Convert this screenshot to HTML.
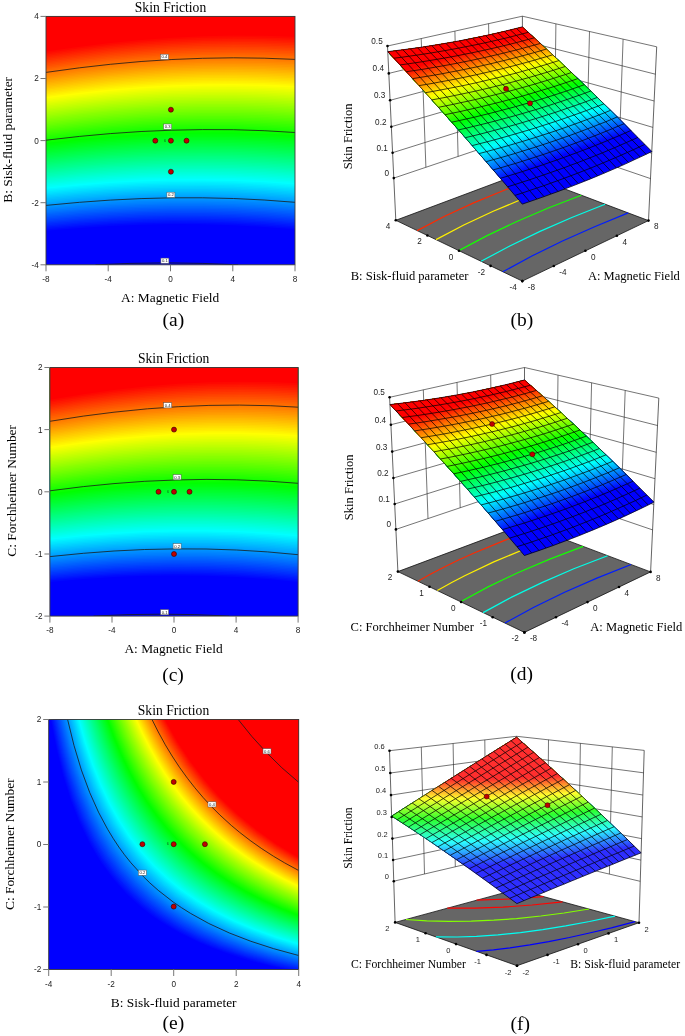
<!DOCTYPE html><html><head><meta charset="utf-8"><title>Skin Friction</title><style>
*{margin:0;padding:0}
html,body{width:685px;height:1036px;background:#fff;overflow:hidden}
svg{display:block}
.ti{font-family:"Liberation Serif",serif;font-size:13.6px;fill:#000}
.ax{font-family:"Liberation Serif",serif;font-size:13.4px;fill:#000}
.ax3{font-family:"Liberation Serif",serif;font-size:12.55px;fill:#000}
.ax3f{font-family:"Liberation Serif",serif;font-size:11.7px;fill:#000}
.cap{font-family:"Liberation Serif",serif;font-size:19.5px;fill:#000}
.tk{font-family:"Liberation Sans",sans-serif;font-size:8.2px;fill:#222}
.tk3{font-family:"Liberation Sans",sans-serif;font-size:8.2px;fill:#222}
.tk3f{font-family:"Liberation Sans",sans-serif;font-size:7.5px;fill:#222}
</style></head><body><svg width="685" height="1036" viewBox="0 0 685 1036"><clipPath id="c16"><rect x="46" y="16.4" width="249" height="248.4"/></clipPath><g clip-path="url(#c16)"><rect x="45" y="15.4" width="251" height="250.4" fill="#0000ff"/><path fill="#0008ff" d="M46 16.4 295 16.4 295 229.3 264.2 226.9 233.4 225.2 202.7 224.3 171.9 224.1 141.1 224.7 110.3 225.9 79.6 227.9 46 230.8 46 16.4Z"/><path fill="#0010ff" d="M46 16.4 295 16.4 295 227.9 264.2 225.5 233.4 223.8 202.7 222.9 171.9 222.7 141.1 223.3 110.3 224.6 79.6 226.5 46 229.5 46 16.4Z"/><path fill="#0018ff" d="M46 16.4 295 16.4 295 226.5 264.2 224 233.4 222.4 202.7 221.5 171.9 221.3 141.1 221.9 110.3 223.2 79.6 225.2 46 228.1 46 16.4Z"/><path fill="#0020ff" d="M46 16.4 295 16.4 295 225 264.2 222.6 233.4 221 202.7 220.1 171.9 220 141.1 220.5 110.3 221.8 79.6 223.8 46 226.8 46 16.4Z"/><path fill="#0028ff" d="M46 16.4 295 16.4 295 223.6 264.2 221.2 233.4 219.6 202.7 218.7 171.9 218.6 141.1 219.2 110.3 220.5 79.6 222.5 46 225.4 46 16.4Z"/><path fill="#0030ff" d="M46 16.4 295 16.4 295 222.2 264.2 219.8 233.4 218.1 202.7 217.3 171.9 217.2 141.1 217.8 110.3 219.1 79.6 221.1 46 224.1 46 16.4Z"/><path fill="#0038ff" d="M46 16.4 295 16.4 295 220.7 264.2 218.3 233.4 216.7 202.7 215.9 171.9 215.8 141.1 216.4 110.3 217.7 79.6 219.8 46 222.7 46 16.4Z"/><path fill="#0040ff" d="M46 16.4 295 16.4 295 219.3 264.2 216.9 233.4 215.3 202.7 214.5 171.9 214.4 141.1 215 110.3 216.4 79.6 218.4 46 221.4 46 16.4Z"/><path fill="#0048ff" d="M46 16.4 295 16.4 295 217.9 264.2 215.5 233.4 213.9 202.7 213.1 171.9 213 141.1 213.6 110.3 215 79.6 217 46 220 46 16.4Z"/><path fill="#0050ff" d="M46 16.4 295 16.4 295 216.4 264.2 214.1 233.4 212.5 202.7 211.7 171.9 211.6 141.1 212.2 110.3 213.6 79.6 215.7 46 218.7 46 16.4Z"/><path fill="#0058ff" d="M46 16.4 295 16.4 295 215 264.2 212.6 233.4 211.1 202.7 210.3 171.9 210.2 141.1 210.9 110.3 212.2 79.6 214.3 46 217.3 46 16.4Z"/><path fill="#0060ff" d="M46 16.4 295 16.4 295 213.5 264.2 211.2 233.4 209.6 202.7 208.8 171.9 208.8 141.1 209.5 110.3 210.9 79.6 213 46 216 46 16.4Z"/><path fill="#0068ff" d="M46 16.4 295 16.4 295 212.1 264.2 209.8 233.4 208.2 202.7 207.4 171.9 207.4 141.1 208.1 110.3 209.5 79.6 211.6 46 214.6 46 16.4Z"/><path fill="#0070ff" d="M46 16.4 295 16.4 295 210.6 264.2 208.3 233.4 206.8 202.7 206 171.9 206 141.1 206.7 110.3 208.1 79.6 210.2 46 213.3 46 16.4Z"/><path fill="#0078ff" d="M46 16.4 295 16.4 295 209.2 264.2 206.9 233.4 205.4 202.7 204.6 171.9 204.6 141.1 205.3 110.3 206.7 79.6 208.9 46 211.9 46 16.4Z"/><path fill="#0080ff" d="M46 16.4 295 16.4 295 207.8 264.2 205.5 233.4 203.9 202.7 203.2 171.9 203.2 141.1 203.9 110.3 205.3 79.6 207.5 46 210.6 46 16.4Z"/><path fill="#0087ff" d="M46 16.4 295 16.4 295 206.3 264.2 204 233.4 202.5 202.7 201.8 171.9 201.8 141.1 202.5 110.3 204 79.6 206.1 46 209.2 46 16.4Z"/><path fill="#008fff" d="M46 16.4 295 16.4 295 204.9 264.2 202.6 233.4 201.1 202.7 200.4 171.9 200.4 141.1 201.1 110.3 202.6 79.6 204.7 46 207.9 46 16.4Z"/><path fill="#0097ff" d="M46 16.4 295 16.4 295 203.4 264.2 201.1 233.4 199.7 202.7 198.9 171.9 199 141.1 199.7 110.3 201.2 79.6 203.4 46 206.5 46 16.4Z"/><path fill="#009fff" d="M46 16.4 295 16.4 295 202 264.2 199.7 233.4 198.2 202.7 197.5 171.9 197.6 141.1 198.3 110.3 199.8 79.6 202 46 205.2 46 16.4Z"/><path fill="#00a7ff" d="M46 16.4 295 16.4 295 200.5 264.2 198.3 233.4 196.8 202.7 196.1 171.9 196.1 141.1 196.9 110.3 198.4 79.6 200.6 46 203.8 46 16.4Z"/><path fill="#00afff" d="M46 16.4 295 16.4 295 199.1 264.2 196.8 233.4 195.4 202.7 194.7 171.9 194.7 141.1 195.5 110.3 197 79.6 199.3 46 202.4 46 16.4Z"/><path fill="#00b7ff" d="M46 16.4 295 16.4 295 197.6 264.2 195.4 233.4 193.9 202.7 193.2 171.9 193.3 141.1 194.1 110.3 195.7 79.6 197.9 46 201.1 46 16.4Z"/><path fill="#00bfff" d="M46 16.4 295 16.4 295 196.1 264.2 193.9 233.4 192.5 202.7 191.8 171.9 191.9 141.1 192.7 110.3 194.3 79.6 196.5 46 199.7 46 16.4Z"/><path fill="#00c7ff" d="M46 16.4 295 16.4 295 194.7 264.2 192.5 233.4 191.1 202.7 190.4 171.9 190.5 141.1 191.3 110.3 192.9 79.6 195.1 46 198.3 46 16.4Z"/><path fill="#00cfff" d="M46 16.4 295 16.4 295 193.2 264.2 191 233.4 189.6 202.7 189 171.9 189.1 141.1 189.9 110.3 191.5 79.6 193.7 46 197 46 16.4Z"/><path fill="#00d7ff" d="M46 16.4 295 16.4 295 191.8 264.2 189.6 233.4 188.2 202.7 187.5 171.9 187.7 141.1 188.5 110.3 190.1 79.6 192.4 46 195.6 46 16.4Z"/><path fill="#00dfff" d="M46 16.4 295 16.4 295 190.3 264.2 188.1 233.4 186.7 202.7 186.1 171.9 186.2 141.1 187.1 110.3 188.7 79.6 191 46 194.2 46 16.4Z"/><path fill="#00e7ff" d="M46 16.4 295 16.4 295 188.8 264.2 186.7 233.4 185.3 202.7 184.7 171.9 184.8 141.1 185.7 110.3 187.3 79.6 189.6 46 192.9 46 16.4Z"/><path fill="#00efff" d="M46 16.4 295 16.4 295 187.4 264.2 185.2 233.4 183.8 202.7 183.2 171.9 183.4 141.1 184.3 110.3 185.9 79.6 188.2 46 191.5 46 16.4Z"/><path fill="#00f7ff" d="M46 16.4 295 16.4 295 185.9 264.2 183.8 233.4 182.4 202.7 181.8 171.9 182 141.1 182.9 110.3 184.5 79.6 186.8 46 190.1 46 16.4Z"/><path fill="#00ffff" d="M46 16.4 295 16.4 295 184.5 264.2 182.3 233.4 181 202.7 180.4 171.9 180.6 141.1 181.5 110.3 183.1 79.6 185.4 46 188.8 46 16.4Z"/><path fill="#00fff7" d="M46 16.4 295 16.4 295 183 264.2 180.9 233.4 179.5 202.7 178.9 171.9 179.1 141.1 180.1 110.3 181.7 79.6 184.1 46 187.4 46 16.4Z"/><path fill="#00ffef" d="M46 16.4 295 16.4 295 181.5 264.2 179.4 233.4 178.1 202.7 177.5 171.9 177.7 141.1 178.6 110.3 180.3 79.6 182.7 46 186 46 16.4Z"/><path fill="#00ffe7" d="M46 16.4 295 16.4 295 180 264.2 177.9 233.4 176.6 202.7 176.1 171.9 176.3 141.1 177.2 110.3 178.9 79.6 181.3 46 184.6 46 16.4Z"/><path fill="#00ffdf" d="M46 16.4 295 16.4 295 178.6 264.2 176.5 233.4 175.2 202.7 174.6 171.9 174.8 141.1 175.8 110.3 177.5 79.6 179.9 46 183.3 46 16.4Z"/><path fill="#00ffd7" d="M46 16.4 295 16.4 295 177.1 264.2 175 233.4 173.7 202.7 173.2 171.9 173.4 141.1 174.4 110.3 176.1 79.6 178.5 46 181.9 46 16.4Z"/><path fill="#00ffcf" d="M46 16.4 295 16.4 295 175.6 264.2 173.5 233.4 172.3 202.7 171.7 171.9 172 141.1 173 110.3 174.7 79.6 177.1 46 180.5 46 16.4Z"/><path fill="#00ffc7" d="M46 16.4 295 16.4 295 174.1 264.2 172.1 233.4 170.8 202.7 170.3 171.9 170.6 141.1 171.6 110.3 173.3 79.6 175.7 46 179.1 46 16.4Z"/><path fill="#00ffbf" d="M46 16.4 295 16.4 295 172.7 264.2 170.6 233.4 169.3 202.7 168.9 171.9 169.1 141.1 170.1 110.3 171.9 79.6 174.3 46 177.7 46 16.4Z"/><path fill="#00ffb7" d="M46 16.4 295 16.4 295 171.2 264.2 169.1 233.4 167.9 202.7 167.4 171.9 167.7 141.1 168.7 110.3 170.5 79.6 172.9 46 176.4 46 16.4Z"/><path fill="#00ffaf" d="M46 16.4 295 16.4 295 169.7 264.2 167.7 233.4 166.4 202.7 166 171.9 166.3 141.1 167.3 110.3 169.1 79.6 171.5 46 175 46 16.4Z"/><path fill="#00ffa7" d="M46 16.4 295 16.4 295 168.2 264.2 166.2 233.4 165 202.7 164.5 171.9 164.8 141.1 165.9 110.3 167.6 79.6 170.1 46 173.6 46 16.4Z"/><path fill="#00ff9f" d="M46 16.4 295 16.4 295 166.7 264.2 164.7 233.4 163.5 202.7 163.1 171.9 163.4 141.1 164.4 110.3 166.2 79.6 168.7 46 172.2 46 16.4Z"/><path fill="#00ff97" d="M46 16.4 295 16.4 295 165.3 264.2 163.3 233.4 162 202.7 161.6 171.9 161.9 141.1 163 110.3 164.8 79.6 167.3 46 170.8 46 16.4Z"/><path fill="#00ff8f" d="M46 16.4 295 16.4 295 163.8 264.2 161.8 233.4 160.6 202.7 160.2 171.9 160.5 141.1 161.6 110.3 163.4 79.6 165.9 46 169.4 46 16.4Z"/><path fill="#00ff87" d="M46 16.4 295 16.4 295 162.3 264.2 160.3 233.4 159.1 202.7 158.7 171.9 159.1 141.1 160.2 110.3 162 79.6 164.5 46 168.1 46 16.4Z"/><path fill="#00ff80" d="M46 16.4 295 16.4 295 160.8 264.2 158.8 233.4 157.6 202.7 157.2 171.9 157.6 141.1 158.7 110.3 160.6 79.6 163.1 46 166.7 46 16.4Z"/><path fill="#00ff78" d="M46 16.4 295 16.4 295 159.3 264.2 157.3 233.4 156.2 202.7 155.8 171.9 156.2 141.1 157.3 110.3 159.1 79.6 161.7 46 165.3 46 16.4Z"/><path fill="#00ff70" d="M46 16.4 295 16.4 295 157.8 264.2 155.9 233.4 154.7 202.7 154.3 171.9 154.7 141.1 155.9 110.3 157.7 79.6 160.3 46 163.9 46 16.4Z"/><path fill="#00ff68" d="M46 16.4 295 16.4 295 156.3 264.2 154.4 233.4 153.2 202.7 152.9 171.9 153.3 141.1 154.4 110.3 156.3 79.6 158.9 46 162.5 46 16.4Z"/><path fill="#00ff60" d="M46 16.4 295 16.4 295 154.8 264.2 152.9 233.4 151.8 202.7 151.4 171.9 151.8 141.1 153 110.3 154.9 79.6 157.5 46 161.1 46 16.4Z"/><path fill="#00ff58" d="M46 16.4 295 16.4 295 153.3 264.2 151.4 233.4 150.3 202.7 149.9 171.9 150.4 141.1 151.6 110.3 153.5 79.6 156.1 46 159.7 46 16.4Z"/><path fill="#00ff50" d="M46 16.4 295 16.4 295 151.8 264.2 149.9 233.4 148.8 202.7 148.5 171.9 148.9 141.1 150.1 110.3 152 79.6 154.7 46 158.3 46 16.4Z"/><path fill="#00ff48" d="M46 16.4 295 16.4 295 150.3 264.2 148.4 233.4 147.3 202.7 147 171.9 147.5 141.1 148.7 110.3 150.6 79.6 153.2 46 156.9 46 16.4Z"/><path fill="#00ff40" d="M46 16.4 295 16.4 295 148.8 264.2 146.9 233.4 145.9 202.7 145.6 171.9 146 141.1 147.2 110.3 149.2 79.6 151.8 46 155.5 46 16.4Z"/><path fill="#00ff38" d="M46 16.4 295 16.4 295 147.3 264.2 145.5 233.4 144.4 202.7 144.1 171.9 144.6 141.1 145.8 110.3 147.7 79.6 150.4 46 154.1 46 16.4Z"/><path fill="#00ff30" d="M46 16.4 295 16.4 295 145.8 264.2 144 233.4 142.9 202.7 142.6 171.9 143.1 141.1 144.3 110.3 146.3 79.6 149 46 152.7 46 16.4Z"/><path fill="#00ff28" d="M46 16.4 295 16.4 295 144.3 264.2 142.5 233.4 141.4 202.7 141.1 171.9 141.7 141.1 142.9 110.3 144.9 79.6 147.6 46 151.3 46 16.4Z"/><path fill="#00ff20" d="M46 16.4 295 16.4 295 142.8 264.2 141 233.4 139.9 202.7 139.7 171.9 140.2 141.1 141.5 110.3 143.5 79.6 146.2 46 149.9 46 16.4Z"/><path fill="#00ff18" d="M46 16.4 295 16.4 295 141.3 264.2 139.5 233.4 138.4 202.7 138.2 171.9 138.7 141.1 140 110.3 142 79.6 144.7 46 148.5 46 16.4Z"/><path fill="#00ff10" d="M46 16.4 295 16.4 295 139.8 264.2 138 233.4 137 202.7 136.7 171.9 137.3 141.1 138.6 110.3 140.6 79.6 143.3 46 147.1 46 16.4Z"/><path fill="#00ff08" d="M46 16.4 295 16.4 295 138.3 264.2 136.5 233.4 135.5 202.7 135.3 171.9 135.8 141.1 137.1 110.3 139.1 79.6 141.9 46 145.7 46 16.4Z"/><path fill="#00ff00" d="M46 16.4 295 16.4 295 136.8 264.2 135 233.4 134 202.7 133.8 171.9 134.3 141.1 135.7 110.3 137.7 79.6 140.5 46 144.3 46 16.4Z"/><path fill="#08ff00" d="M46 16.4 295 16.4 295 135.3 264.2 133.5 233.4 132.5 202.7 132.3 171.9 132.9 141.1 134.2 110.3 136.3 79.6 139 46 142.9 46 16.4Z"/><path fill="#10ff00" d="M46 16.4 295 16.4 295 133.8 264.2 132 233.4 131 202.7 130.8 171.9 131.4 141.1 132.8 110.3 134.8 79.6 137.6 46 141.5 46 16.4Z"/><path fill="#18ff00" d="M46 16.4 295 16.4 295 132.3 264.2 130.5 233.4 129.5 202.7 129.3 171.9 129.9 141.1 131.3 110.3 133.4 79.6 136.2 46 140 46 16.4Z"/><path fill="#20ff00" d="M46 16.4 295 16.4 295 130.7 264.2 129 233.4 128 202.7 127.9 171.9 128.5 141.1 129.8 110.3 131.9 79.6 134.8 46 138.6 46 16.4Z"/><path fill="#28ff00" d="M46 16.4 295 16.4 295 129.2 264.2 127.5 233.4 126.5 202.7 126.4 171.9 127 141.1 128.4 110.3 130.5 79.6 133.3 46 137.2 46 16.4Z"/><path fill="#30ff00" d="M46 16.4 295 16.4 295 127.7 264.2 126 233.4 125 202.7 124.9 171.9 125.5 141.1 126.9 110.3 129.1 79.6 131.9 46 135.8 46 16.4Z"/><path fill="#38ff00" d="M46 16.4 295 16.4 295 126.2 264.2 124.4 233.4 123.5 202.7 123.4 171.9 124.1 141.1 125.5 110.3 127.6 79.6 130.5 46 134.4 46 16.4Z"/><path fill="#40ff00" d="M46 16.4 295 16.4 295 124.6 264.2 122.9 233.4 122 202.7 121.9 171.9 122.6 141.1 124 110.3 126.2 79.6 129 46 133 46 16.4Z"/><path fill="#48ff00" d="M46 16.4 295 16.4 295 123.1 264.2 121.4 233.4 120.5 202.7 120.4 171.9 121.1 141.1 122.5 110.3 124.7 79.6 127.6 46 131.5 46 16.4Z"/><path fill="#50ff00" d="M46 16.4 295 16.4 295 121.6 264.2 119.9 233.4 119 202.7 118.9 171.9 119.6 141.1 121.1 110.3 123.3 79.6 126.2 46 130.1 46 16.4Z"/><path fill="#58ff00" d="M46 16.4 295 16.4 295 120.1 264.2 118.4 233.4 117.5 202.7 117.4 171.9 118.1 141.1 119.6 110.3 121.8 79.6 124.7 46 128.7 46 16.4Z"/><path fill="#60ff00" d="M46 16.4 295 16.4 295 118.5 264.2 116.9 233.4 116 202.7 115.9 171.9 116.7 141.1 118.1 110.3 120.4 79.6 123.3 46 127.3 46 16.4Z"/><path fill="#68ff00" d="M46 16.4 295 16.4 295 117 264.2 115.3 233.4 114.5 202.7 114.5 171.9 115.2 141.1 116.7 110.3 118.9 79.6 121.8 46 125.9 46 16.4Z"/><path fill="#70ff00" d="M46 16.4 295 16.4 295 115.5 264.2 113.8 233.4 113 202.7 113 171.9 113.7 141.1 115.2 110.3 117.4 79.6 120.4 46 124.4 46 16.4Z"/><path fill="#78ff00" d="M46 16.4 295 16.4 295 113.9 264.2 112.3 233.4 111.5 202.7 111.5 171.9 112.2 141.1 113.7 110.3 116 79.6 119 46 123 46 16.4Z"/><path fill="#80ff00" d="M46 16.4 295 16.4 295 112.4 264.2 110.8 233.4 110 202.7 110 171.9 110.7 141.1 112.3 110.3 114.5 79.6 117.5 46 121.6 46 16.4Z"/><path fill="#87ff00" d="M46 16.4 295 16.4 295 110.9 264.2 109.3 233.4 108.5 202.7 108.5 171.9 109.2 141.1 110.8 110.3 113.1 79.6 116.1 46 120.1 46 16.4Z"/><path fill="#8fff00" d="M46 16.4 295 16.4 295 109.3 264.2 107.7 233.4 106.9 202.7 107 171.9 107.8 141.1 109.3 110.3 111.6 79.6 114.6 46 118.7 46 16.4Z"/><path fill="#97ff00" d="M46 16.4 295 16.4 295 107.8 264.2 106.2 233.4 105.4 202.7 105.5 171.9 106.3 141.1 107.8 110.3 110.2 79.6 113.2 46 117.3 46 16.4Z"/><path fill="#9fff00" d="M46 16.4 295 16.4 295 106.3 264.2 104.7 233.4 103.9 202.7 104 171.9 104.8 141.1 106.4 110.3 108.7 79.6 111.7 46 115.9 46 16.4Z"/><path fill="#a7ff00" d="M46 16.4 295 16.4 295 104.7 264.2 103.1 233.4 102.4 202.7 102.4 171.9 103.3 141.1 104.9 110.3 107.2 79.6 110.3 46 114.4 46 16.4Z"/><path fill="#afff00" d="M46 16.4 295 16.4 295 103.2 264.2 101.6 233.4 100.9 202.7 100.9 171.9 101.8 141.1 103.4 110.3 105.8 79.6 108.8 46 113 46 16.4Z"/><path fill="#b7ff00" d="M46 16.4 295 16.4 295 101.6 264.2 100.1 233.4 99.3 202.7 99.4 171.9 100.3 141.1 101.9 110.3 104.3 79.6 107.4 46 111.5 46 16.4Z"/><path fill="#bfff00" d="M46 16.4 295 16.4 295 100.1 264.2 98.5 233.4 97.8 202.7 97.9 171.9 98.8 141.1 100.4 110.3 102.8 79.6 105.9 46 110.1 46 16.4Z"/><path fill="#c7ff00" d="M46 16.4 295 16.4 295 98.5 264.2 97 233.4 96.3 202.7 96.4 171.9 97.3 141.1 99 110.3 101.3 79.6 104.5 46 108.7 46 16.4Z"/><path fill="#cfff00" d="M46 16.4 295 16.4 295 97 264.2 95.5 233.4 94.8 202.7 94.9 171.9 95.8 141.1 97.5 110.3 99.9 79.6 103 46 107.2 46 16.4Z"/><path fill="#d7ff00" d="M46 16.4 295 16.4 295 95.4 264.2 93.9 233.4 93.2 202.7 93.4 171.9 94.3 141.1 96 110.3 98.4 79.6 101.6 46 105.8 46 16.4Z"/><path fill="#dfff00" d="M46 16.4 295 16.4 295 93.9 264.2 92.4 233.4 91.7 202.7 91.9 171.9 92.8 141.1 94.5 110.3 96.9 79.6 100.1 46 104.3 46 16.4Z"/><path fill="#e7ff00" d="M46 16.4 295 16.4 295 92.3 264.2 90.8 233.4 90.2 202.7 90.3 171.9 91.3 141.1 93 110.3 95.5 79.6 98.6 46 102.9 46 16.4Z"/><path fill="#efff00" d="M46 16.4 295 16.4 295 90.8 264.2 89.3 233.4 88.7 202.7 88.8 171.9 89.8 141.1 91.5 110.3 94 79.6 97.2 46 101.5 46 16.4Z"/><path fill="#f7ff00" d="M46 16.4 295 16.4 295 89.2 264.2 87.7 233.4 87.1 202.7 87.3 171.9 88.3 141.1 90 110.3 92.5 79.6 95.7 46 100 46 16.4Z"/><path fill="#ffff00" d="M46 16.4 295 16.4 295 87.6 264.2 86.2 233.4 85.6 202.7 85.8 171.9 86.8 141.1 88.5 110.3 91 79.6 94.2 46 98.6 46 16.4Z"/><path fill="#fff700" d="M46 16.4 295 16.4 295 86.1 264.2 84.6 233.4 84 202.7 84.3 171.9 85.3 141.1 87 110.3 89.5 79.6 92.8 46 97.1 46 16.4Z"/><path fill="#ffef00" d="M46 16.4 295 16.4 295 84.5 264.2 83.1 233.4 82.5 202.7 82.7 171.9 83.7 141.1 85.5 110.3 88.1 79.6 91.3 46 95.7 46 16.4Z"/><path fill="#ffe700" d="M46 16.4 295 16.4 295 82.9 264.2 81.5 233.4 81 202.7 81.2 171.9 82.2 141.1 84 110.3 86.6 79.6 89.8 46 94.2 46 16.4Z"/><path fill="#ffdf00" d="M46 16.4 295 16.4 295 81.4 264.2 80 233.4 79.4 202.7 79.7 171.9 80.7 141.1 82.5 110.3 85.1 79.6 88.4 46 92.8 46 16.4Z"/><path fill="#ffd700" d="M46 16.4 295 16.4 295 79.8 264.2 78.4 233.4 77.9 202.7 78.1 171.9 79.2 141.1 81 110.3 83.6 79.6 86.9 46 91.3 46 16.4Z"/><path fill="#ffcf00" d="M46 16.4 295 16.4 295 78.2 264.2 76.9 233.4 76.3 202.7 76.6 171.9 77.7 141.1 79.5 110.3 82.1 79.6 85.4 46 89.8 46 16.4Z"/><path fill="#ffc700" d="M46 16.4 295 16.4 295 76.7 264.2 75.3 233.4 74.8 202.7 75.1 171.9 76.2 141.1 78 110.3 80.6 79.6 84 46 88.4 46 16.4Z"/><path fill="#ffbf00" d="M46 16.4 295 16.4 295 75.1 264.2 73.7 233.4 73.2 202.7 73.5 171.9 74.6 141.1 76.5 110.3 79.1 79.6 82.5 46 86.9 46 16.4Z"/><path fill="#ffb700" d="M46 16.4 295 16.4 295 73.5 264.2 72.2 233.4 71.7 202.7 72 171.9 73.1 141.1 75 110.3 77.6 79.6 81 46 85.5 46 16.4Z"/><path fill="#ffaf00" d="M46 16.4 295 16.4 295 71.9 264.2 70.6 233.4 70.1 202.7 70.5 171.9 71.6 141.1 73.5 110.3 76.1 79.6 79.5 46 84 46 16.4Z"/><path fill="#ffa700" d="M46 16.4 295 16.4 295 70.4 264.2 69.1 233.4 68.6 202.7 68.9 171.9 70.1 141.1 72 110.3 74.7 79.6 78 46 82.6 46 16.4Z"/><path fill="#ff9f00" d="M46 16.4 295 16.4 295 68.8 264.2 67.5 233.4 67 202.7 67.4 171.9 68.5 141.1 70.5 110.3 73.2 79.6 76.6 46 81.1 46 16.4Z"/><path fill="#ff9700" d="M46 16.4 295 16.4 295 67.2 264.2 65.9 233.4 65.5 202.7 65.8 171.9 67 141.1 69 110.3 71.7 79.6 75.1 46 79.6 46 16.4Z"/><path fill="#ff8f00" d="M46 16.4 295 16.4 295 65.6 264.2 64.3 233.4 63.9 202.7 64.3 171.9 65.5 141.1 67.4 110.3 70.2 79.6 73.6 46 78.2 46 16.4Z"/><path fill="#ff8700" d="M46 16.4 295 16.4 295 64 264.2 62.8 233.4 62.4 202.7 62.8 171.9 64 141.1 65.9 110.3 68.7 79.6 72.1 46 76.7 46 16.4Z"/><path fill="#ff8000" d="M46 16.4 295 16.4 295 62.4 264.2 61.2 233.4 60.8 202.7 61.2 171.9 62.4 141.1 64.4 110.3 67.2 79.6 70.6 46 75.2 46 16.4Z"/><path fill="#ff7800" d="M46 16.4 295 16.4 295 60.9 264.2 59.6 233.4 59.2 202.7 59.7 171.9 60.9 141.1 62.9 110.3 65.7 79.6 69.1 46 73.7 46 16.4Z"/><path fill="#ff7000" d="M46 16.4 295 16.4 295 59.3 264.2 58 233.4 57.7 202.7 58.1 171.9 59.4 141.1 61.4 110.3 64.1 79.6 67.7 46 72.3 46 16.4Z"/><path fill="#ff6800" d="M46 16.4 295 16.4 295 57.7 264.2 56.5 233.4 56.1 202.7 56.6 171.9 57.8 141.1 59.9 110.3 62.6 79.6 66.2 46 70.8 46 16.4Z"/><path fill="#ff6000" d="M46 16.4 295 16.4 295 56.1 264.2 54.9 233.4 54.5 202.7 55 171.9 56.3 141.1 58.3 110.3 61.1 79.6 64.7 46 69.3 46 16.4Z"/><path fill="#ff5800" d="M46 16.4 295 16.4 295 54.5 264.2 53.3 233.4 53 202.7 53.5 171.9 54.7 141.1 56.8 110.3 59.6 79.6 63.2 46 67.9 46 16.4Z"/><path fill="#ff5000" d="M46 16.4 295 16.4 295 52.9 264.2 51.7 233.4 51.4 202.7 51.9 171.9 53.2 141.1 55.3 110.3 58.1 79.6 61.7 46 66.4 46 16.4Z"/><path fill="#ff4800" d="M46 16.4 295 16.4 295 51.3 264.2 50.1 233.4 49.8 202.7 50.3 171.9 51.7 141.1 53.7 110.3 56.6 79.6 60.2 46 64.9 46 16.4Z"/><path fill="#ff4000" d="M46 16.4 295 16.4 295 49.7 264.2 48.5 233.4 48.2 202.7 48.8 171.9 50.1 141.1 52.2 110.3 55.1 79.6 58.7 46 63.4 46 16.4Z"/><path fill="#ff3800" d="M46 16.4 295 16.4 295 48.1 264.2 47 233.4 46.7 202.7 47.2 171.9 48.6 141.1 50.7 110.3 53.6 79.6 57.2 46 61.9 46 16.4Z"/><path fill="#ff3000" d="M46 16.4 295 16.4 295 46.5 264.2 45.4 233.4 45.1 202.7 45.7 171.9 47 141.1 49.2 110.3 52.1 79.6 55.7 46 60.5 46 16.4Z"/><path fill="#ff2800" d="M46 16.4 295 16.4 295 44.9 264.2 43.8 233.4 43.5 202.7 44.1 171.9 45.5 141.1 47.6 110.3 50.5 79.6 54.2 46 59 46 16.4Z"/><path fill="#ff2000" d="M46 16.4 295 16.4 295 43.3 264.2 42.2 233.4 41.9 202.7 42.5 171.9 43.9 141.1 46.1 110.3 49 79.6 52.7 46 57.5 46 16.4Z"/><path fill="#ff1800" d="M46 16.4 295 16.4 295 41.7 264.2 40.6 233.4 40.4 202.7 41 171.9 42.4 141.1 44.5 110.3 47.5 79.6 51.2 46 56 46 16.4Z"/><path fill="#ff1000" d="M46 16.4 295 16.4 295 40 264.2 39 233.4 38.8 202.7 39.4 171.9 40.8 141.1 43 110.3 46 79.6 49.7 46 54.5 46 16.4Z"/><path fill="#ff0800" d="M46 16.4 295 16.4 295 38.4 264.2 37.4 233.4 37.2 202.7 37.8 171.9 39.3 141.1 41.5 110.3 44.4 79.6 48.2 46 53 46 16.4Z"/><path fill="#ff0000" d="M46 16.4 295 16.4 295 36.8 264.2 35.8 233.4 35.6 202.7 36.2 171.9 37.7 141.1 39.9 110.3 42.9 79.6 46.7 46 51.5 46 16.4Z"/><polyline fill="none" stroke="#1a1a1a" stroke-width="0.8" points="238.2,264.8 202.7,263.4 166.3,262.9 129.9,263.4 95.5,264.8"/><polyline fill="none" stroke="#1a1a1a" stroke-width="0.8" points="295,202.3 264.2,200 233.4,198.5 202.7,197.8 171.9,197.8 141.1,198.6 110.3,200.1 79.6,202.3 46,205.4"/><polyline fill="none" stroke="#1a1a1a" stroke-width="0.8" points="295,132.5 264.2,130.7 233.4,129.7 202.7,129.6 171.9,130.2 141.1,131.5 110.3,133.6 79.6,136.4 46,140.2"/><polyline fill="none" stroke="#1a1a1a" stroke-width="0.8" points="295,59.4 264.2,58.2 233.4,57.8 202.7,58.3 171.9,59.5 141.1,61.5 110.3,64.3 79.6,67.8 46,72.4"/></g><rect x="160.5" y="54.2" width="8" height="5.2" fill="#fff" stroke="#555" stroke-width="0.5"/><text x="164.5" y="58.3" font-size="4.2" text-anchor="middle" font-family="Liberation Sans,sans-serif" fill="#222">0.4</text><rect x="163.6" y="124" width="8" height="5.2" fill="#fff" stroke="#555" stroke-width="0.5"/><text x="167.6" y="128.1" font-size="4.2" text-anchor="middle" font-family="Liberation Sans,sans-serif" fill="#222">0.3</text><rect x="166.9" y="192.2" width="8" height="5.2" fill="#fff" stroke="#555" stroke-width="0.5"/><text x="170.9" y="196.3" font-size="4.2" text-anchor="middle" font-family="Liberation Sans,sans-serif" fill="#222">0.2</text><rect x="160.9" y="258.1" width="8" height="5.2" fill="#fff" stroke="#555" stroke-width="0.5"/><text x="164.9" y="262.2" font-size="4.2" text-anchor="middle" font-family="Liberation Sans,sans-serif" fill="#222">0.1</text><circle cx="155.3" cy="140.7" r="2.5" fill="#c00000" stroke="#300" stroke-width="0.6"/><circle cx="170.9" cy="140.7" r="2.5" fill="#c00000" stroke="#300" stroke-width="0.6"/><circle cx="186.5" cy="140.7" r="2.5" fill="#c00000" stroke="#300" stroke-width="0.6"/><circle cx="170.9" cy="109.7" r="2.5" fill="#c00000" stroke="#300" stroke-width="0.6"/><circle cx="170.9" cy="171.7" r="2.5" fill="#c00000" stroke="#300" stroke-width="0.6"/><rect x="46" y="16.4" width="249" height="248.4" fill="none" stroke="#3a3a3a" stroke-width="0.9"/><text x="46" y="281.8" class="tk" text-anchor="middle">-8</text><text x="108.2" y="281.8" class="tk" text-anchor="middle">-4</text><text x="170.5" y="281.8" class="tk" text-anchor="middle">0</text><text x="232.8" y="281.8" class="tk" text-anchor="middle">4</text><text x="295" y="281.8" class="tk" text-anchor="middle">8</text><text x="38.7" y="267.7" class="tk" text-anchor="end">-4</text><text x="38.7" y="205.6" class="tk" text-anchor="end">-2</text><text x="38.7" y="143.5" class="tk" text-anchor="end">0</text><text x="38.7" y="81.4" class="tk" text-anchor="end">2</text><text x="38.7" y="19.3" class="tk" text-anchor="end">4</text><path d="M46 264.8v6.5M108.2 264.8v6.5M170.5 264.8v6.5M232.8 264.8v6.5M295 264.8v6.5M46 264.8h-5.5M46 202.7h-5.5M46 140.6h-5.5M46 78.5h-5.5M46 16.4h-5.5" stroke="#777" stroke-width="1" fill="none"/><text x="170.5" y="11.6" class="ti" text-anchor="middle">Skin Friction</text><text x="170.2" y="301.9" class="ax" text-anchor="middle">A: Magnetic Field</text><text transform="translate(11.9 139.8) rotate(-90)" class="ax" text-anchor="middle">B: Sisk-fluid parameter</text><text x="173.4" y="325.5" class="cap" text-anchor="middle">(a)</text><clipPath id="c367"><rect x="49.9" y="367.5" width="248.2" height="248.6"/></clipPath><g clip-path="url(#c367)"><rect x="48.9" y="366.5" width="250.2" height="250.6" fill="#0000ff"/><path fill="#0008ff" d="M49.9 367.5 298.1 367.5 298.1 582.1 267.4 579.1 236.7 577 206.1 575.8 175.4 575.4 144.7 575.8 114 577 83.4 579 49.9 582 49.9 367.5Z"/><path fill="#0010ff" d="M49.9 367.5 298.1 367.5 298.1 580.7 267.4 577.7 236.7 575.6 206.1 574.4 175.4 574 144.7 574.4 114 575.6 83.4 577.6 49.9 580.6 49.9 367.5Z"/><path fill="#0018ff" d="M49.9 367.5 298.1 367.5 298.1 579.2 267.4 576.3 236.7 574.2 206.1 573 175.4 572.6 144.7 573 114 574.2 83.4 576.3 49.9 579.3 49.9 367.5Z"/><path fill="#0020ff" d="M49.9 367.5 298.1 367.5 298.1 577.8 267.4 574.8 236.7 572.8 206.1 571.5 175.4 571.2 144.7 571.6 114 572.9 83.4 574.9 49.9 577.9 49.9 367.5Z"/><path fill="#0028ff" d="M49.9 367.5 298.1 367.5 298.1 576.3 267.4 573.4 236.7 571.3 206.1 570.1 175.4 569.8 144.7 570.2 114 571.5 83.4 573.5 49.9 576.6 49.9 367.5Z"/><path fill="#0030ff" d="M49.9 367.5 298.1 367.5 298.1 574.9 267.4 572 236.7 569.9 206.1 568.7 175.4 568.4 144.7 568.9 114 570.1 83.4 572.2 49.9 575.3 49.9 367.5Z"/><path fill="#0038ff" d="M49.9 367.5 298.1 367.5 298.1 573.4 267.4 570.5 236.7 568.5 206.1 567.3 175.4 567 144.7 567.5 114 568.7 83.4 570.8 49.9 573.9 49.9 367.5Z"/><path fill="#0040ff" d="M49.9 367.5 298.1 367.5 298.1 572 267.4 569.1 236.7 567 206.1 565.9 175.4 565.6 144.7 566.1 114 567.4 83.4 569.4 49.9 572.6 49.9 367.5Z"/><path fill="#0048ff" d="M49.9 367.5 298.1 367.5 298.1 570.5 267.4 567.6 236.7 565.6 206.1 564.5 175.4 564.2 144.7 564.7 114 566 83.4 568.1 49.9 571.2 49.9 367.5Z"/><path fill="#0050ff" d="M49.9 367.5 298.1 367.5 298.1 569.1 267.4 566.2 236.7 564.2 206.1 563 175.4 562.7 144.7 563.3 114 564.6 83.4 566.7 49.9 569.9 49.9 367.5Z"/><path fill="#0058ff" d="M49.9 367.5 298.1 367.5 298.1 567.6 267.4 564.7 236.7 562.7 206.1 561.6 175.4 561.3 144.7 561.9 114 563.2 83.4 565.3 49.9 568.5 49.9 367.5Z"/><path fill="#0060ff" d="M49.9 367.5 298.1 367.5 298.1 566.2 267.4 563.3 236.7 561.3 206.1 560.2 175.4 559.9 144.7 560.5 114 561.8 83.4 564 49.9 567.2 49.9 367.5Z"/><path fill="#0068ff" d="M49.9 367.5 298.1 367.5 298.1 564.7 267.4 561.8 236.7 559.9 206.1 558.8 175.4 558.5 144.7 559.1 114 560.5 83.4 562.6 49.9 565.8 49.9 367.5Z"/><path fill="#0070ff" d="M49.9 367.5 298.1 367.5 298.1 563.2 267.4 560.4 236.7 558.4 206.1 557.3 175.4 557.1 144.7 557.7 114 559.1 83.4 561.2 49.9 564.5 49.9 367.5Z"/><path fill="#0078ff" d="M49.9 367.5 298.1 367.5 298.1 561.8 267.4 558.9 236.7 557 206.1 555.9 175.4 555.7 144.7 556.3 114 557.7 83.4 559.9 49.9 563.1 49.9 367.5Z"/><path fill="#0080ff" d="M49.9 367.5 298.1 367.5 298.1 560.3 267.4 557.5 236.7 555.5 206.1 554.5 175.4 554.3 144.7 554.9 114 556.3 83.4 558.5 49.9 561.7 49.9 367.5Z"/><path fill="#0087ff" d="M49.9 367.5 298.1 367.5 298.1 558.8 267.4 556 236.7 554.1 206.1 553 175.4 552.8 144.7 553.5 114 554.9 83.4 557.1 49.9 560.4 49.9 367.5Z"/><path fill="#008fff" d="M49.9 367.5 298.1 367.5 298.1 557.4 267.4 554.6 236.7 552.6 206.1 551.6 175.4 551.4 144.7 552.1 114 553.5 83.4 555.7 49.9 559 49.9 367.5Z"/><path fill="#0097ff" d="M49.9 367.5 298.1 367.5 298.1 555.9 267.4 553.1 236.7 551.2 206.1 550.2 175.4 550 144.7 550.7 114 552.1 83.4 554.4 49.9 557.7 49.9 367.5Z"/><path fill="#009fff" d="M49.9 367.5 298.1 367.5 298.1 554.4 267.4 551.6 236.7 549.7 206.1 548.7 175.4 548.6 144.7 549.2 114 550.7 83.4 553 49.9 556.3 49.9 367.5Z"/><path fill="#00a7ff" d="M49.9 367.5 298.1 367.5 298.1 552.9 267.4 550.2 236.7 548.3 206.1 547.3 175.4 547.1 144.7 547.8 114 549.3 83.4 551.6 49.9 554.9 49.9 367.5Z"/><path fill="#00afff" d="M49.9 367.5 298.1 367.5 298.1 551.5 267.4 548.7 236.7 546.8 206.1 545.9 175.4 545.7 144.7 546.4 114 547.9 83.4 550.2 49.9 553.6 49.9 367.5Z"/><path fill="#00b7ff" d="M49.9 367.5 298.1 367.5 298.1 550 267.4 547.2 236.7 545.4 206.1 544.4 175.4 544.3 144.7 545 114 546.5 83.4 548.8 49.9 552.2 49.9 367.5Z"/><path fill="#00bfff" d="M49.9 367.5 298.1 367.5 298.1 548.5 267.4 545.8 236.7 543.9 206.1 543 175.4 542.9 144.7 543.6 114 545.1 83.4 547.4 49.9 550.8 49.9 367.5Z"/><path fill="#00c7ff" d="M49.9 367.5 298.1 367.5 298.1 547 267.4 544.3 236.7 542.5 206.1 541.5 175.4 541.4 144.7 542.2 114 543.7 83.4 546.1 49.9 549.5 49.9 367.5Z"/><path fill="#00cfff" d="M49.9 367.5 298.1 367.5 298.1 545.5 267.4 542.8 236.7 541 206.1 540.1 175.4 540 144.7 540.8 114 542.3 83.4 544.7 49.9 548.1 49.9 367.5Z"/><path fill="#00d7ff" d="M49.9 367.5 298.1 367.5 298.1 544.1 267.4 541.4 236.7 539.5 206.1 538.6 175.4 538.6 144.7 539.3 114 540.9 83.4 543.3 49.9 546.7 49.9 367.5Z"/><path fill="#00dfff" d="M49.9 367.5 298.1 367.5 298.1 542.6 267.4 539.9 236.7 538.1 206.1 537.2 175.4 537.1 144.7 537.9 114 539.5 83.4 541.9 49.9 545.3 49.9 367.5Z"/><path fill="#00e7ff" d="M49.9 367.5 298.1 367.5 298.1 541.1 267.4 538.4 236.7 536.6 206.1 535.7 175.4 535.7 144.7 536.5 114 538.1 83.4 540.5 49.9 544 49.9 367.5Z"/><path fill="#00efff" d="M49.9 367.5 298.1 367.5 298.1 539.6 267.4 536.9 236.7 535.2 206.1 534.3 175.4 534.2 144.7 535.1 114 536.7 83.4 539.1 49.9 542.6 49.9 367.5Z"/><path fill="#00f7ff" d="M49.9 367.5 298.1 367.5 298.1 538.1 267.4 535.4 236.7 533.7 206.1 532.8 175.4 532.8 144.7 533.6 114 535.3 83.4 537.7 49.9 541.2 49.9 367.5Z"/><path fill="#00ffff" d="M49.9 367.5 298.1 367.5 298.1 536.6 267.4 534 236.7 532.2 206.1 531.4 175.4 531.4 144.7 532.2 114 533.9 83.4 536.3 49.9 539.8 49.9 367.5Z"/><path fill="#00fff7" d="M49.9 367.5 298.1 367.5 298.1 535.1 267.4 532.5 236.7 530.7 206.1 529.9 175.4 529.9 144.7 530.8 114 532.4 83.4 534.9 49.9 538.4 49.9 367.5Z"/><path fill="#00ffef" d="M49.9 367.5 298.1 367.5 298.1 533.6 267.4 531 236.7 529.3 206.1 528.4 175.4 528.5 144.7 529.3 114 531 83.4 533.5 49.9 537.1 49.9 367.5Z"/><path fill="#00ffe7" d="M49.9 367.5 298.1 367.5 298.1 532.1 267.4 529.5 236.7 527.8 206.1 527 175.4 527 144.7 527.9 114 529.6 83.4 532.1 49.9 535.7 49.9 367.5Z"/><path fill="#00ffdf" d="M49.9 367.5 298.1 367.5 298.1 530.6 267.4 528 236.7 526.3 206.1 525.5 175.4 525.6 144.7 526.5 114 528.2 83.4 530.7 49.9 534.3 49.9 367.5Z"/><path fill="#00ffd7" d="M49.9 367.5 298.1 367.5 298.1 529.1 267.4 526.5 236.7 524.8 206.1 524 175.4 524.1 144.7 525 114 526.8 83.4 529.3 49.9 532.9 49.9 367.5Z"/><path fill="#00ffcf" d="M49.9 367.5 298.1 367.5 298.1 527.6 267.4 525 236.7 523.3 206.1 522.6 175.4 522.7 144.7 523.6 114 525.3 83.4 527.9 49.9 531.5 49.9 367.5Z"/><path fill="#00ffc7" d="M49.9 367.5 298.1 367.5 298.1 526.1 267.4 523.5 236.7 521.9 206.1 521.1 175.4 521.2 144.7 522.1 114 523.9 83.4 526.5 49.9 530.1 49.9 367.5Z"/><path fill="#00ffbf" d="M49.9 367.5 298.1 367.5 298.1 524.6 267.4 522 236.7 520.4 206.1 519.6 175.4 519.7 144.7 520.7 114 522.5 83.4 525.1 49.9 528.7 49.9 367.5Z"/><path fill="#00ffb7" d="M49.9 367.5 298.1 367.5 298.1 523.1 267.4 520.5 236.7 518.9 206.1 518.2 175.4 518.3 144.7 519.3 114 521.1 83.4 523.6 49.9 527.3 49.9 367.5Z"/><path fill="#00ffaf" d="M49.9 367.5 298.1 367.5 298.1 521.6 267.4 519 236.7 517.4 206.1 516.7 175.4 516.8 144.7 517.8 114 519.6 83.4 522.2 49.9 525.9 49.9 367.5Z"/><path fill="#00ffa7" d="M49.9 367.5 298.1 367.5 298.1 520 267.4 517.5 236.7 515.9 206.1 515.2 175.4 515.4 144.7 516.4 114 518.2 83.4 520.8 49.9 524.5 49.9 367.5Z"/><path fill="#00ff9f" d="M49.9 367.5 298.1 367.5 298.1 518.5 267.4 516 236.7 514.4 206.1 513.7 175.4 513.9 144.7 514.9 114 516.8 83.4 519.4 49.9 523.1 49.9 367.5Z"/><path fill="#00ff97" d="M49.9 367.5 298.1 367.5 298.1 517 267.4 514.5 236.7 512.9 206.1 512.2 175.4 512.4 144.7 513.5 114 515.3 83.4 518 49.9 521.7 49.9 367.5Z"/><path fill="#00ff8f" d="M49.9 367.5 298.1 367.5 298.1 515.5 267.4 513 236.7 511.4 206.1 510.8 175.4 511 144.7 512 114 513.9 83.4 516.6 49.9 520.3 49.9 367.5Z"/><path fill="#00ff87" d="M49.9 367.5 298.1 367.5 298.1 514 267.4 511.5 236.7 509.9 206.1 509.3 175.4 509.5 144.7 510.6 114 512.5 83.4 515.1 49.9 518.9 49.9 367.5Z"/><path fill="#00ff80" d="M49.9 367.5 298.1 367.5 298.1 512.4 267.4 510 236.7 508.4 206.1 507.8 175.4 508 144.7 509.1 114 511 83.4 513.7 49.9 517.5 49.9 367.5Z"/><path fill="#00ff78" d="M49.9 367.5 298.1 367.5 298.1 510.9 267.4 508.5 236.7 506.9 206.1 506.3 175.4 506.6 144.7 507.7 114 509.6 83.4 512.3 49.9 516.1 49.9 367.5Z"/><path fill="#00ff70" d="M49.9 367.5 298.1 367.5 298.1 509.4 267.4 506.9 236.7 505.4 206.1 504.8 175.4 505.1 144.7 506.2 114 508.1 83.4 510.9 49.9 514.7 49.9 367.5Z"/><path fill="#00ff68" d="M49.9 367.5 298.1 367.5 298.1 507.8 267.4 505.4 236.7 503.9 206.1 503.3 175.4 503.6 144.7 504.7 114 506.7 83.4 509.4 49.9 513.3 49.9 367.5Z"/><path fill="#00ff60" d="M49.9 367.5 298.1 367.5 298.1 506.3 267.4 503.9 236.7 502.4 206.1 501.8 175.4 502.1 144.7 503.3 114 505.2 83.4 508 49.9 511.9 49.9 367.5Z"/><path fill="#00ff58" d="M49.9 367.5 298.1 367.5 298.1 504.8 267.4 502.4 236.7 500.9 206.1 500.3 175.4 500.6 144.7 501.8 114 503.8 83.4 506.6 49.9 510.5 49.9 367.5Z"/><path fill="#00ff50" d="M49.9 367.5 298.1 367.5 298.1 503.2 267.4 500.9 236.7 499.4 206.1 498.8 175.4 499.2 144.7 500.3 114 502.3 83.4 505.1 49.9 509.1 49.9 367.5Z"/><path fill="#00ff48" d="M49.9 367.5 298.1 367.5 298.1 501.7 267.4 499.3 236.7 497.9 206.1 497.3 175.4 497.7 144.7 498.9 114 500.9 83.4 503.7 49.9 507.7 49.9 367.5Z"/><path fill="#00ff40" d="M49.9 367.5 298.1 367.5 298.1 500.2 267.4 497.8 236.7 496.4 206.1 495.8 175.4 496.2 144.7 497.4 114 499.4 83.4 502.3 49.9 506.2 49.9 367.5Z"/><path fill="#00ff38" d="M49.9 367.5 298.1 367.5 298.1 498.6 267.4 496.3 236.7 494.8 206.1 494.3 175.4 494.7 144.7 495.9 114 498 83.4 500.8 49.9 504.8 49.9 367.5Z"/><path fill="#00ff30" d="M49.9 367.5 298.1 367.5 298.1 497.1 267.4 494.7 236.7 493.3 206.1 492.8 175.4 493.2 144.7 494.5 114 496.5 83.4 499.4 49.9 503.4 49.9 367.5Z"/><path fill="#00ff28" d="M49.9 367.5 298.1 367.5 298.1 495.5 267.4 493.2 236.7 491.8 206.1 491.3 175.4 491.7 144.7 493 114 495.1 83.4 498 49.9 502 49.9 367.5Z"/><path fill="#00ff20" d="M49.9 367.5 298.1 367.5 298.1 494 267.4 491.7 236.7 490.3 206.1 489.8 175.4 490.2 144.7 491.5 114 493.6 83.4 496.5 49.9 500.6 49.9 367.5Z"/><path fill="#00ff18" d="M49.9 367.5 298.1 367.5 298.1 492.4 267.4 490.1 236.7 488.8 206.1 488.3 175.4 488.7 144.7 490 114 492.1 83.4 495.1 49.9 499.1 49.9 367.5Z"/><path fill="#00ff10" d="M49.9 367.5 298.1 367.5 298.1 490.9 267.4 488.6 236.7 487.2 206.1 486.8 175.4 487.2 144.7 488.5 114 490.7 83.4 493.6 49.9 497.7 49.9 367.5Z"/><path fill="#00ff08" d="M49.9 367.5 298.1 367.5 298.1 489.3 267.4 487 236.7 485.7 206.1 485.3 175.4 485.7 144.7 487.1 114 489.2 83.4 492.2 49.9 496.3 49.9 367.5Z"/><path fill="#00ff00" d="M49.9 367.5 298.1 367.5 298.1 487.8 267.4 485.5 236.7 484.2 206.1 483.8 175.4 484.2 144.7 485.6 114 487.8 83.4 490.7 49.9 494.9 49.9 367.5Z"/><path fill="#08ff00" d="M49.9 367.5 298.1 367.5 298.1 486.2 267.4 484 236.7 482.6 206.1 482.3 175.4 482.7 144.7 484.1 114 486.3 83.4 489.3 49.9 493.4 49.9 367.5Z"/><path fill="#10ff00" d="M49.9 367.5 298.1 367.5 298.1 484.6 267.4 482.4 236.7 481.1 206.1 480.7 175.4 481.2 144.7 482.6 114 484.8 83.4 487.8 49.9 492 49.9 367.5Z"/><path fill="#18ff00" d="M49.9 367.5 298.1 367.5 298.1 483.1 267.4 480.9 236.7 479.6 206.1 479.2 175.4 479.7 144.7 481.1 114 483.3 83.4 486.4 49.9 490.6 49.9 367.5Z"/><path fill="#20ff00" d="M49.9 367.5 298.1 367.5 298.1 481.5 267.4 479.3 236.7 478 206.1 477.7 175.4 478.2 144.7 479.6 114 481.9 83.4 484.9 49.9 489.1 49.9 367.5Z"/><path fill="#28ff00" d="M49.9 367.5 298.1 367.5 298.1 479.9 267.4 477.7 236.7 476.5 206.1 476.2 175.4 476.7 144.7 478.1 114 480.4 83.4 483.5 49.9 487.7 49.9 367.5Z"/><path fill="#30ff00" d="M49.9 367.5 298.1 367.5 298.1 478.4 267.4 476.2 236.7 475 206.1 474.6 175.4 475.2 144.7 476.6 114 478.9 83.4 482 49.9 486.2 49.9 367.5Z"/><path fill="#38ff00" d="M49.9 367.5 298.1 367.5 298.1 476.8 267.4 474.6 236.7 473.4 206.1 473.1 175.4 473.7 144.7 475.1 114 477.4 83.4 480.5 49.9 484.8 49.9 367.5Z"/><path fill="#40ff00" d="M49.9 367.5 298.1 367.5 298.1 475.2 267.4 473.1 236.7 471.9 206.1 471.6 175.4 472.2 144.7 473.6 114 476 83.4 479.1 49.9 483.4 49.9 367.5Z"/><path fill="#48ff00" d="M49.9 367.5 298.1 367.5 298.1 473.7 267.4 471.5 236.7 470.3 206.1 470 175.4 470.7 144.7 472.1 114 474.5 83.4 477.6 49.9 481.9 49.9 367.5Z"/><path fill="#50ff00" d="M49.9 367.5 298.1 367.5 298.1 472.1 267.4 469.9 236.7 468.8 206.1 468.5 175.4 469.1 144.7 470.6 114 473 83.4 476.1 49.9 480.5 49.9 367.5Z"/><path fill="#58ff00" d="M49.9 367.5 298.1 367.5 298.1 470.5 267.4 468.4 236.7 467.2 206.1 467 175.4 467.6 144.7 469.1 114 471.5 83.4 474.7 49.9 479 49.9 367.5Z"/><path fill="#60ff00" d="M49.9 367.5 298.1 367.5 298.1 468.9 267.4 466.8 236.7 465.7 206.1 465.4 175.4 466.1 144.7 467.6 114 470 83.4 473.2 49.9 477.6 49.9 367.5Z"/><path fill="#68ff00" d="M49.9 367.5 298.1 367.5 298.1 467.3 267.4 465.2 236.7 464.1 206.1 463.9 175.4 464.6 144.7 466.1 114 468.5 83.4 471.7 49.9 476.1 49.9 367.5Z"/><path fill="#70ff00" d="M49.9 367.5 298.1 367.5 298.1 465.7 267.4 463.7 236.7 462.5 206.1 462.3 175.4 463 144.7 464.6 114 467 83.4 470.3 49.9 474.7 49.9 367.5Z"/><path fill="#78ff00" d="M49.9 367.5 298.1 367.5 298.1 464.1 267.4 462.1 236.7 461 206.1 460.8 175.4 461.5 144.7 463.1 114 465.5 83.4 468.8 49.9 473.2 49.9 367.5Z"/><path fill="#80ff00" d="M49.9 367.5 298.1 367.5 298.1 462.6 267.4 460.5 236.7 459.4 206.1 459.2 175.4 460 144.7 461.6 114 464 83.4 467.3 49.9 471.8 49.9 367.5Z"/><path fill="#87ff00" d="M49.9 367.5 298.1 367.5 298.1 461 267.4 458.9 236.7 457.8 206.1 457.7 175.4 458.5 144.7 460.1 114 462.5 83.4 465.8 49.9 470.3 49.9 367.5Z"/><path fill="#8fff00" d="M49.9 367.5 298.1 367.5 298.1 459.4 270.2 457.5 239.5 456.3 208.9 456.1 178.2 456.8 147.5 458.4 114 461 83.4 464.3 49.9 468.8 49.9 367.5Z"/><path fill="#97ff00" d="M49.9 367.5 298.1 367.5 298.1 457.8 270.2 455.9 239.5 454.8 208.9 454.6 178.2 455.3 147.5 456.9 114 459.5 83.4 462.9 49.9 467.4 49.9 367.5Z"/><path fill="#9fff00" d="M49.9 367.5 298.1 367.5 298.1 456.2 270.2 454.3 239.5 453.2 208.9 453 178.2 453.7 147.5 455.3 114 458 83.4 461.4 49.9 465.9 49.9 367.5Z"/><path fill="#a7ff00" d="M49.9 367.5 298.1 367.5 298.1 454.6 270.2 452.7 239.5 451.6 208.9 451.5 178.2 452.2 147.5 453.8 114 456.5 83.4 459.9 49.9 464.5 49.9 367.5Z"/><path fill="#afff00" d="M49.9 367.5 298.1 367.5 298.1 453 270.2 451.1 239.5 450 208.9 449.9 178.2 450.6 147.5 452.3 114 455 83.4 458.4 49.9 463 49.9 367.5Z"/><path fill="#b7ff00" d="M49.9 367.5 298.1 367.5 298.1 451.4 270.2 449.5 239.5 448.5 208.9 448.3 178.2 449.1 147.5 450.8 114 453.5 83.4 456.9 49.9 461.5 49.9 367.5Z"/><path fill="#bfff00" d="M49.9 367.5 298.1 367.5 298.1 449.7 270.2 447.9 239.5 446.9 208.9 446.8 178.2 447.6 147.5 449.2 114 452 83.4 455.4 49.9 460 49.9 367.5Z"/><path fill="#c7ff00" d="M49.9 367.5 298.1 367.5 298.1 448.1 270.2 446.3 239.5 445.3 208.9 445.2 178.2 446 147.5 447.7 114 450.5 83.4 453.9 49.9 458.6 49.9 367.5Z"/><path fill="#cfff00" d="M49.9 367.5 298.1 367.5 298.1 446.5 270.2 444.7 239.5 443.7 208.9 443.6 178.2 444.4 147.5 446.2 114 449 83.4 452.4 49.9 457.1 49.9 367.5Z"/><path fill="#d7ff00" d="M49.9 367.5 298.1 367.5 298.1 444.9 270.2 443.1 239.5 442.1 208.9 442.1 178.2 442.9 147.5 444.6 114 447.5 83.4 450.9 49.9 455.6 49.9 367.5Z"/><path fill="#dfff00" d="M49.9 367.5 298.1 367.5 298.1 443.3 270.2 441.5 239.5 440.5 208.9 440.5 178.2 441.3 147.5 443.1 114 446 83.4 449.4 49.9 454.2 49.9 367.5Z"/><path fill="#e7ff00" d="M49.9 367.5 298.1 367.5 298.1 441.7 270.2 439.9 239.5 438.9 208.9 438.9 178.2 439.8 147.5 441.5 114 444.4 83.4 447.9 49.9 452.7 49.9 367.5Z"/><path fill="#efff00" d="M49.9 367.5 298.1 367.5 298.1 440 270.2 438.3 239.5 437.3 208.9 437.3 178.2 438.2 147.5 440 114 442.9 83.4 446.4 49.9 451.2 49.9 367.5Z"/><path fill="#f7ff00" d="M49.9 367.5 298.1 367.5 298.1 438.4 270.2 436.7 239.5 435.7 208.9 435.7 178.2 436.7 147.5 438.5 114 441.4 83.4 444.9 49.9 449.7 49.9 367.5Z"/><path fill="#ffff00" d="M49.9 367.5 298.1 367.5 298.1 436.8 270.2 435.1 239.5 434.1 208.9 434.2 178.2 435.1 147.5 436.9 114 439.9 83.4 443.4 49.9 448.2 49.9 367.5Z"/><path fill="#fff700" d="M49.9 367.5 298.1 367.5 298.1 435.1 270.2 433.5 239.5 432.5 208.9 432.6 178.2 433.5 147.5 435.4 114 438.3 83.4 441.9 49.9 446.7 49.9 367.5Z"/><path fill="#ffef00" d="M49.9 367.5 298.1 367.5 298.1 433.5 270.2 431.8 239.5 430.9 208.9 431 178.2 432 147.5 433.8 114 436.8 83.4 440.4 49.9 445.3 49.9 367.5Z"/><path fill="#ffe700" d="M49.9 367.5 298.1 367.5 298.1 431.9 270.2 430.2 239.5 429.3 208.9 429.4 178.2 430.4 147.5 432.3 114 435.3 83.4 438.9 49.9 443.8 49.9 367.5Z"/><path fill="#ffdf00" d="M49.9 367.5 298.1 367.5 298.1 430.2 270.2 428.6 239.5 427.7 208.9 427.8 178.2 428.8 147.5 430.7 114 433.7 83.4 437.4 49.9 442.3 49.9 367.5Z"/><path fill="#ffd700" d="M49.9 367.5 298.1 367.5 298.1 428.6 270.2 427 239.5 426.1 208.9 426.2 178.2 427.2 147.5 429.1 114 432.2 83.4 435.9 49.9 440.8 49.9 367.5Z"/><path fill="#ffcf00" d="M49.9 367.5 298.1 367.5 298.1 427 270.2 425.3 239.5 424.5 208.9 424.6 178.2 425.7 147.5 427.6 114 430.7 83.4 434.4 49.9 439.3 49.9 367.5Z"/><path fill="#ffc700" d="M49.9 367.5 298.1 367.5 298.1 425.3 270.2 423.7 239.5 422.9 208.9 423 178.2 424.1 147.5 426 114 429.1 83.4 432.8 49.9 437.8 49.9 367.5Z"/><path fill="#ffbf00" d="M49.9 367.5 298.1 367.5 298.1 423.7 270.2 422.1 239.5 421.3 208.9 421.4 178.2 422.5 147.5 424.5 114 427.6 83.4 431.3 49.9 436.3 49.9 367.5Z"/><path fill="#ffb700" d="M49.9 367.5 298.1 367.5 298.1 422 270.2 420.4 239.5 419.6 208.9 419.8 178.2 420.9 147.5 422.9 114 426 83.4 429.8 49.9 434.8 49.9 367.5Z"/><path fill="#ffaf00" d="M49.9 367.5 298.1 367.5 298.1 420.4 270.2 418.8 239.5 418 208.9 418.2 178.2 419.3 147.5 421.3 114 424.5 83.4 428.3 49.9 433.3 49.9 367.5Z"/><path fill="#ffa700" d="M49.9 367.5 298.1 367.5 298.1 418.7 270.2 417.2 239.5 416.4 208.9 416.6 178.2 417.7 147.5 419.8 114 422.9 83.4 426.7 49.9 431.8 49.9 367.5Z"/><path fill="#ff9f00" d="M49.9 367.5 298.1 367.5 298.1 417 270.2 415.5 239.5 414.8 208.9 415 178.2 416.1 147.5 418.2 114 421.4 83.4 425.2 49.9 430.3 49.9 367.5Z"/><path fill="#ff9700" d="M49.9 367.5 298.1 367.5 298.1 415.4 270.2 413.9 239.5 413.1 208.9 413.4 178.2 414.5 147.5 416.6 114 419.8 83.4 423.7 49.9 428.8 49.9 367.5Z"/><path fill="#ff8f00" d="M49.9 367.5 298.1 367.5 298.1 413.7 270.2 412.2 239.5 411.5 208.9 411.8 178.2 413 147.5 415 114 418.3 83.4 422.1 49.9 427.3 49.9 367.5Z"/><path fill="#ff8700" d="M49.9 367.5 298.1 367.5 298.1 412.1 270.2 410.6 239.5 409.9 208.9 410.1 178.2 411.4 147.5 413.5 114 416.7 83.4 420.6 49.9 425.7 49.9 367.5Z"/><path fill="#ff8000" d="M49.9 367.5 298.1 367.5 298.1 410.4 270.2 408.9 239.5 408.2 208.9 408.5 178.2 409.8 147.5 411.9 114 415.2 83.4 419.1 49.9 424.2 49.9 367.5Z"/><path fill="#ff7800" d="M49.9 367.5 298.1 367.5 298.1 408.7 270.2 407.3 239.5 406.6 208.9 406.9 178.2 408.1 147.5 410.3 114 413.6 83.4 417.5 49.9 422.7 49.9 367.5Z"/><path fill="#ff7000" d="M49.9 367.5 298.1 367.5 298.1 407 270.2 405.6 239.5 405 208.9 405.3 178.2 406.5 147.5 408.7 114 412.1 83.4 416 49.9 421.2 49.9 367.5Z"/><path fill="#ff6800" d="M49.9 367.5 298.1 367.5 298.1 405.4 270.2 403.9 239.5 403.3 208.9 403.7 178.2 404.9 147.5 407.1 114 410.5 83.4 414.4 49.9 419.7 49.9 367.5Z"/><path fill="#ff6000" d="M49.9 367.5 298.1 367.5 298.1 403.7 270.2 402.3 239.5 401.7 208.9 402 178.2 403.3 147.5 405.5 114 408.9 83.4 412.9 49.9 418.2 49.9 367.5Z"/><path fill="#ff5800" d="M49.9 367.5 298.1 367.5 298.1 402 270.2 400.6 239.5 400 208.9 400.4 178.2 401.7 147.5 403.9 114 407.4 83.4 411.4 49.9 416.6 49.9 367.5Z"/><path fill="#ff5000" d="M49.9 367.5 298.1 367.5 298.1 400.3 270.2 398.9 239.5 398.4 208.9 398.8 178.2 400.1 147.5 402.3 114 405.8 83.4 409.8 49.9 415.1 49.9 367.5Z"/><path fill="#ff4800" d="M49.9 367.5 298.1 367.5 298.1 398.6 270.2 397.3 239.5 396.7 208.9 397.1 178.2 398.5 147.5 400.7 114 404.2 83.4 408.3 49.9 413.6 49.9 367.5Z"/><path fill="#ff4000" d="M49.9 367.5 298.1 367.5 298.1 396.9 270.2 395.6 239.5 395.1 208.9 395.5 178.2 396.9 147.5 399.2 114 402.6 83.4 406.7 49.9 412.1 49.9 367.5Z"/><path fill="#ff3800" d="M49.9 367.5 298.1 367.5 298.1 395.3 270.2 393.9 239.5 393.4 208.9 393.9 178.2 395.2 147.5 397.6 114 401.1 83.4 405.1 49.9 410.5 49.9 367.5Z"/><path fill="#ff3000" d="M49.9 367.5 298.1 367.5 298.1 393.6 270.2 392.2 239.5 391.7 208.9 392.2 178.2 393.6 147.5 395.9 114 399.5 83.4 403.6 49.9 409 49.9 367.5Z"/><path fill="#ff2800" d="M49.9 367.5 298.1 367.5 298.1 391.9 270.2 390.6 239.5 390.1 208.9 390.6 178.2 392 147.5 394.3 114 397.9 83.4 402 49.9 407.5 49.9 367.5Z"/><path fill="#ff2000" d="M49.9 367.5 298.1 367.5 298.1 390.2 270.2 388.9 239.5 388.4 208.9 388.9 178.2 390.4 147.5 392.7 114 396.3 83.4 400.5 49.9 405.9 49.9 367.5Z"/><path fill="#ff1800" d="M49.9 367.5 298.1 367.5 298.1 388.5 270.2 387.2 239.5 386.7 208.9 387.3 178.2 388.7 147.5 391.1 114 394.7 83.4 398.9 49.9 404.4 49.9 367.5Z"/><path fill="#ff1000" d="M49.9 367.5 298.1 367.5 298.1 386.8 270.2 385.5 239.5 385.1 208.9 385.6 178.2 387.1 147.5 389.5 114 393.1 83.4 397.3 49.9 402.8 49.9 367.5Z"/><path fill="#ff0800" d="M49.9 367.5 298.1 367.5 298.1 385.1 270.2 383.8 239.5 383.4 208.9 384 178.2 385.5 147.5 387.9 114 391.5 83.4 395.8 49.9 401.3 49.9 367.5Z"/><path fill="#ff0000" d="M49.9 367.5 298.1 367.5 298.1 383.3 270.2 382.1 239.5 381.7 208.9 382.3 178.2 383.8 147.5 386.3 114 390 83.4 394.2 49.9 399.7 49.9 367.5Z"/><polyline fill="none" stroke="#1a1a1a" stroke-width="0.8" points="229.4,616.1 194.9,614.6 161.5,614.2 128,614.6 93.6,616.1"/><polyline fill="none" stroke="#1a1a1a" stroke-width="0.8" points="298.1,554.7 267.4,551.9 236.7,550 206.1,549 175.4,548.9 144.7,549.5 114,551 83.4,553.3 49.9,556.6"/><polyline fill="none" stroke="#1a1a1a" stroke-width="0.8" points="298.1,483.3 267.4,481.1 236.7,479.8 206.1,479.4 175.4,480 144.7,481.3 114,483.6 83.4,486.6 49.9,490.8"/><polyline fill="none" stroke="#1a1a1a" stroke-width="0.8" points="298.1,407.2 270.2,405.7 239.5,405.1 208.9,405.4 178.2,406.7 147.5,408.8 114,412.2 83.4,416.1 49.9,421.3"/></g><rect x="163.6" y="402.7" width="8" height="5.2" fill="#fff" stroke="#555" stroke-width="0.5"/><text x="167.6" y="406.8" font-size="4.2" text-anchor="middle" font-family="Liberation Sans,sans-serif" fill="#222">0.4</text><rect x="173.1" y="474.6" width="8" height="5.2" fill="#fff" stroke="#555" stroke-width="0.5"/><text x="177.1" y="478.7" font-size="4.2" text-anchor="middle" font-family="Liberation Sans,sans-serif" fill="#222">0.3</text><rect x="173.1" y="543.6" width="8" height="5.2" fill="#fff" stroke="#555" stroke-width="0.5"/><text x="177.1" y="547.7" font-size="4.2" text-anchor="middle" font-family="Liberation Sans,sans-serif" fill="#222">0.2</text><rect x="160.6" y="609.6" width="8" height="5.2" fill="#fff" stroke="#555" stroke-width="0.5"/><text x="164.6" y="613.7" font-size="4.2" text-anchor="middle" font-family="Liberation Sans,sans-serif" fill="#222">0.1</text><circle cx="158.5" cy="491.8" r="2.5" fill="#c00000" stroke="#300" stroke-width="0.6"/><circle cx="174" cy="491.8" r="2.5" fill="#c00000" stroke="#300" stroke-width="0.6"/><circle cx="189.5" cy="491.8" r="2.5" fill="#c00000" stroke="#300" stroke-width="0.6"/><circle cx="174" cy="429.6" r="2.5" fill="#c00000" stroke="#300" stroke-width="0.6"/><circle cx="174" cy="554" r="2.5" fill="#c00000" stroke="#300" stroke-width="0.6"/><rect x="49.9" y="367.5" width="248.2" height="248.6" fill="none" stroke="#3a3a3a" stroke-width="0.9"/><text x="49.9" y="633.1" class="tk" text-anchor="middle">-8</text><text x="112" y="633.1" class="tk" text-anchor="middle">-4</text><text x="174" y="633.1" class="tk" text-anchor="middle">0</text><text x="236.1" y="633.1" class="tk" text-anchor="middle">4</text><text x="298.1" y="633.1" class="tk" text-anchor="middle">8</text><text x="42.6" y="619" class="tk" text-anchor="end">-2</text><text x="42.6" y="556.9" class="tk" text-anchor="end">-1</text><text x="42.6" y="494.7" class="tk" text-anchor="end">0</text><text x="42.6" y="432.5" class="tk" text-anchor="end">1</text><text x="42.6" y="370.4" class="tk" text-anchor="end">2</text><path d="M49.9 616.1v6.5M112 616.1v6.5M174 616.1v6.5M236.1 616.1v6.5M298.1 616.1v6.5M49.9 616.1h-5.5M49.9 554h-5.5M49.9 491.8h-5.5M49.9 429.6h-5.5M49.9 367.5h-5.5" stroke="#777" stroke-width="1" fill="none"/><text x="173.7" y="362.9" class="ti" text-anchor="middle">Skin Friction</text><text x="173.5" y="653.2" class="ax" text-anchor="middle">A: Magnetic Field</text><text transform="translate(15.6 490.8) rotate(-90)" class="ax" text-anchor="middle">C: Forchheimer Number</text><text x="173" y="680.7" class="cap" text-anchor="middle">(c)</text><clipPath id="c719"><rect x="48.7" y="719.5" width="250" height="250"/></clipPath><g clip-path="url(#c719)"><rect x="47.7" y="718.5" width="252" height="252" fill="#0000ff"/><path fill="#0008ff" d="M50.9 719.5 298.7 719.5 298.7 969.5 286.2 969.5 256.6 962.3 239.7 957.4 225.7 952.8 211.6 947.5 200.4 942.8 180.1 933 161.1 921.7 152.6 915.9 142 907.7 133 899.8 126.6 893.7 113.3 878.8 101.4 862.8 96.1 854.3 89.6 843.1 79.6 822.3 71.2 800.7 63.3 775.7 56.4 747.6 50.9 719.5Z"/><path fill="#0010ff" d="M51.8 719.5 298.7 719.5 298.7 969.5 290.4 969.5 270.6 965 253.8 960.5 225.7 951.6 213.4 947 200 941.4 189.1 936.3 177.9 930.4 159.2 918.9 149.8 912.2 141.4 905.5 127.4 892.5 120.5 885.2 113.4 876.8 106.9 868.4 101.1 859.9 95.8 851.5 89.5 840.3 80.2 820.6 71.4 798.2 64.4 775.7 57.3 747.6 51.8 719.5Z"/><path fill="#0018ff" d="M52.7 719.5 298.7 719.5 298.7 969.5 294.7 969.5 281.8 966.7 265 962.6 248.1 957.8 222.9 949.5 209.4 944.2 197.6 939 177.9 929 166.7 922.3 158.3 916.7 142.8 904.9 135.8 898.8 127.6 890.8 119.8 882.4 113.3 874.6 102.1 859.1 90.9 840.3 81.4 820.6 72.6 798.2 65.5 775.7 58.3 747.6 52.7 719.5Z"/><path fill="#0020ff" d="M53.6 719.5 298.7 719.5 298.7 969.5 270.6 963 243.7 955.5 219.4 947 197.6 937.8 177.9 927.6 159.6 916.1 144.2 904.4 129.4 890.8 116.1 876.1 104.2 859.9 98.8 851.5 92.3 840.3 82.7 820.6 74 798.8 66.5 775.7 59.3 747.6 53.6 719.5Z"/><path fill="#0028ff" d="M54.4 719.5 298.7 719.5 298.7 968.6 270.6 962.1 242.5 954 220 946.1 197.6 936.5 177.9 926.2 161.1 915.6 152.6 909.5 144.2 902.7 130.2 889.7 123.3 882.4 116.1 874 104.9 858.7 93.7 840.3 84 820.6 74.9 798.2 67.6 775.7 60.2 747.6 54.4 719.5Z"/><path fill="#0030ff" d="M55.3 719.5 298.7 719.5 298.7 967.7 270.6 961.1 245.3 953.8 220 944.9 198.8 935.8 187.6 930.2 177.9 924.8 161.1 914 145.5 902.1 138.6 896 130.3 888 117.8 874 111.3 865.6 104.9 856.4 93.6 837.6 84 817.8 75.1 795.3 67.8 772.9 61.2 747.6 55.3 719.5Z"/><path fill="#0038ff" d="M56.2 719.5 298.7 719.5 298.7 966.8 270.6 960.1 245.3 952.8 221.2 944.2 200.4 935.3 180.7 925 163.9 914.5 147.5 902.1 138.6 894.3 132.1 888 118.9 873.3 106.9 857.1 101.4 848.7 94.9 837.5 85.2 817.8 76.8 796.9 68.9 772.9 62.2 747.6 56.2 719.5Z"/><path fill="#0040ff" d="M57.1 719.5 298.7 719.5 298.7 965.9 270.6 959.2 245.3 951.7 222.9 943.7 200.4 934 180.7 923.7 163.9 913 155.4 906.8 147 900 133 887 126 879.6 118.9 871.3 107.7 856.1 96.5 837.7 86.5 817.8 77.4 795.3 69.9 772.9 63.1 747.6 57.1 719.5Z"/><path fill="#0048ff" d="M58 719.5 298.7 719.5 298.7 965 270.8 958.3 245.3 950.7 222.9 942.6 200.9 933 180.7 922.3 163.9 911.4 148.1 899.3 133 885.2 120.5 871.2 108 854.3 97.7 837.5 87.8 817.8 78.5 795.3 71 772.9 64.1 747.6 58 719.5Z"/><path fill="#0050ff" d="M58.9 719.5 298.7 719.5 298.7 964.2 270.6 957.2 246 949.8 222.9 941.4 203.2 932.8 183.5 922.5 166.7 911.9 150 899.3 134.8 885.2 121.7 870.7 109.5 854.3 99.1 837.5 89 817.8 79.7 795.3 72 772.9 65.1 747.6 58.9 719.5Z"/><path fill="#0058ff" d="M59.8 719.5 298.7 719.5 298.7 963.3 273.4 957 248.1 949.5 225.7 941.4 203.2 931.6 184.6 921.7 166.7 910.4 149.8 897.4 135.8 884.4 128.6 876.8 121.7 868.7 110.5 853.6 99.3 835.4 89 815 79.7 792.5 72.2 770.1 65.6 745.6 59.8 719.5Z"/><path fill="#0060ff" d="M60.6 719.5 298.7 719.5 298.7 962.4 270.6 955.3 245.3 947.5 222.9 939.1 202.9 930.2 183.5 919.8 166.7 908.9 150.6 896.5 135.8 882.6 123.1 868.4 110.6 851.5 100.2 834.7 90.2 815 81.9 795.3 74 772.3 67 747.6 60.6 719.5Z"/><path fill="#0068ff" d="M61.5 719.5 298.7 719.5 298.7 961.5 270.6 954.3 247 947 224.4 938.6 203.2 929.1 184.4 918.9 167.1 907.7 152.6 896.5 137.3 882.4 124.5 868.2 112 851.5 101.6 834.7 91.5 815 82.4 793.6 74.3 770.1 67.3 744.8 61.5 719.5Z"/><path fill="#0070ff" d="M62.4 719.5 298.7 719.5 298.7 960.6 273.4 954.2 248.1 946.4 225.7 938 206 929.2 186.7 918.9 169.2 907.7 152.6 894.9 138.6 881.9 126.3 868.4 113.5 851.5 102.9 834.7 92.7 815 83.2 792.5 75.4 770.1 68.4 745.3 62.4 719.5Z"/><path fill="#0078ff" d="M63.3 719.5 298.7 719.5 298.7 959.7 271.5 952.6 248.1 945.3 225.7 936.8 204.8 927.4 186.3 917.3 169.5 906.4 153.1 893.7 138.6 880.1 125.6 865.6 113.3 849 102.7 831.9 92.6 812.2 84.3 792.5 76.4 770.1 69.2 744.8 63.3 719.5Z"/><path fill="#0080ff" d="M64.2 719.5 298.7 719.5 298.7 958.8 273.4 952.2 248.1 944.3 225.9 935.8 206 926.7 186.6 916.1 169.5 904.9 155 893.7 139.8 879.6 127.2 865.6 114.5 848.7 104 831.9 93.9 812.2 85.2 792 77.5 770.1 70.1 744.8 64.2 719.5Z"/><path fill="#0087ff" d="M65.1 719.5 298.7 719.5 298.7 958 273.4 951.3 248.1 943.2 225.7 934.6 206 925.5 188.8 916.1 171.5 904.9 155.4 892.4 141.4 879.4 128.8 865.6 116 848.7 104.9 831 95.1 812.2 86.6 792.5 78.5 770.1 71.2 745 65.1 719.5Z"/><path fill="#008fff" d="M66 719.5 298.7 719.5 298.7 957.1 271.8 949.8 248.1 942.2 225.7 933.4 206.6 924.6 189.1 915 172.3 904 155.5 890.8 141.4 877.7 128.1 862.8 116.1 846.8 105.1 829.1 96.3 812.2 87.7 792.5 79.6 770.1 72.1 744.8 66 719.5Z"/><path fill="#0097ff" d="M66.9 719.5 298.7 719.5 298.7 956.2 273.4 949.4 250.9 942.1 228.5 933.5 208.8 924.4 189.1 913.6 172.3 902.5 157.3 890.8 142.3 876.8 129.6 862.8 117 845.9 106.4 829.1 96.5 809.9 87.7 789.7 79.7 767.3 73 744.8 66.9 719.5Z"/><path fill="#009fff" d="M67.7 719.5 298.7 719.5 298.7 955.3 273.4 948.4 250.9 941.1 228.5 932.3 208.8 923.2 190.9 913.3 173.7 902.1 158.3 890 144 876.8 131.2 862.8 118.9 846.6 107.8 829.1 98.8 812.2 90 792.5 81.6 770.1 74 744.8 67.7 719.5Z"/><path fill="#00a7ff" d="M68.6 719.5 298.7 719.5 298.7 954.4 273.4 947.4 250.9 940 228.5 931.2 208.8 922 192 912.6 175.1 901.6 158.3 888.5 144.2 875.3 130.5 859.9 118.9 844.5 107.7 826.6 98.7 809.4 90 789.7 81.7 767.3 74.9 744.8 68.6 719.5Z"/><path fill="#00afff" d="M69.5 719.5 298.7 719.5 298.7 953.5 273.4 946.5 249.8 938.6 228.5 930.1 208.8 920.8 190.6 910.5 173.8 899.3 158.3 886.9 144.6 874 132 859.9 119.4 843.1 108.8 826.2 99.9 809.4 90.8 789.1 82.8 767.3 75.9 744.8 69.5 719.5Z"/><path fill="#00b7ff" d="M70.4 719.5 298.7 719.5 298.7 952.6 273.4 945.5 250.9 938 228.5 928.9 208.8 919.5 192 910 175.1 898.7 161.1 887.7 146.3 874 133.6 859.9 121.7 844.5 110.5 826.9 101.1 809.4 92.2 789.7 83.8 767.3 76.8 744.5 70.4 719.5Z"/><path fill="#00bfff" d="M71.3 719.5 298.7 719.5 298.7 951.7 273.4 944.5 250.9 936.9 228.5 927.8 210 918.9 192 908.7 175.1 897.3 160 885.2 147 873 135.1 859.9 122.2 843.1 111.4 826.2 102.1 808.9 93.4 789.7 84.9 767.3 77.8 744.8 71.3 719.5Z"/><path fill="#00c7ff" d="M72.2 719.5 298.7 719.5 298.7 950.9 273.4 943.6 250.9 935.9 230 927.4 211.6 918.5 192.6 907.7 175.9 896.5 161.1 884.6 147 871.3 134.3 857.1 121.7 840.4 111.1 823.4 102.1 806.6 93.6 787.7 85.9 767.3 78.8 744.8 72.2 719.5Z"/><path fill="#00cfff" d="M73.1 719.5 298.7 719.5 298.7 950 273.4 942.6 250.9 934.8 231.3 926.8 211.6 917.3 194.7 907.7 177.9 896.5 163.6 885.2 148.6 871.2 135.9 857.1 124.5 842.4 113.3 825 103.3 806.6 94.4 786.9 86.9 767.3 79.6 744.2 73.1 719.5Z"/><path fill="#00d7ff" d="M74 719.5 298.7 719.5 298.7 949.1 273.4 941.7 250.9 933.8 231.3 925.7 211.7 916.1 194.8 906.4 177.9 895 163.9 883.9 149.8 870.8 137.4 857.1 124.5 840.3 113.7 823.4 104.6 806.6 95.6 786.9 88 767.3 80.7 744.8 74 719.5Z"/><path fill="#00dfff" d="M74.9 719.5 298.7 719.5 298.7 948.2 273.4 940.7 251.6 933 231.3 924.6 211.6 914.9 194.4 904.9 178 893.7 163.9 882.3 149.8 869.1 136.6 854.3 125.9 840.3 115 823.4 105.8 806.6 96.7 786.9 89 767.3 81.7 744.8 74.9 719.5Z"/><path fill="#00e7ff" d="M75.7 719.5 298.7 719.5 298.7 947.3 276.2 940.6 253.8 932.8 233.8 924.6 214.4 915.2 196.5 904.9 179.9 893.7 163.9 880.8 150.8 868.4 138.6 854.9 127.3 840.3 116.3 823.4 107 806.6 97.8 786.9 90.1 767.3 82.6 744.8 75.7 719.5Z"/><path fill="#00efff" d="M76.6 719.5 298.7 719.5 298.7 946.4 276.2 939.7 253.8 931.8 234.1 923.6 214.4 914 197.6 904.2 180.7 892.8 166.7 881.7 152.4 868.4 139.6 854.3 128.7 840.3 117.6 823.4 107.7 805.6 98.9 786.9 90.8 766.5 83.6 744.8 76.6 719.5Z"/><path fill="#00f7ff" d="M77.5 719.5 298.7 719.5 298.7 945.5 275.8 938.6 253.8 930.7 234.1 922.5 214.4 912.7 196.2 902.1 180.7 891.4 166.1 879.6 152.6 866.9 138.8 851.5 128.1 837.5 117.2 820.6 108 803.8 99.3 785.2 91.1 764.4 83.7 742 77.5 719.5Z"/><path fill="#00ffff" d="M78.4 719.5 298.7 719.5 298.7 944.6 276.2 937.8 253.8 929.7 234.1 921.4 214.4 911.5 197.6 901.6 180.7 890 166.7 878.6 152.9 865.6 140.3 851.5 129.5 837.5 118.9 821.3 109.1 803.8 99.9 784.1 92.1 764.4 84.7 742 78.4 719.5Z"/><path fill="#00fff7" d="M79.3 719.5 298.7 719.5 298.7 943.7 276.2 936.8 253.8 928.6 234.1 920.2 214.8 910.5 197.6 900.3 183.5 890.7 169.5 879.5 154.5 865.6 141.8 851.5 130.9 837.5 119.8 820.6 110.3 803.8 101 784.1 93.2 764.4 85.6 742 79.3 719.5Z"/><path fill="#00ffef" d="M80.2 719.5 298.7 719.5 298.7 942.8 276 935.8 253.8 927.6 234.1 919.1 217 910.5 200.4 900.8 183.5 889.3 169.5 878 155.4 864.9 143.3 851.5 132.3 837.5 121.7 821.7 111.5 803.8 102.1 784.1 94.2 764.4 86.6 742 80.2 719.5Z"/><path fill="#00ffe7" d="M81.1 719.5 298.7 719.5 298.7 942 276.2 934.9 255.7 927.4 236.1 918.9 217.2 909.5 200 899.3 183.7 888 169.5 876.5 155.4 863.2 142.4 848.7 131.7 834.7 120.6 817.8 111.3 801 103.2 784.1 95.2 764.4 87.5 742 81.1 719.5Z"/><path fill="#00ffdf" d="M82 719.5 298.7 719.5 298.7 941.1 276.2 933.9 253.8 925.5 234.1 916.9 217.2 908.3 200.4 898.2 185.6 888 171.6 876.8 156.6 862.8 144.2 849.1 133 834.6 121.9 817.8 112.5 801 104.4 784.1 96.3 764.4 88.5 742 82 719.5Z"/><path fill="#00ffd7" d="M82.9 719.5 298.7 719.5 298.7 940.2 276.2 933 256.6 925.6 236.9 917.1 218.4 907.7 200.4 897 186.3 887.2 172.3 876 158.2 862.8 145.4 848.7 134.4 834.7 123.2 817.8 113.6 801 104.9 782.8 96.5 762.2 89.4 742 82.9 719.5Z"/><path fill="#00ffcf" d="M83.8 719.5 298.7 719.5 298.7 939.3 276.2 932 253.8 923.5 234.1 914.6 217.2 905.9 200.4 895.7 185.6 885.2 171.8 874 158.3 861.2 146.9 848.7 135.8 834.6 124.5 817.9 114.8 801 106.6 784.1 98.3 764.4 90.8 743.3 83.8 719.5Z"/><path fill="#00ffc7" d="M84.6 719.5 298.7 719.5 298.7 938.4 276.2 931.1 256.6 923.6 236.9 914.9 217.6 904.9 200.4 894.4 186.3 884.4 172.3 873 158.6 859.9 147 847.1 135.8 832.7 125.7 817.8 116 801 107.7 784.1 99.3 764.2 91.4 742 84.6 719.5Z"/><path fill="#00ffbf" d="M85.5 719.5 298.7 719.5 298.7 937.5 276.4 930.2 256.6 922.6 236.9 913.8 219.8 904.9 203.2 894.9 189.1 885.2 175.1 873.9 160.2 859.9 147.4 845.9 136.5 831.9 125.3 815 116.1 798.9 107.5 781.3 99.3 761.6 92.3 742 85.5 719.5Z"/><path fill="#00ffb7" d="M86.4 719.5 298.7 719.5 298.7 936.6 276.2 929.1 256.6 921.5 238.2 913.3 220 903.9 203.2 893.7 189.1 883.8 175.1 872.5 161.1 859.2 148.9 845.9 137.9 831.9 126.5 815 116.9 798.2 108.6 781.3 100.3 761.6 93.3 742 86.4 719.5Z"/><path fill="#00ffaf" d="M87.3 719.5 298.7 719.5 298.7 935.7 276.2 928.2 256.6 920.5 236.9 911.6 220 902.7 203.2 892.4 189.1 882.4 175.1 871 161.1 857.6 148 843.1 137.2 829.1 127.4 814.3 118.1 798.2 109.7 781.3 101.3 761.6 94.2 742 87.3 719.5Z"/><path fill="#00ffa7" d="M88.2 719.5 298.7 719.5 298.7 934.8 276.6 927.4 256.6 919.5 237 910.5 221.1 902.1 203.2 891.1 189.1 881.1 175.1 869.5 162.1 857.1 149.8 843.6 138.6 829.1 129.1 815 118.9 797.6 110.5 780.6 102.4 761.6 95.2 742 88.2 719.5Z"/><path fill="#00ff9f" d="M89.1 719.5 298.7 719.5 298.7 933.9 276.2 926.2 257.7 918.9 239.7 910.7 222.9 901.9 206 891.7 192 881.8 177.9 870.5 163.7 857.1 150.9 843.1 139.9 829.1 130.2 814.8 120.4 798.2 111.9 781.3 103.4 761.6 96.1 742 89.1 719.5Z"/><path fill="#00ff97" d="M90 719.5 298.7 719.5 298.7 933 279 926.3 259.4 918.6 239.7 909.6 222.9 900.7 206 890.4 190.8 879.6 177.2 868.4 163.9 855.8 152.3 843.1 141.2 829.1 131.6 815 121.6 798.2 113 781.3 104.4 761.6 97.1 742 90 719.5Z"/><path fill="#00ff8f" d="M90.9 719.5 298.7 719.5 298.7 932.1 276.8 924.6 256.6 916.4 239.7 908.5 222.4 899.3 206 889.1 192 879.1 177.9 867.6 164 854.3 152.6 841.8 141.4 827.5 131 812.2 121.7 796.3 112.8 778.5 104.9 760.2 97.1 739.2 90.9 719.5Z"/><path fill="#00ff87" d="M91.8 719.5 298.7 719.5 298.7 931.2 279 924.4 258.4 916.1 240.2 907.7 222.9 898.4 206.3 888 192 877.8 177.9 866.1 165.5 854.3 152.8 840.3 141.8 826.2 132.3 812.2 122.4 795.3 113.3 777.3 105.3 758.8 98 739.2 91.8 719.5Z"/><path fill="#00ff80" d="M92.7 719.5 298.7 719.5 298.7 930.3 279 923.5 259.4 915.5 239.7 906.3 222.9 897.2 208.2 888 192.5 876.8 178.9 865.6 166.7 853.9 154.2 840.3 143.2 826.2 133 811.3 123.6 795.3 115 778.5 106.3 758.8 99.3 739.9 92.7 719.5Z"/><path fill="#00ff78" d="M93.6 719.5 298.7 719.5 298.7 929.4 279 922.5 259.4 914.5 239.7 905.2 223.6 896.5 208.8 887.2 194.2 876.8 180.6 865.6 166.7 852.4 155.4 840 144.2 825.8 134.8 812.2 124.5 795 116 778.5 107.7 759.6 99.9 739.2 93.6 719.5Z"/><path fill="#00ff70" d="M94.5 719.5 298.7 719.5 298.7 928.5 279 921.5 259 913.3 239.7 904.1 222.9 894.8 207.7 885.2 192.4 874 179 862.8 167.4 851.5 155.4 838.4 144.2 824 134.2 809.4 124.5 792.9 116.1 776.4 108.4 758.8 100.9 739.2 94.5 719.5Z"/><path fill="#00ff68" d="M95.4 719.5 298.7 719.5 298.7 927.6 279 920.6 259.4 912.5 242.5 904.5 225.7 895.3 209.6 885.2 194.8 874.5 180.7 862.8 168.9 851.5 158.3 840 147 826 137.3 812.2 127 795.3 118.2 778.5 109.4 758.8 102.1 739.8 95.4 719.5Z"/><path fill="#00ff60" d="M96.3 719.5 298.7 719.5 298.7 926.7 279 919.6 259.4 911.4 242.5 903.4 225.7 894.1 211.4 885.2 195.8 874 182.3 862.8 169.5 850.6 157.5 837.5 147 824.3 136.7 809.4 127.4 793.8 118.9 777.7 110.4 758.8 102.8 739.2 96.3 719.5Z"/><path fill="#00ff58" d="M97.1 719.5 298.7 719.5 298.7 925.8 279 918.7 259.6 910.5 242.1 902.1 225.7 893 209.1 882.4 194.8 871.8 180.7 859.9 169.5 849.1 158.3 836.7 147 822.5 137.9 809.4 127.8 792.5 119 775.7 111.4 758.8 103.8 739.2 97.1 719.5Z"/><path fill="#00ff50" d="M98 719.5 298.7 719.5 298.7 924.9 279 917.7 259.4 909.4 242.5 901.2 225.7 891.8 211 882.4 195.6 871.2 182.3 859.9 170.6 848.7 160.3 837.5 149 823.4 138.6 808.5 128.9 792.5 120.1 775.7 112.4 758.8 104.9 739.6 98 719.5Z"/><path fill="#00ff48" d="M98.9 719.5 298.7 719.5 298.7 924 279 916.8 259.4 908.4 242.5 900.1 226 890.8 211.6 881.6 197.3 871.2 183.9 859.9 172.1 848.7 161.1 836.7 149.8 822.7 140.4 809.4 130.1 792.5 121.2 775.7 113.3 758.5 105.7 739.2 98.9 719.5Z"/><path fill="#00ff40" d="M99.8 719.5 298.7 719.5 298.7 923.1 279 915.8 260.1 907.7 243 899.3 228 890.8 211.6 880.4 197.6 870 185.5 859.9 172.3 847.3 160.7 834.7 149.6 820.6 139.8 806.6 130.2 790.6 121.7 774.6 113.3 756.1 106.6 739.2 99.8 719.5Z"/><path fill="#00ff38" d="M100.7 719.5 298.7 719.5 298.7 922.2 279 914.8 262.2 907.6 245.1 899.3 228.5 890 212.3 879.6 197.6 868.7 184 857.1 172.4 845.9 161.1 833.4 149.8 819.2 139.2 803.8 130.8 789.7 122 772.9 114.3 756 107.6 739.2 100.7 719.5Z"/><path fill="#00ff30" d="M101.6 719.5 298.7 719.5 298.7 921.3 279 913.9 262.2 906.6 245.3 898.3 228.5 888.8 214.1 879.6 198.8 868.4 185.5 857.1 173.8 845.9 163.5 834.7 152.2 820.6 141.4 805.3 131.9 789.7 123 772.9 115.3 756 108.5 739.2 101.6 719.5Z"/><path fill="#00ff28" d="M102.5 719.5 298.7 719.5 298.7 920.4 280 913.3 262.2 905.6 245.3 897.2 229.1 888 214.4 878.6 200.4 868.3 187.1 857.1 175.1 845.7 163.9 833.5 152.6 819.5 141.6 803.8 133.1 789.7 124.5 773.7 116.3 756 109.5 739.2 102.5 719.5Z"/><path fill="#00ff20" d="M103.4 719.5 298.7 719.5 298.7 919.5 279 912 262.2 904.6 245.3 896.2 228.5 886.5 213.6 876.8 200.4 867 186.3 855 175.1 844.2 163.9 831.9 152.6 817.8 142.8 803.8 134.2 789.7 125.2 772.9 117.3 756 110.4 739.2 103.4 719.5Z"/><path fill="#00ff18" d="M104.3 719.5 298.7 719.5 298.7 918.6 279 911 262.2 903.5 245.3 895.1 228.5 885.4 214.4 876.1 200.3 865.6 187.1 854.3 175.5 843.1 163.9 830.3 153.9 817.8 144.2 804 135.4 789.7 126.3 772.9 118.3 756 111.4 739.2 104.3 719.5Z"/><path fill="#00ff10" d="M105.2 719.5 298.7 719.5 298.7 917.7 280.1 910.5 262.2 902.5 245.3 894 230.1 885.2 214.4 874.9 201.9 865.6 189.1 854.8 177 843.1 166.6 831.9 155.2 817.8 145.3 803.8 135.8 788.5 127.3 772.9 119.3 756 112.3 739.2 105.2 719.5Z"/><path fill="#00ff08" d="M106.1 719.5 298.7 719.5 298.7 916.8 281.8 910.3 263.4 902.1 246.7 893.7 231.3 884.8 217.2 875.6 203.2 865.3 190.2 854.3 177.9 842.6 166.7 830.4 156.5 817.8 146.5 803.8 137.7 789.7 128.4 772.9 120.3 756 113.3 739.2 106.1 719.5Z"/><path fill="#00ff00" d="M107 719.5 298.7 719.5 298.7 915.9 279 908.1 262.2 900.5 245.3 891.8 231.3 883.6 216.6 874 203.2 864 189.1 852 177.9 841.1 166.7 828.8 155.7 815 145.8 801 137.2 786.9 129.5 772.9 121.3 756 114.2 739.2 107 719.5Z"/><path fill="#08ff00" d="M107.9 719.5 298.7 719.5 298.7 915 280.3 907.7 262.2 899.5 245.6 890.8 231.3 882.5 217.2 873.2 203.3 862.8 190.2 851.5 178.6 840.3 166.7 827.2 156.9 815 147 801 138.3 786.9 130.2 772.1 121.7 754.6 114.1 736.4 107.9 719.5Z"/><path fill="#10ff00" d="M108.8 719.5 298.7 719.5 298.7 914.1 281.8 907.4 263.9 899.3 248.1 891.2 233 882.4 217.2 872 205 862.8 192 851.8 180 840.3 169.5 828.9 158.3 815.1 148.2 801 139.4 786.9 131.6 772.9 123.4 756 116.1 739.1 108.8 719.5Z"/><path fill="#18ff00" d="M109.7 719.5 298.7 719.5 298.7 913.2 279 905.2 262.2 897.4 245.3 888.5 231.3 880.2 217.2 870.7 203.2 860 192 850.4 180.7 839.5 169.5 827.3 159.5 815 149.8 801.6 140.5 786.9 132.7 772.9 124.4 756 117.1 739.2 109.7 719.5Z"/><path fill="#20ff00" d="M110.6 719.5 298.7 719.5 298.7 912.3 280.4 904.9 262.3 896.5 246.4 888 232.2 879.6 217.2 869.5 204.7 859.9 192 849 180.7 838.1 169.9 826.2 160.8 815 150.6 801 141.4 786.4 133 771.4 124.5 754.2 116.9 736.4 110.6 719.5Z"/><path fill="#28ff00" d="M111.5 719.5 298.7 719.5 298.7 911.4 281.8 904.5 264.4 896.5 248.3 888 234 879.6 220 870.3 206.3 859.9 193.2 848.7 181.6 837.5 171.3 826.2 159.9 812.2 149.9 798.2 141.4 784.5 133 769.3 125.1 753.2 117.9 736.4 111.5 719.5Z"/><path fill="#30ff00" d="M112.4 719.5 298.7 719.5 298.7 910.5 281.8 903.6 265 895.8 248.1 886.9 234.1 878.5 220 869.1 207.9 859.9 194.8 848.8 183 837.5 172.3 825.9 161.1 812.2 151.1 798.2 142.3 784.1 134.4 770.1 126.1 753.2 118.9 736.6 112.4 719.5Z"/><path fill="#38ff00" d="M113.3 719.5 298.7 719.5 298.7 909.6 281.8 902.6 265 894.7 248.1 885.8 234.1 877.4 220 867.9 206 857.1 194.8 847.4 183.5 836.6 172.3 824.4 162.4 812.2 152.6 798.6 143.4 784.1 135.5 770.1 127.4 753.8 119.8 736.4 113.3 719.5Z"/><path fill="#40ff00" d="M114.2 719.5 298.7 719.5 298.7 908.7 281.8 901.7 264.8 893.7 249 885.2 234.1 876.2 220 866.7 207.6 857.1 194.8 846.1 183.5 835.1 172.8 823.4 163.7 812.2 153.5 798.2 144.2 783.6 135.8 768.6 128.1 753.2 120.7 736.4 114.2 719.5Z"/><path fill="#48ff00" d="M115.1 719.5 298.7 719.5 298.7 907.8 281.8 900.7 265 892.7 248.1 883.6 234.1 875.1 220.2 865.6 208.8 856.8 196.1 845.9 184.5 834.7 174.2 823.4 163.9 810.8 154.7 798.2 145.6 784.1 137.6 770.1 129.1 753.2 121.7 736.6 115.1 719.5Z"/><path fill="#50ff00" d="M116 719.5 298.7 719.5 298.7 906.9 281.8 899.8 265 891.7 250.9 884.2 236.9 875.8 222.9 866.3 210.8 857.1 197.6 845.9 185.9 834.7 175.1 823 164 809.4 155.4 797.5 146.8 784.1 138.6 769.9 130.2 753.3 122.6 736.4 116 719.5Z"/><path fill="#58ff00" d="M116.9 719.5 298.7 719.5 298.7 906 281.8 898.8 265.3 890.8 249.8 882.4 235.9 874 222.9 865.1 208.9 854.3 197.6 844.6 186.3 833.7 175.1 821.5 165.3 809.4 155.4 795.8 147 782.7 138.6 768 131.1 753.2 123.5 736.4 116.9 719.5Z"/><path fill="#60ff00" d="M117.8 719.5 298.7 719.5 298.7 905.1 281.8 897.9 265 889.7 250.9 882 236.9 873.5 222.9 863.9 210.4 854.3 197.6 843.2 186.3 832.3 175.7 820.6 166.5 809.4 156.3 795.3 147.3 781.3 139.3 767.3 132.1 753.2 124.5 736.5 117.8 719.5Z"/><path fill="#68ff00" d="M118.7 719.5 298.7 719.5 298.7 904.2 280.9 896.5 265 888.7 250.9 881 236.9 872.4 223 862.8 211.6 854 198.9 843.1 187.3 831.9 177 820.6 166.7 808 157.5 795.3 148.4 781.3 140.3 767.3 133 752.9 125.4 736.4 118.7 719.5Z"/><path fill="#70ff00" d="M119.6 719.5 298.7 719.5 298.7 903.3 281.8 895.9 265.7 888 250.9 879.9 236.9 871.2 224.6 862.8 211.6 852.8 200.4 843.1 188.7 831.9 178.3 820.6 169 809.4 158.7 795.3 149.8 781.8 141.4 767.3 134.1 753.2 126.4 736.4 119.6 719.5Z"/><path fill="#78ff00" d="M120.5 719.5 298.7 719.5 298.7 902.4 281.8 895 267.7 888 252.3 879.6 238.6 871.2 225.7 862.3 211.6 851.5 200.4 841.8 189.1 830.9 177.9 818.6 168.1 806.6 159.8 795.3 150.6 781.3 142.4 767.3 135.1 753.2 127.4 736.4 120.5 719.5Z"/><path fill="#80ff00" d="M121.4 719.5 298.7 719.5 298.7 901.5 281.1 893.7 265 885.6 250.9 877.7 236.9 869 224 859.9 211.6 850.2 200.2 840.3 189.1 829.5 178.5 817.8 169.3 806.6 161 795.3 151.7 781.3 143.5 767.3 135.8 752.5 128.3 736.4 121.4 719.5Z"/><path fill="#87ff00" d="M122.3 719.5 298.7 719.5 298.7 900.6 281.8 893.1 266.2 885.2 251.2 876.8 237.7 868.4 225.7 859.9 211.6 849 200.4 839.1 190.1 829.1 179.8 817.8 170.5 806.6 161.1 793.7 152.6 781 144.2 766.6 135.8 750.5 129.2 736.4 122.3 719.5Z"/><path fill="#8fff00" d="M123.2 719.5 298.7 719.5 298.7 899.7 281.8 892.1 267.8 885.1 253 876.8 239.4 868.4 227.3 859.9 214.4 850 203.1 840.3 191.5 829.1 181.1 817.8 171.8 806.6 161.4 792.5 152.6 779.2 144.2 764.7 136.7 750.4 130.2 736.3 123.2 719.5Z"/><path fill="#97ff00" d="M124.1 719.5 298.7 719.5 298.7 898.7 281.8 891.1 267.8 884.1 253.8 876.2 239.7 867.4 225.7 857.6 214.4 848.8 203.2 839 192 828.1 180.7 815.9 170.8 803.8 162.6 792.5 153.3 778.5 145.1 764.4 137.7 750.4 131.1 736.4 124.1 719.5Z"/><path fill="#9fff00" d="M125 719.5 298.7 719.5 298.7 897.8 283.2 890.8 267.8 883.1 253.8 875.1 239.7 866.3 226.7 857.1 214.4 847.5 203 837.5 192 826.7 181.2 815 172 803.8 163.7 792.5 154.4 778.5 146.1 764.4 138.7 750.4 132.1 736.4 125 719.5Z"/><path fill="#a7ff00" d="M125.9 719.5 298.7 719.5 298.7 896.9 281.8 889.2 267.8 882 253.6 874 240.3 865.6 228.3 857.1 214.4 846.3 203.2 836.4 192.8 826.2 182.5 815 173.3 803.8 163.9 791.1 155.4 778.4 147.2 764.4 139.7 750.4 133 736.2 125.9 719.5Z"/><path fill="#afff00" d="M126.8 719.5 298.7 719.5 298.7 896 281.8 888.3 267.8 881 255.4 874 242 865.6 229.9 857.1 217.2 847.3 205.8 837.5 194.2 826.2 183.8 815 174.5 803.8 166.1 792.5 156.6 778.5 148.2 764.4 140.7 750.4 134 736.4 126.8 719.5Z"/><path fill="#b7ff00" d="M127.7 719.5 298.7 719.5 298.7 895.1 283.4 888 267.8 880 253.8 872 242.5 864.8 228.5 854.9 217.2 846.1 206 836.3 194.8 825.4 185.1 815 175.1 803 166.7 791.8 157.7 778.5 149.3 764.4 141.7 750.4 134.9 736.4 127.7 719.5Z"/><path fill="#bfff00" d="M128.6 719.5 298.7 719.5 298.7 894.2 284.7 887.7 268.9 879.6 254.2 871.2 241.1 862.8 229.2 854.3 217.2 844.9 205.6 834.7 194.8 824.1 183.9 812.2 175.1 801.5 166.4 789.7 158.3 777.6 150.3 764.4 142.7 750.4 135.8 736.1 128.6 719.5Z"/><path fill="#c7ff00" d="M129.5 719.5 298.7 719.5 298.7 893.3 284.7 886.8 270.6 879.5 256 871.2 242.5 862.6 228.5 852.6 217.2 843.6 206 833.7 195.5 823.4 185.2 812.2 175.9 801 166.7 788.5 158.3 775.9 151.4 764.4 143.7 750.4 136.8 736.4 129.5 719.5Z"/><path fill="#cfff00" d="M130.4 719.5 298.7 719.5 298.7 892.4 283.5 885.2 267.8 877 253.8 868.8 242.5 861.5 228.7 851.5 218.1 843.1 206 832.4 196.8 823.4 186.5 812.2 177.1 801 168.7 789.7 159.2 775.7 150.8 761.6 144.2 749.4 136.5 733.5 130.4 719.5Z"/><path fill="#d7ff00" d="M131.3 719.5 298.7 719.5 298.7 891.5 284.7 884.8 269.3 876.8 254.9 868.4 242.5 860.4 230.2 851.5 219.6 843.1 208.8 833.7 197.6 822.8 187.7 812.2 177.9 800.4 169.5 789.2 160.3 775.7 151.8 761.6 144.2 747.6 137.4 733.5 131.3 719.5Z"/><path fill="#dfff00" d="M132.2 719.5 298.7 719.5 298.7 890.6 284.7 883.9 270.6 876.5 256.6 868.4 242.5 859.2 231.3 851.2 220 842.3 208.2 831.9 197.6 821.4 186.6 809.4 177.9 798.9 169.5 787.6 161.4 775.7 152.9 761.6 145.2 747.6 138.4 733.5 132.2 719.5Z"/><path fill="#e7ff00" d="M133.1 719.5 298.7 719.5 298.7 889.6 283.6 882.4 267.9 874 253.8 865.6 242.5 858.1 231.3 850 219.2 840.3 208.8 831.1 198.1 820.6 187.8 809.4 178.5 798.2 170.1 786.9 162.5 775.7 153.9 761.6 147 749.1 139.3 733.5 133.1 719.5Z"/><path fill="#efff00" d="M134 719.5 298.7 719.5 298.7 888.7 284.7 882 270.6 874.5 256.6 866.2 245.3 858.9 231.3 848.8 220.6 840.3 208.8 829.8 199.4 820.6 189.1 809.5 180.7 799.4 172.3 788.3 163.6 775.7 155 761.6 147.2 747.6 140.3 733.5 134 719.5Z"/><path fill="#f7ff00" d="M134.9 719.5 298.7 719.5 298.7 887.8 284.7 881 270.6 873.5 257.2 865.6 244.3 857.1 232.7 848.7 222.1 840.3 211.6 831.1 200.4 820.2 190.3 809.4 180.9 798.2 172.3 786.7 163.9 774.4 156 761.6 148.2 747.6 141.4 734 134.9 719.5Z"/><path fill="#ffff00" d="M135.8 719.5 298.7 719.5 298.7 886.9 284.7 880.1 270.6 872.5 256.6 864.1 245.3 856.7 234.1 848.6 222.9 839.7 211.6 829.8 200.4 818.9 189.1 806.6 180.7 796.4 172.3 785.1 164 772.9 157 761.6 149.2 747.6 142.1 733.5 135.8 719.5Z"/><path fill="#fff700" d="M136.7 719.5 298.7 719.5 298.7 886 284.7 879.1 270.6 871.5 256.6 863.1 245.3 855.6 234.1 847.5 221.7 837.5 211.6 828.6 200.7 817.8 190.4 806.6 181.1 795.3 172.7 784.1 165 772.9 158.1 761.6 150.2 747.6 143.1 733.5 136.7 719.5Z"/><path fill="#ffef00" d="M137.6 719.5 298.7 719.5 298.7 885.1 284.7 878.2 270.6 870.5 257.7 862.8 245.3 854.5 233.6 845.9 222.9 837.3 211.6 827.3 202 817.8 192 807 183.5 796.9 175.1 785.9 166.1 772.9 158.3 760.2 151.2 747.6 144.2 733.9 137.6 719.5Z"/><path fill="#ffe700" d="M138.5 719.5 298.7 719.5 298.7 884.2 284.7 877.2 270.6 869.5 259.4 862.7 246.6 854.3 235.1 845.9 224.5 837.5 214.4 828.6 203.2 817.7 192.9 806.6 183.5 795.4 175.1 784.3 167.2 772.9 160.2 761.6 152.2 747.6 145 733.5 138.5 719.5Z"/><path fill="#ffdf00" d="M139.4 719.5 298.7 719.5 298.7 883.3 284.7 876.2 270.6 868.5 256.6 859.9 245.3 852.3 234.1 844 222.9 834.8 213.2 826.2 203.2 816.4 194.1 806.6 184.6 795.3 176.1 784.1 168.3 772.9 161.1 761.4 153.2 747.6 145.9 733.5 139.4 719.5Z"/><path fill="#ffd700" d="M140.3 719.5 298.7 719.5 298.7 882.3 284.7 875.3 270.6 867.5 258.3 859.9 245.8 851.5 234.4 843.1 224.1 834.7 214.4 826.1 203.2 815 194.8 805.9 185.8 795.3 177.2 784.1 169.4 772.9 161.1 759.7 154.1 747.6 147 733.8 140.3 719.5Z"/><path fill="#ffcf00" d="M141.2 719.5 298.7 719.5 298.7 881.4 284 874 270.6 866.5 259.4 859.6 247.3 851.5 235.9 843.1 225.5 834.7 214.4 824.8 204.5 815 194.8 804.5 186.3 794.5 177.9 783.5 169.5 771.4 161.6 758.8 155.1 747.6 147.8 733.5 141.2 719.5Z"/><path fill="#ffc700" d="M142.1 719.5 298.7 719.5 298.7 880.5 285.8 874 273.4 867.1 261.6 859.9 248.1 851 236.9 842.7 225.7 833.6 214.4 823.5 205.8 815 197.6 806.3 188.2 795.3 179.5 784.1 171.6 772.9 163.9 760.9 156.1 747.6 148.8 733.5 142.1 719.5Z"/><path fill="#ffbf00" d="M143 719.5 298.7 719.5 298.7 879.6 284.7 872.4 272.5 865.6 259.4 857.5 248.1 849.9 236.9 841.5 225.7 832.4 215.7 823.4 206 813.9 196.6 803.8 187.1 792.5 178.6 781.3 170.8 770.1 163.6 758.8 155.6 744.8 149.7 733.5 143 719.5Z"/><path fill="#ffb700" d="M143.9 719.5 298.7 719.5 298.7 878.7 284.7 871.4 273.4 865.1 260.5 857.1 248 848.7 236.8 840.3 225.7 831.2 214.4 821 206 812.6 197.6 803.5 188.3 792.5 179.7 781.3 171.8 770.1 163.9 757.5 156.6 744.8 149.8 731.9 143.9 719.5Z"/><path fill="#ffaf00" d="M144.8 719.5 298.7 719.5 298.7 877.8 284.7 870.5 271.1 862.8 259.4 855.4 248.1 847.7 236.9 839.2 225.7 830 215.4 820.6 206.9 812.2 197.6 802.1 189.1 792.1 180.8 781.3 172.9 770.1 165.7 758.8 158.3 746.1 151.6 733.5 144.8 719.5Z"/><path fill="#ffa700" d="M145.7 719.5 298.7 719.5 298.7 876.8 284.7 869.5 272.8 862.8 259.4 854.3 248.1 846.6 228.5 831.2 217.2 821.1 208.2 812.2 200.3 803.8 190.6 792.5 181.9 781.3 174 770.1 166.7 758.7 158.5 744.8 152.5 733.5 145.7 719.5Z"/><path fill="#ff9f00" d="M146.6 719.5 298.7 719.5 298.7 875.9 284.7 868.6 273.4 862.1 261 854.3 248.7 845.9 237.6 837.5 227.4 829.1 218.1 820.6 208.8 811.5 200.4 802.5 191.8 792.5 183 781.3 175.1 770.1 166.7 757.1 159.5 744.8 152.6 731.9 146.6 719.5Z"/><path fill="#ff9700" d="M147.5 719.5 298.7 719.5 298.7 875 286.1 868.4 273.4 861.1 262.2 854.1 250.2 845.9 239 837.5 228.5 828.8 219.4 820.6 208.8 810.2 200.2 801 190.7 789.7 182.1 778.5 175.1 768.5 167.1 756 160.5 744.8 154.4 733.5 147.5 719.5Z"/><path fill="#ff8f00" d="M148.4 719.5 298.7 719.5 298.7 874.1 284.7 866.6 273.4 860.1 262.2 853 250.9 845.3 239.7 836.9 228.5 827.6 217.7 817.8 209.3 809.4 200.4 799.8 191.9 789.7 183.2 778.5 175.3 767.3 168.1 756 161.1 744.1 148.4 719.5Z"/><path fill="#ff8700" d="M149.3 719.5 298.7 719.5 298.7 873.2 284.7 865.7 273.4 859.1 262.2 852 250.9 844.2 239.7 835.7 228.5 826.4 219.1 817.8 210.5 809.4 202.7 801 193 789.7 184.3 778.5 176.4 767.3 169.1 756 162.5 744.8 155.4 731.8 149.3 719.5Z"/><path fill="#ff8000" d="M150.3 719.5 298.7 719.5 298.7 872.3 286.2 865.6 273.4 858.1 262.2 851 250.9 843.1 239.8 834.7 229.7 826.2 220.4 817.8 211.6 809.2 203.2 800.2 194.2 789.7 185.4 778.5 177.9 768 170.1 756 163.4 744.8 157.3 733.5 150.3 719.5Z"/><path fill="#ff7800" d="M151.2 719.5 298.7 719.5 298.7 871.3 284.7 863.7 273.5 857.1 262.2 849.9 250.9 842 241.2 834.7 231.1 826.2 221.7 817.8 211.6 807.9 203.2 798.8 194.8 789 186.5 778.5 178.5 767.3 171.2 756 164.4 744.8 158.2 733.5 151.2 719.5Z"/><path fill="#ff7000" d="M152.1 719.5 298.7 719.5 298.7 870.4 284.7 862.8 273.4 856.1 262 848.7 250.9 841 231.3 825.3 220 815 211.6 806.6 203.2 797.5 194.8 787.6 187.7 778.5 179.6 767.3 172.3 756.2 165.4 744.8 158.3 731.8 152.1 719.5Z"/><path fill="#ff6800" d="M153 719.5 298.7 719.5 298.7 869.5 286.3 862.8 273.4 855.1 262.2 847.8 251.5 840.3 240.6 831.9 231.3 824.1 221.3 815 212.8 806.6 203.2 796.1 195.4 786.9 180.6 767.3 173.2 756 166.4 744.8 160.1 733.5 153 719.5Z"/><path fill="#ff6000" d="M153.9 719.5 298.7 719.5 298.7 868.6 284.7 860.9 273.8 854.3 253 840.3 242 831.9 231.9 823.4 214.1 806.6 206 797.9 197.6 788.2 189.1 777.5 181.7 767.3 174.2 756 167.4 744.8 161.1 733.5 153.9 719.5Z"/><path fill="#ff5800" d="M154.8 719.5 298.7 719.5 298.7 867.7 275.4 854.3 253.8 839.8 243.4 831.9 233.3 823.4 224 815 214.4 805.6 206 796.6 197.7 786.9 182.8 767.3 175.3 756 168.4 744.8 161.1 731.8 154.8 719.5Z"/><path fill="#ff5000" d="M155.7 719.5 298.7 719.5 298.7 866.7 276.2 853.9 265 846.6 253.8 838.7 234.1 823 222.9 812.7 214.4 804.3 206 795.3 197.6 785.4 190 775.7 181.9 764.4 174.5 753.2 167.7 742 155.7 719.5Z"/><path fill="#ff4800" d="M156.6 719.5 298.7 719.5 298.7 865.8 276.2 852.9 265 845.6 253.6 837.5 234.1 821.8 223.6 812.2 215.1 803.8 206 793.9 197.7 784.1 182.9 764.4 169.5 743.4 156.6 719.5Z"/><path fill="#ff4000" d="M157.5 719.5 298.7 719.5 298.7 864.9 275.7 851.5 265 844.5 253.8 836.5 244.1 829.1 234.1 820.6 216.4 803.8 208.5 795.3 198.8 784.1 184 764.4 176.5 753.2 169.7 742 157.5 719.5Z"/><path fill="#ff3800" d="M158.4 719.5 298.7 719.5 298.7 864 276.2 850.9 265 843.5 253.8 835.4 235.4 820.6 226.2 812.2 217.2 803.4 208.8 794.4 200.4 784.6 192 773.9 185.1 764.4 177.5 753.2 170.6 742 158.4 719.5Z"/><path fill="#ff3000" d="M159.3 719.5 298.7 719.5 298.7 863 276.2 849.9 265 842.4 254.2 834.7 243.5 826.2 234.1 818.3 217.2 802.1 201.1 784.1 186.1 764.4 172.3 743.1 159.3 719.5Z"/><path fill="#ff2800" d="M160.2 719.5 298.7 719.5 298.7 862.1 276.2 848.9 255.6 834.7 244.8 826.2 234.9 817.8 217.3 801 208.8 791.7 200.4 781.8 186.3 763.3 172.6 742 160.2 719.5Z"/><path fill="#ff2000" d="M161.1 719.5 298.7 719.5 298.7 861.2 276.2 847.9 256.6 834.3 236.9 818.4 227.1 809.4 218.6 801 203.2 783.9 188.2 764.4 180.7 753.4 173.6 742 161.1 719.5Z"/><path fill="#ff1800" d="M162 719.5 298.7 719.5 298.7 860.3 276.2 846.9 256.6 833.2 237.6 817.8 219.8 801 203.2 782.5 189.1 764.2 175.1 742.9 162 719.5Z"/><path fill="#ff1000" d="M163 719.5 298.7 719.5 298.7 859.4 276.3 845.9 256.2 831.9 236.9 816.1 220 800 211.6 790.9 203.3 781.3 189.1 762.8 175.5 742 163 719.5Z"/><path fill="#ff0800" d="M163.9 719.5 298.7 719.5 298.7 858.4 276.2 844.9 256.6 831.1 237 815 220 798.7 204.5 781.3 189.4 761.6 176.5 742 163.9 719.5Z"/><path fill="#ff0000" d="M164.8 719.5 298.7 719.5 298.7 857.5 276.2 843.9 256.6 830 238.3 815 220.7 798.2 205.6 781.3 190.5 761.6 177.5 742 164.8 719.5Z"/><polyline fill="none" stroke="#1a1a1a" stroke-width="0.8" points="298.7,955.5 273.4,948.6 250.9,941.3 229.4,933 208.8,923.5 190.4,913.3 181.5,907.7 173.3,902.1 158.3,890.4 149.8,882.9 143.6,876.8 130.9,862.8 124.5,854.8 118.9,847.1 113.3,838.6 107.7,829.4 98.5,812.2 89.7,792.5 81.4,770.1 74,745.5 67.6,719.5"/><polyline fill="none" stroke="#1a1a1a" stroke-width="0.8" points="298.7,870.5 284.7,862.9 273.4,856.2 261.8,848.7 250.9,841 239.7,832.4 231.3,825.4 220,815.1 211.6,806.7 203.2,797.6 194.8,787.7 187.6,778.5 179.5,767.3 172.1,756 165.3,744.8 158.3,732 152,719.5"/><polyline fill="none" stroke="#1a1a1a" stroke-width="0.8" points="298.7,782.3 281.8,767.7 267.1,753.2 251.8,736.4 238.2,719.5"/></g><rect x="263" y="748.7" width="8" height="5.2" fill="#fff" stroke="#555" stroke-width="0.5"/><text x="267" y="752.8" font-size="4.2" text-anchor="middle" font-family="Liberation Sans,sans-serif" fill="#222">0.6</text><rect x="208" y="801.8" width="8" height="5.2" fill="#fff" stroke="#555" stroke-width="0.5"/><text x="212" y="805.9" font-size="4.2" text-anchor="middle" font-family="Liberation Sans,sans-serif" fill="#222">0.4</text><rect x="138.4" y="870.1" width="8" height="5.2" fill="#fff" stroke="#555" stroke-width="0.5"/><text x="142.4" y="874.2" font-size="4.2" text-anchor="middle" font-family="Liberation Sans,sans-serif" fill="#222">0.2</text><circle cx="142.4" cy="844.2" r="2.5" fill="#c00000" stroke="#300" stroke-width="0.6"/><circle cx="173.7" cy="844.2" r="2.5" fill="#c00000" stroke="#300" stroke-width="0.6"/><circle cx="204.9" cy="844.2" r="2.5" fill="#c00000" stroke="#300" stroke-width="0.6"/><circle cx="173.7" cy="781.9" r="2.5" fill="#c00000" stroke="#300" stroke-width="0.6"/><circle cx="173.7" cy="906.6" r="2.5" fill="#c00000" stroke="#300" stroke-width="0.6"/><rect x="48.7" y="719.5" width="250" height="250" fill="none" stroke="#3a3a3a" stroke-width="0.9"/><text x="48.7" y="986.5" class="tk" text-anchor="middle">-4</text><text x="111.2" y="986.5" class="tk" text-anchor="middle">-2</text><text x="173.7" y="986.5" class="tk" text-anchor="middle">0</text><text x="236.2" y="986.5" class="tk" text-anchor="middle">2</text><text x="298.7" y="986.5" class="tk" text-anchor="middle">4</text><text x="41.4" y="972.4" class="tk" text-anchor="end">-2</text><text x="41.4" y="909.9" class="tk" text-anchor="end">-1</text><text x="41.4" y="847.4" class="tk" text-anchor="end">0</text><text x="41.4" y="784.9" class="tk" text-anchor="end">1</text><text x="41.4" y="722.4" class="tk" text-anchor="end">2</text><path d="M48.7 969.5v6.5M111.2 969.5v6.5M173.7 969.5v6.5M236.2 969.5v6.5M298.7 969.5v6.5M48.7 969.5h-5.5M48.7 907h-5.5M48.7 844.5h-5.5M48.7 782h-5.5M48.7 719.5h-5.5" stroke="#777" stroke-width="1" fill="none"/><text x="173.5" y="714.5" class="ti" text-anchor="middle">Skin Friction</text><text x="173.7" y="1006.7" class="ax" text-anchor="middle">B: Sisk-fluid parameter</text><text transform="translate(14.2 844.2) rotate(-90)" class="ax" text-anchor="middle">C: Forchheimer Number</text><text x="173.4" y="1028.8" class="cap" text-anchor="middle">(e)</text><text x="165" y="141.6" font-family="Liberation Sans,sans-serif" font-size="3.6" fill="#0a5a1a" text-anchor="middle">6</text><text x="168.1" y="492.7" font-family="Liberation Sans,sans-serif" font-size="3.6" fill="#0a5a1a" text-anchor="middle">6</text><text x="167.8" y="845.2" font-family="Liberation Sans,sans-serif" font-size="3.6" fill="#0a5a1a" text-anchor="middle">6</text><path d="M393.8 178.1L522.3 134.8L650.5 178.6M392.6 152.7L522.3 111.9L651.7 153.2M391.3 126.7L522.3 88.6L652.9 127.4M390.1 100.3L522.3 64.9L654.2 101M388.8 73.4L522.4 40.7L655.4 74.2M387.5 46L522.4 16.2L656.7 46.8M425.9 167.3L421.2 38.5M458.1 156.5L454.9 31.1M490.2 145.6L488.6 23.6M618.5 167.6L623.1 39.2M586.4 156.7L589.5 31.5M554.4 145.8L555.9 23.9" stroke="#2a2a2a" stroke-width="0.65" fill="none"/><path d="M395.8 220.3L387.5 46M522.3 172.9L522.4 16.2M648.5 220.6L656.7 46.8" stroke="#222" stroke-width="0.7" fill="none"/><polygon points="395.8,220.3 522.3,172.9 648.5,220.6 522.3,281.1" fill="#666" stroke="#111" stroke-width="0.8"/><polyline fill="none" stroke="#001dff" stroke-width="1.2" points="502.8,271.8 531.9,256 562.5,241 594.6,226.7 628.2,212.9"/><polyline fill="none" stroke="#00ffe7" stroke-width="1.2" points="481.1,261.3 509.8,246 540,231.4 571.8,217.5 605.1,204.2"/><polyline fill="none" stroke="#13ff00" stroke-width="1.2" points="458.8,250.6 487.1,235.6 516.9,221.5 548.3,208 581.3,195.2"/><polyline fill="none" stroke="#fff100" stroke-width="1.2" points="436,239.6 463.8,225 493.2,211.3 524.1,198.3 556.7,185.9"/><polyline fill="none" stroke="#ff2900" stroke-width="1.2" points="417.2,230.6 444.6,216.3 473.6,202.9 504.2,190.2 536.5,178.3"/><path fill="#0000ff" stroke="#0000ff" stroke-width="0.3" d="M522.3 204.1 556.3 192.1 589.7 179.2 621 165.8 651.8 151.5 619 118.6 585.9 86.3 554.2 56.2 522.4 26.9 505.8 31 490.2 34.6 457.7 41.2 423 47 387.8 51.7 420.6 87.4 453.4 124.1 487.9 163.7 522.3 204.1Z"/><path fill="#000bff" d="M500.4 178.3 502.1 180.3 533.8 166.6 566.3 153.6 598.3 142.1 614.3 136.8 631.8 131.3 603.9 103.8 576.3 77 549.6 51.9 522.4 26.9 505.8 31 490.2 34.6 457.7 41.2 423 47 387.8 51.7 415.8 82.1 443.4 112.8 472.2 145.6 500.4 178.3Z"/><path fill="#0015ff" d="M500.4 178.3 501.1 179.1 519.5 171 537.6 163.4 555.6 156.2 573.3 149.5 602.1 139.4 630.7 130.3 603.9 103.8 576.3 77 549.6 51.9 522.4 26.9 505.8 31 490.2 34.6 457.7 41.2 423 47 387.8 51.7 415.8 82.1 443.4 112.8 472.2 145.6 500.4 178.3Z"/><path fill="#0020ff" d="M498.6 176.2 500.1 177.9 531.7 164.2 564.2 151.4 596.2 139.9 629.7 129.2 602.3 102.2 574.7 75.5 548 50.5 522.4 26.9 505.8 31 490.2 34.6 457.7 41.2 423 47 387.8 51.7 414.2 80.4 441.7 111 470.4 143.6 498.6 176.2Z"/><path fill="#002aff" d="M498.6 176.2 499 176.7 515.8 169.3 533.9 161.7 550.2 155.2 568 148.5 598.4 137.8 628.6 128.2 600.6 100.6 574.7 75.5 548 50.5 522.4 26.9 505.8 31 490.2 34.6 457.7 41.2 423 47 387.8 51.7 414.2 80.4 441.7 111 470.4 143.6 498.6 176.2Z"/><path fill="#0035ff" d="M496.8 174.1 498 175.5 529.6 161.9 562.1 149.1 594.2 137.7 627.6 127.1 600.6 100.6 574.7 75.5 548 50.5 522.4 26.9 505.8 31 490.2 34.6 457.7 41.2 423 47 387.8 51.7 414.2 80.4 441.7 111 468.7 141.6 496.8 174.1Z"/><path fill="#0040ff" d="M496.8 174.1 497 174.3 515.4 166.3 533.5 158.7 562.7 147.4 594.7 136.1 626.5 126.1 599 99 573.1 74 548 50.5 522.4 26.9 505.8 31 490.2 34.6 457.7 41.2 423 47 387.8 51.7 414.2 80.4 441.7 111 468.7 141.6 496.8 174.1Z"/><path fill="#004aff" d="M495 172 495.9 173.1 514.3 165.1 532.4 157.6 550.3 150.5 569.7 143.4 596.8 134 625.5 125 599 99 573.1 74 548 50.5 522.4 26.9 505.8 31 490.2 34.6 457.7 41.2 423 47 387.8 51.7 414.2 80.4 440.1 109.1 467 139.6 495 172Z"/><path fill="#0055ff" d="M493.2 169.9 494.9 171.9 526.5 158.4 559 145.8 591 134.5 624.4 124 599 99 573.1 74 548 50.5 522.4 26.9 505.8 31 490.2 34.6 457.7 41.2 423 47 387.8 51.7 414.2 80.4 440.1 109.1 467 139.6 493.2 169.9Z"/><path fill="#0060ff" d="M493.2 169.9 493.9 170.7 510.6 163.4 528.7 155.9 546.6 148.9 564.4 142.3 593.2 132.4 623.4 122.9 597.3 97.4 571.5 72.5 546.5 49 522.4 26.9 505.8 31 490.2 34.6 457.7 41.2 423 47 387.8 51.7 414.2 80.4 440.1 109.1 467 139.6 493.2 169.9Z"/><path fill="#006aff" d="M491.4 167.8 492.8 169.5 524.4 156.1 556.9 143.5 588.9 132.3 622.3 121.9 597.3 97.4 571.5 72.5 546.5 49 522.4 26.9 505.8 31 490.2 34.6 457.7 41.2 423 47 387.8 51.7 412.6 78.6 438.4 107.3 465.3 137.7 491.4 167.8Z"/><path fill="#0075ff" d="M491.4 167.8 491.8 168.2 508.5 161.1 526.7 153.6 542.9 147.3 560.7 140.7 591.1 130.2 621.2 120.8 595.7 95.8 571.5 72.5 546.5 49 522.4 26.9 505.8 31 490.2 34.6 457.7 41.2 423 47 387.8 51.7 412.6 78.6 438.4 107.3 465.3 137.7 491.4 167.8Z"/><path fill="#0080ff" d="M489.7 165.8 490.8 167 522.3 153.8 554.8 141.3 586.8 130.2 620.2 119.8 594.1 94.2 569.9 71 546.5 49 522.4 26.9 505.8 31 490.2 34.6 457.7 41.2 423 47 387.8 51.7 412.6 78.6 438.4 107.3 463.6 135.7 489.7 165.8Z"/><path fill="#008aff" d="M489.7 165.8 522.9 152 555.4 139.6 587.4 128.6 619.1 118.8 594.1 94.2 569.9 71 546.5 49 522.4 26.9 505.8 31 490.2 34.6 457.7 41.2 423 47 387.8 51.7 412.6 78.6 438.4 107.3 463.6 135.7 489.7 165.8Z"/><path fill="#0095ff" d="M487.9 163.7 488.7 164.6 507.1 156.8 525.2 149.5 543.1 142.6 560.8 136.2 589.5 126.5 618.1 117.7 594.1 94.2 569.9 71 546.5 49 522.4 26.9 505.8 31 490.2 34.6 457.7 41.2 423 47 387.8 51.7 412.6 78.6 436.8 105.4 461.9 133.8 487.9 163.7Z"/><path fill="#009fff" d="M486.1 161.7 487.7 163.4 519.2 150.3 551.7 138 583.7 127 617 116.7 592.4 92.6 568.3 69.5 545 47.6 522.4 26.9 505.8 31 490.2 34.6 457.7 41.2 423 47 387.8 51.7 412.6 78.6 436.8 105.4 461.9 133.8 486.1 161.7Z"/><path fill="#00aaff" d="M486.1 161.7 486.6 162.3 503.4 155.2 521.5 147.9 539.4 141 557.1 134.6 585.8 124.9 616 115.6 592.4 92.6 568.3 69.5 545 47.6 522.4 26.9 505.8 31 490.2 34.6 457.7 41.2 423 47 387.8 51.7 412.6 78.6 436.8 105.4 461.9 133.8 486.1 161.7Z"/><path fill="#00b5ff" d="M484.4 159.6 485.6 161.1 517.2 148 549.6 135.7 581.6 124.8 614.9 114.6 590.8 91 568.3 69.5 545 47.6 522.4 26.9 505.8 31 490.2 34.6 457.7 41.2 423 47 387.8 51.7 411 76.9 435.2 103.6 460.2 131.8 484.4 159.6Z"/><path fill="#00bfff" d="M484.4 159.6 484.6 159.9 502.9 152.2 522.7 144.3 551.8 133.5 582.2 123.2 613.9 113.6 590.8 91 566.7 68 545 47.6 522.4 26.9 505.8 31 490.2 34.6 457.7 41.2 423 47 387.8 51.7 411 76.9 435.2 103.6 460.2 131.8 484.4 159.6Z"/><path fill="#00caff" d="M482.6 157.6 483.5 158.7 501.9 151 520 143.8 537.9 137 557.2 130.1 584.3 121.1 612.8 112.5 589.2 89.4 566.7 68 545 47.6 522.4 26.9 505.8 31 490.2 34.6 457.7 41.2 423 47 387.8 51.7 411 76.9 435.2 103.6 458.5 129.9 482.6 157.6Z"/><path fill="#00d4ff" d="M480.9 155.6 482.5 157.5 514.1 144.6 546.5 132.4 578.5 121.6 611.8 111.5 589.2 89.4 566.7 68 545 47.6 522.4 26.9 505.8 31 490.2 34.6 457.7 41.2 423 47 387.8 51.7 411 76.9 433.5 101.8 456.8 128 480.9 155.6Z"/><path fill="#00dfff" d="M480.9 155.6 481.5 156.3 498.2 149.3 516.3 142.1 534.2 135.4 551.9 129.1 580.6 119.5 610.7 110.5 587.5 87.9 565.2 66.5 543.4 46.2 522.4 26.9 505.8 31 490.2 34.6 457.7 41.2 423 47 387.8 51.7 411 76.9 433.5 101.8 456.8 128 480.9 155.6Z"/><path fill="#00eaff" d="M479.1 153.6 480.5 155.1 512 142.3 544.4 130.2 576.4 119.5 609.7 109.4 587.5 87.9 565.2 66.5 543.4 46.2 522.4 26.9 505.8 31 490.2 34.6 457.7 41.2 423 47 387.8 51.7 409.5 75.2 431.9 99.9 455.1 126.1 479.1 153.6Z"/><path fill="#00f4ff" d="M479.1 153.6 479.4 153.9 512.6 140.5 546.6 128 576.9 117.9 608.6 108.4 565.2 66.5 543.4 46.2 522.4 26.9 505.8 31 490.2 34.6 457.7 41.2 423 47 387.8 51.7 409.5 75.2 431.9 99.9 455.1 126.1 479.1 153.6Z"/><path fill="#00ffff" d="M477.4 151.5 478.4 152.7 496.8 145.2 516.5 137.5 534.3 130.9 553.6 124.1 580.7 115.3 607.6 107.4 563.6 65 522.4 26.9 505.8 31 490.2 34.6 457.7 41.2 423 47 387.8 51.7 409.5 75.2 431.9 99.9 477.4 151.5Z"/><path fill="#00fff4" d="M475.6 149.5 477.4 151.5 508.9 138.8 541.3 126.9 573.3 116.3 606.5 106.3 563.6 65 522.4 26.9 505.8 31 490.2 34.6 457.7 41.2 423 47 387.8 51.7 430.3 98.1 475.6 149.5Z"/><path fill="#00ffea" d="M475.6 149.5 476.3 150.4 494.7 142.9 512.8 135.8 530.6 129.2 548.3 123 577 113.7 605.5 105.3 563.6 65 522.4 26.9 505.8 31 490.2 34.6 457.7 41.2 423 47 387.8 51.7 430.3 98.1 475.6 149.5Z"/><path fill="#00ffdf" d="M473.9 147.5 475.3 149.2 506.8 136.6 539.3 124.7 571.2 114.2 604.4 104.3 563.6 65 522.4 26.9 505.8 31 490.2 34.6 457.7 41.2 423 47 387.8 51.7 430.3 98.1 473.9 147.5Z"/><path fill="#00ffd4" d="M473.9 147.5 474.3 148 509.1 134.2 543 122 573.3 112.1 603.4 103.3 562 63.5 522.4 26.9 505.8 31 490.2 34.6 457.7 41.2 423 47 387.8 51.7 430.3 98.1 473.9 147.5Z"/><path fill="#00ffca" d="M472.2 145.6 473.3 146.8 504.8 134.3 537.2 122.5 569.1 112 602.4 102.2 562 63.5 522.4 26.9 505.8 31 490.2 34.6 457.7 41.2 423 47 387.8 51.7 428.6 96.3 472.2 145.6Z"/><path fill="#00ffbf" d="M472.2 145.6 507 131.9 537.8 120.9 569.6 110.5 601.3 101.2 562 63.5 522.4 26.9 505.8 31 490.2 34.6 457.7 41.2 423 47 387.8 51.7 428.6 96.3 472.2 145.6Z"/><path fill="#00ffb5" d="M470.4 143.6 471.2 144.5 489.6 137.1 507.6 130.2 525.5 123.7 544.7 117.1 571.8 108.5 600.3 100.2 560.4 62.1 522.4 26.9 505.8 31 490.2 34.6 457.7 41.2 423 47 387.8 51.7 428.6 96.3 470.4 143.6Z"/><path fill="#00ffaa" d="M468.7 141.6 470.2 143.3 501.7 130.9 534.1 119.2 566 108.9 599.2 99.2 560.4 62.1 522.4 26.9 505.8 31 490.2 34.6 457.7 41.2 423 47 387.8 51.7 427 94.5 468.7 141.6Z"/><path fill="#00ff9f" d="M468.7 141.6 469.2 142.1 503.9 128.5 537.9 116.5 568.1 106.8 598.2 98.2 560.4 62.1 522.4 26.9 505.8 31 490.2 34.6 457.7 41.2 423 47 387.8 51.7 427 94.5 468.7 141.6Z"/><path fill="#00ff95" d="M467 139.6 468.1 140.9 499.6 128.6 532 117.1 563.9 106.8 597.1 97.1 558.9 60.6 522.4 26.9 505.8 31 490.2 34.6 457.7 41.2 423 47 387.8 51.7 427 94.5 467 139.6Z"/><path fill="#00ff8a" d="M467 139.6 467.1 139.8 501.9 126.3 532.6 115.4 564.4 105.2 596.1 96.1 558.9 60.6 522.4 26.9 505.8 31 490.2 34.6 457.7 41.2 423 47 387.8 51.7 427 94.5 467 139.6Z"/><path fill="#00ff80" d="M465.3 137.7 466.1 138.6 484.4 131.4 502.5 124.6 520.3 118.2 539.5 111.7 566.6 103.2 595 95.1 558.9 60.6 522.4 26.9 505.8 31 490.2 34.6 457.7 41.2 423 47 387.8 51.7 425.4 92.7 465.3 137.7Z"/><path fill="#00ff75" d="M463.6 135.7 465.1 137.4 496.6 125.2 528.9 113.8 560.8 103.6 594 94.1 557.3 59.1 522.4 26.9 505.8 31 490.2 34.6 457.7 41.2 423 47 387.8 51.7 425.4 92.7 463.6 135.7Z"/><path fill="#00ff6a" d="M463.6 135.7 464 136.3 498.8 122.9 516.6 116.6 534.3 110.6 562.9 101.6 592.9 93.1 557.3 59.1 522.4 26.9 505.8 31 490.2 34.6 457.7 41.2 423 47 387.8 51.7 425.4 92.7 463.6 135.7Z"/><path fill="#00ff60" d="M461.9 133.8 463 135.1 494.5 123 526.8 111.6 558.7 101.5 591.9 92.1 557.3 59.1 522.4 26.9 505.8 31 490.2 34.6 457.7 41.2 423 47 387.8 51.7 423.8 90.9 461.9 133.8Z"/><path fill="#00ff55" d="M461.9 133.8 462 133.9 480.3 126.8 498.4 120.1 527.4 110 559.2 100 590.8 91 555.8 57.7 522.4 26.9 505.8 31 490.2 34.6 457.7 41.2 423 47 387.8 51.7 423.8 90.9 461.9 133.8Z"/><path fill="#00ff4a" d="M460.2 131.8 461 132.8 479.3 125.6 497.3 119 515.1 112.7 534.4 106.3 561.4 98 589.8 90 555.8 57.7 522.4 26.9 505.8 31 490.2 34.6 457.7 41.2 423 47 387.8 51.7 423.8 90.9 460.2 131.8Z"/><path fill="#00ff40" d="M458.5 129.9 460 131.6 491.4 119.6 523.7 108.4 555.6 98.4 588.7 89 555.8 57.7 522.4 26.9 505.8 31 490.2 34.6 457.7 41.2 423 47 387.8 51.7 422.2 89.2 458.5 129.9Z"/><path fill="#00ff35" d="M458.5 129.9 458.9 130.4 493.7 117.3 511.5 111.1 529.1 105.2 557.7 96.4 587.7 88 554.2 56.2 522.4 26.9 505.8 31 490.2 34.6 457.7 41.2 423 47 387.8 51.7 422.2 89.2 458.5 129.9Z"/><path fill="#00ff2b" d="M456.8 128 457.9 129.3 489.4 117.4 521.7 106.2 553.5 96.3 586.6 87 554.2 56.2 522.4 26.9 505.8 31 490.2 34.6 457.7 41.2 423 47 387.8 51.7 422.2 89.2 456.8 128Z"/><path fill="#00ff20" d="M456.8 128 456.9 128.1 475.2 121.1 493.2 114.5 522.3 104.6 554 94.8 585.6 86 554.2 56.2 522.4 26.9 505.8 31 490.2 34.6 457.7 41.2 423 47 387.8 51.7 422.2 89.2 456.8 128Z"/><path fill="#00ff15" d="M455.1 126.1 455.9 127 474.2 120 492.2 113.4 510 107.3 529.2 101 556.2 92.8 584.5 85 552.7 54.8 522.4 26.9 505.8 31 490.2 34.6 457.7 41.2 423 47 387.8 51.7 420.6 87.4 455.1 126.1Z"/><path fill="#00ff0b" d="M453.4 124.1 454.9 125.8 486.3 114 518.6 103 550.4 93.2 583.5 84 552.7 54.8 522.4 26.9 505.8 31 490.2 34.6 457.7 41.2 423 47 387.8 51.7 420.6 87.4 453.4 124.1Z"/><path fill="#00ff00" d="M453.4 124.1 453.8 124.6 488.5 111.8 522.3 100.4 552.5 91.2 582.4 83 552.7 54.8 522.4 26.9 505.8 31 490.2 34.6 457.7 41.2 423 47 387.8 51.7 420.6 87.4 453.4 124.1Z"/><path fill="#0bff00" d="M451.7 122.2 452.8 123.5 484.2 111.8 516.5 100.9 548.3 91.1 581.4 82 551.1 53.3 522.4 26.9 505.8 31 490.2 34.6 457.7 41.2 423 47 387.8 51.7 419 85.6 451.7 122.2Z"/><path fill="#15ff00" d="M451.7 122.2 486.5 109.6 517.1 99.3 548.8 89.6 580.4 81 551.1 53.3 522.4 26.9 505.8 31 490.2 34.6 457.7 41.2 423 47 387.8 51.7 419 85.6 451.7 122.2Z"/><path fill="#20ff00" d="M450.1 120.3 450.8 121.2 487.1 107.9 504.9 101.9 524 95.7 551 87.7 579.3 80 551.1 53.3 522.4 26.9 505.8 31 490.2 34.6 457.7 41.2 423 47 387.8 51.7 419 85.6 450.1 120.3Z"/><path fill="#2aff00" d="M448.4 118.5 449.8 120 481.2 108.5 513.4 97.6 545.2 88 578.3 79 549.6 51.9 522.4 26.9 505.8 31 490.2 34.6 457.7 41.2 423 47 387.8 51.7 417.4 83.9 448.4 118.5Z"/><path fill="#35ff00" d="M448.4 118.5 448.8 118.9 483.4 106.3 517.2 95.1 547.3 86 577.2 78 549.6 51.9 522.4 26.9 505.8 31 490.2 34.6 457.7 41.2 423 47 387.8 51.7 417.4 83.9 448.4 118.5Z"/><path fill="#40ff00" d="M446.7 116.6 447.7 117.7 479.1 106.3 511.4 95.5 543.1 85.9 576.2 77 549.6 51.9 522.4 26.9 505.8 31 490.2 34.6 457.7 41.2 423 47 387.8 51.7 417.4 83.9 446.7 116.6Z"/><path fill="#4aff00" d="M446.7 116.6 479.7 104.6 510.3 94.4 542.1 84.9 575.1 76 548 50.5 522.4 26.9 505.8 31 490.2 34.6 457.7 41.2 423 47 387.8 51.7 417.4 83.9 446.7 116.6Z"/><path fill="#55ff00" d="M445.1 114.7 445.7 115.4 482 102.4 517.3 90.9 545.8 82.5 574.1 75 548 50.5 522.4 26.9 505.8 31 490.2 34.6 457.7 41.2 423 47 387.8 51.7 415.8 82.1 445.1 114.7Z"/><path fill="#60ff00" d="M443.4 112.8 444.7 114.3 476.1 103 508.3 92.3 540 82.8 573 74 548 50.5 522.4 26.9 505.8 31 490.2 34.6 457.7 41.2 423 47 387.8 51.7 415.8 82.1 443.4 112.8Z"/><path fill="#6aff00" d="M443.4 112.8 443.7 113.2 476.7 101.3 510.4 90.3 540.5 81.4 572 73 546.5 49 522.4 26.9 505.8 31 490.2 34.6 457.7 41.2 423 47 387.8 51.7 415.8 82.1 443.4 112.8Z"/><path fill="#75ff00" d="M441.7 111 442.7 112 460.9 105.4 480.5 98.6 498.2 92.7 517.4 86.8 544.2 79 570.9 72 546.5 49 522.4 26.9 505.8 31 490.2 34.6 457.7 41.2 423 47 387.8 51.7 414.2 80.4 441.7 111Z"/><path fill="#80ff00" d="M440.1 109.1 441.7 110.9 473 99.7 505.2 89.1 536.9 79.8 569.9 71 546.5 49 522.4 26.9 505.8 31 490.2 34.6 457.7 41.2 423 47 387.8 51.7 414.2 80.4 440.1 109.1Z"/><path fill="#8aff00" d="M440.1 109.1 440.6 109.7 475.2 97.5 510.5 86.1 539 77.8 568.9 70 545 47.6 522.4 26.9 505.8 31 490.2 34.6 457.7 41.2 423 47 387.8 51.7 414.2 80.4 440.1 109.1Z"/><path fill="#95ff00" d="M438.4 107.3 439.6 108.6 471 97.5 503.1 87 534.8 77.7 567.8 69 545 47.6 522.4 26.9 505.8 31 490.2 34.6 457.7 41.2 423 47 387.8 51.7 412.6 78.6 438.4 107.3Z"/><path fill="#9fff00" d="M438.4 107.3 438.6 107.5 456.9 100.9 476.4 94.2 505.3 85 535.4 76.2 566.8 68 545 47.6 522.4 26.9 505.8 31 490.2 34.6 457.7 41.2 423 47 387.8 51.7 412.6 78.6 438.4 107.3Z"/><path fill="#aaff00" d="M436.8 105.4 437.6 106.3 473.8 93.7 491.5 87.9 510.6 82 537.5 74.4 565.7 67 543.4 46.2 522.4 26.9 505.8 31 490.2 34.6 457.7 41.2 423 47 387.8 51.7 412.6 78.6 436.8 105.4Z"/><path fill="#b5ff00" d="M435.2 103.6 436.6 105.2 467.9 94.2 500.1 83.9 531.7 74.6 564.7 66 543.4 46.2 522.4 26.9 505.8 31 490.2 34.6 457.7 41.2 423 47 387.8 51.7 411 76.9 435.2 103.6Z"/><path fill="#bfff00" d="M435.2 103.6 435.6 104.1 470.1 92 505.4 80.9 533.8 72.8 563.6 65.1 522.4 26.9 505.8 31 490.2 34.6 457.7 41.2 423 47 387.8 51.7 411 76.9 435.2 103.6Z"/><path fill="#caff00" d="M433.5 101.8 434.6 102.9 465.9 92 498 81.8 529.6 72.6 562.6 64.1 522.4 26.9 505.8 31 490.2 34.6 457.7 41.2 423 47 387.8 51.7 411 76.9 433.5 101.8Z"/><path fill="#d5ff00" d="M433.5 101.8 466.5 90.4 498.6 80.2 530.2 71.2 561.5 63.1 522.4 26.9 505.8 31 490.2 34.6 457.7 41.2 423 47 387.8 51.7 411 76.9 433.5 101.8Z"/><path fill="#dfff00" d="M431.9 99.9 432.5 100.7 468.7 88.2 503.9 77.3 532.3 69.3 560.5 62.1 522.4 26.9 505.8 31 490.2 34.6 457.7 41.2 423 47 387.8 51.7 409.5 75.2 431.9 99.9Z"/><path fill="#eaff00" d="M430.3 98.1 431.5 99.5 462.8 88.8 494.9 78.6 526.5 69.6 559.4 61.1 522.4 26.9 505.8 31 490.2 34.6 457.7 41.2 423 47 387.8 51.7 430.3 98.1Z"/><path fill="#f4ff00" d="M430.3 98.1 430.5 98.4 463.4 87.1 497.1 76.6 527.1 68.1 558.4 60.1 522.4 26.9 505.8 31 490.2 34.6 457.7 41.2 423 47 387.8 51.7 430.3 98.1Z"/><path fill="#ffff00" d="M428.6 96.3 429.5 97.3 447.7 91 467.3 84.5 504 73.3 530.7 65.9 557.4 59.2 522.4 26.9 505.8 31 490.2 34.6 457.7 41.2 423 47 387.8 51.7 428.6 96.3Z"/><path fill="#fff400" d="M427 94.5 428.5 96.2 459.8 85.5 491.9 75.5 523.4 66.5 556.3 58.2 522.4 26.9 505.8 31 490.2 34.6 457.7 41.2 423 47 387.8 51.7 427 94.5Z"/><path fill="#ffea00" d="M427 94.5 427.5 95.1 462 83.4 497.2 72.6 525.5 64.7 555.3 57.2 522.4 26.9 505.8 31 490.2 34.6 457.7 41.2 423 47 387.8 51.7 427 94.5Z"/><path fill="#ffdf00" d="M425.4 92.7 426.5 93.9 457.7 83.3 489.8 73.4 521.4 64.5 554.2 56.2 522.4 26.9 505.8 31 490.2 34.6 457.7 41.2 423 47 387.8 51.7 425.4 92.7Z"/><path fill="#ffd500" d="M425.4 92.7 459.9 81.2 490.4 71.9 521.9 63.1 553.2 55.3 522.4 26.9 505.8 31 490.2 34.6 457.7 41.2 423 47 387.8 51.7 425.4 92.7Z"/><path fill="#ffca00" d="M423.8 90.9 424.5 91.7 460.5 79.6 497.3 68.6 524 61.3 552.1 54.3 522.4 26.9 505.8 31 490.2 34.6 457.7 41.2 423 47 387.8 51.7 423.8 90.9Z"/><path fill="#ffbf00" d="M422.2 89.2 423.5 90.6 454.7 80.1 486.7 70.3 518.3 61.5 551.1 53.3 522.4 26.9 505.8 31 490.2 34.6 457.7 41.2 423 47 387.8 51.7 422.2 89.2Z"/><path fill="#ffb500" d="M422.2 89.2 422.4 89.5 455.3 78.5 488.9 68.3 518.8 60.1 550 52.3 522.4 26.9 505.8 31 490.2 34.6 457.7 41.2 423 47 387.8 51.7 422.2 89.2Z"/><path fill="#ffaa00" d="M420.6 87.4 421.4 88.3 459.1 75.9 495.8 65 522.5 57.9 549 51.4 522.4 26.9 505.8 31 490.2 34.6 457.7 41.2 423 47 387.8 51.7 420.6 87.4Z"/><path fill="#ff9f00" d="M419 85.6 420.4 87.2 451.6 76.9 483.7 67.2 515.2 58.5 548 50.4 522.4 26.9 505.8 31 490.2 34.6 457.7 41.2 423 47 387.8 51.7 419 85.6Z"/><path fill="#ff9500" d="M419 85.6 419.4 86.1 453.8 74.8 489 64.3 517.3 56.7 546.9 49.4 522.4 26.9 505.8 31 490.2 34.6 457.7 41.2 423 47 387.8 51.7 419 85.6Z"/><path fill="#ff8a00" d="M417.4 83.9 418.4 85 449.6 74.7 481.6 65.1 513.1 56.5 545.9 48.5 522.4 26.9 505.8 31 490.2 34.6 457.7 41.2 423 47 387.8 51.7 417.4 83.9Z"/><path fill="#ff8000" d="M417.4 83.9 450.2 73.2 482.2 63.6 513.6 55.1 544.8 47.5 522.4 26.9 505.8 31 490.2 34.6 457.7 41.2 423 47 387.8 51.7 417.4 83.9Z"/><path fill="#ff7500" d="M415.8 82.1 416.4 82.8 452.4 71.1 487.5 60.8 515.7 53.3 543.8 46.5 522.4 26.9 505.8 31 490.2 34.6 457.7 41.2 423 47 387.8 51.7 415.8 82.1Z"/><path fill="#ff6a00" d="M414.2 80.4 415.4 81.7 446.6 71.5 478.5 62 510 53.5 542.7 45.6 522.4 26.9 505.8 31 490.2 34.6 457.7 41.2 423 47 387.8 51.7 414.2 80.4Z"/><path fill="#ff6000" d="M414.2 80.4 414.4 80.6 452 68.5 480.7 60.1 510.5 52.1 541.7 44.6 522.4 26.9 505.8 31 490.2 34.6 457.7 41.2 423 47 387.8 51.7 414.2 80.4Z"/><path fill="#ff5500" d="M412.6 78.6 413.4 79.5 449.4 67.9 486 57.3 512.6 50.3 540.7 43.6 522.4 26.9 505.8 31 490.2 34.6 457.7 41.2 423 47 387.8 51.7 412.6 78.6Z"/><path fill="#ff4a00" d="M411 76.9 412.4 78.4 443.5 68.3 475.5 58.9 506.9 50.5 539.6 42.7 522.4 26.9 505.8 31 490.2 34.6 457.7 41.2 423 47 387.8 51.7 411 76.9Z"/><path fill="#ff4000" d="M411 76.9 411.4 77.3 445.7 66.3 479.2 56.6 509 48.7 538.6 41.7 522.4 26.9 505.8 31 490.2 34.6 457.7 41.2 423 47 387.8 51.7 411 76.9Z"/><path fill="#ff3500" d="M409.5 75.2 410.4 76.2 441.5 66.2 473.4 56.9 504.8 48.5 537.5 40.7 522.4 26.9 505.8 31 490.2 34.6 457.7 41.2 423 47 387.8 51.7 409.5 75.2Z"/><path fill="#ff2a00" d="M407.9 73.4 409.4 75.1 440.5 65.2 472.4 55.8 503.8 47.5 536.5 39.8 522.4 26.9 505.8 31 490.2 34.6 457.7 41.2 423 47 387.8 51.7 407.9 73.4Z"/><path fill="#ff2000" d="M407.9 73.4 408.4 74 442.7 63.1 477.7 53.1 505.9 45.8 535.4 38.8 522.4 26.9 505.8 31 490.2 34.6 457.7 41.2 423 47 387.8 51.7 407.9 73.4Z"/><path fill="#ff1500" d="M406.3 71.7 407.4 72.9 438.5 63 470.4 53.8 501.7 45.6 534.4 37.9 522.4 26.9 505.8 31 490.2 34.6 457.7 41.2 423 47 387.8 51.7 406.3 71.7Z"/><path fill="#ff0b00" d="M406.3 71.7 440.7 61 470.9 52.3 502.3 44.2 533.3 36.9 522.4 26.9 505.8 31 490.2 34.6 457.7 41.2 423 47 387.8 51.7 406.3 71.7Z"/><path fill="#ff0000" d="M404.7 70 405.4 70.7 441.3 59.5 476.2 49.6 504.3 42.4 532.3 36 522.4 26.9 505.8 31 490.2 34.6 457.7 41.2 423 47 387.8 51.7 404.7 70Z"/><path d="M522.3 204.1L514.9 195.4L507.6 186.8L500.4 178.3L493.2 169.9L486.1 161.7L479.1 153.6L472.2 145.6L465.3 137.7L458.5 129.9L451.7 122.2L445.1 114.7L438.4 107.3L431.9 99.9L425.4 92.7L419 85.6L412.6 78.6L406.3 71.7L400.1 64.9L393.9 58.2L387.8 51.7M522.3 204.1L529.6 201.6L536.9 199.1L544 196.6L551.1 194L558 191.5L564.9 188.9L571.6 186.3L578.3 183.7L584.8 181.1L591.3 178.5L597.7 175.9L604 173.2L610.3 170.5L616.4 167.9L622.5 165.2L628.5 162.5L634.4 159.7L640.3 157L646.1 154.3L651.8 151.5M529.6 201.6L522.3 193L515 184.5L507.8 176.1L500.6 167.8L493.6 159.6L486.6 151.6L479.6 143.7L472.8 135.9L466 128.2L459.2 120.6L452.6 113.1L446 105.8L439.4 98.5L432.9 91.4L426.5 84.4L420.2 77.4L413.9 70.6L407.7 63.9L401.5 57.3L395.4 50.7M514.9 195.4L522.3 193L529.5 190.5L536.7 188.1L543.8 185.7L550.7 183.2L557.6 180.7L564.4 178.2L571 175.7L577.6 173.2L584.1 170.6L590.6 168.1L596.9 165.5L603.1 162.9L609.3 160.3L615.4 157.7L621.4 155.1L627.4 152.4L633.2 149.8L639 147.1L644.8 144.4M536.9 199.1L529.5 190.5L522.3 182.1L515.1 173.8L508 165.6L500.9 157.6L493.9 149.6L487 141.8L480.2 134.1L473.4 126.4L466.6 118.9L460 111.6L453.4 104.3L446.9 97.1L440.4 90L434 83.1L427.6 76.2L421.4 69.5L415.1 62.8L409 56.2L402.9 49.8M507.6 186.8L515 184.5L522.3 182.1L529.5 179.8L536.5 177.4L543.5 175L550.4 172.6L557.2 170.2L563.9 167.8L570.5 165.3L577 162.9L583.4 160.4L589.8 157.9L596.1 155.4L602.3 152.9L608.4 150.3L614.4 147.8L620.4 145.2L626.2 142.6L632.1 140L637.8 137.4M544 196.6L536.7 188.1L529.5 179.8L522.3 171.6L515.2 163.5L508.1 155.5L501.2 147.6L494.3 139.9L487.4 132.2L480.6 124.7L473.9 117.3L467.3 109.9L460.7 102.7L454.2 95.6L447.7 88.6L441.3 81.7L435 75L428.7 68.3L422.5 61.7L416.4 55.2L410.3 48.8M500.4 178.3L507.8 176.1L515.1 173.8L522.3 171.6L529.4 169.3L536.4 167L543.3 164.7L550.1 162.3L556.8 160L563.4 157.6L570 155.2L576.4 152.8L582.8 150.4L589.1 148L595.3 145.5L601.4 143.1L607.4 140.6L613.4 138.1L619.3 135.6L625.2 133L630.9 130.5M551.1 194L543.8 185.7L536.5 177.4L529.4 169.3L522.3 161.3L515.3 153.4L508.3 145.6L501.4 137.9L494.6 130.3L487.8 122.9L481.1 115.5L474.5 108.3L467.9 101.2L461.4 94.1L455 87.2L448.6 80.4L442.3 73.7L436 67L429.8 60.5L423.6 54.1L417.6 47.8M493.2 169.9L500.6 167.8L508 165.6L515.2 163.5L522.3 161.3L529.3 159.1L536.2 156.8L543 154.6L549.8 152.3L556.4 150L563 147.7L569.4 145.4L575.8 143L582.1 140.7L588.3 138.3L594.5 135.9L600.5 133.5L606.5 131.1L612.5 128.6L618.3 126.1L624.1 123.7M558 191.5L550.7 183.2L543.5 175L536.4 167L529.3 159.1L522.3 151.2L515.4 143.5L508.5 135.9L501.7 128.4L494.9 121.1L488.2 113.8L481.6 106.6L475.1 99.6L468.6 92.6L462.1 85.8L455.7 79L449.4 72.3L443.2 65.8L437 59.3L430.8 53L424.7 46.7M486.1 161.7L493.6 159.6L500.9 157.6L508.1 155.5L515.3 153.4L522.3 151.2L529.2 149.1L536.1 146.9L542.8 144.7L549.5 142.5L556 140.3L562.5 138L568.9 135.8L575.2 133.5L581.5 131.2L587.6 128.8L593.7 126.5L599.7 124.1L605.7 121.8L611.5 119.4L617.3 116.9M564.9 188.9L557.6 180.7L550.4 172.6L543.3 164.7L536.2 156.8L529.2 149.1L522.3 141.5L515.4 133.9L508.6 126.5L501.9 119.2L495.2 112L488.6 104.9L482.1 97.9L475.6 91.1L469.2 84.3L462.8 77.6L456.5 71L450.2 64.5L444.1 58.1L437.9 51.8L431.8 45.6M479.1 153.6L486.6 151.6L493.9 149.6L501.2 147.6L508.3 145.6L515.4 143.5L522.3 141.5L529.2 139.4L535.9 137.3L542.6 135.1L549.2 133L555.7 130.8L562.1 128.6L568.4 126.4L574.7 124.1L580.8 121.9L586.9 119.6L593 117.3L598.9 115L604.8 112.7L610.6 110.3M571.6 186.3L564.4 178.2L557.2 170.2L550.1 162.3L543 154.6L536.1 146.9L529.2 139.4L522.3 131.9L515.5 124.6L508.8 117.4L502.1 110.2L495.5 103.2L489 96.3L482.5 89.5L476.1 82.8L469.8 76.1L463.5 69.6L457.2 63.2L451 56.9L444.9 50.6L438.8 44.5M472.2 145.6L479.6 143.7L487 141.8L494.3 139.9L501.4 137.9L508.5 135.9L515.4 133.9L522.3 131.9L529.1 129.9L535.8 127.8L542.4 125.7L548.9 123.6L555.3 121.5L561.6 119.4L567.9 117.2L574.1 115L580.2 112.8L586.3 110.6L592.2 108.3L598.1 106.1L603.9 103.8M578.3 183.7L571 175.7L563.9 167.8L556.8 160L549.8 152.3L542.8 144.7L535.9 137.3L529.1 129.9L522.3 122.6L515.6 115.5L509 108.4L502.4 101.5L495.8 94.6L489.4 87.9L483 81.2L476.6 74.7L470.3 68.2L464.1 61.8L457.9 55.6L451.8 49.4L445.8 43.3M465.3 137.7L472.8 135.9L480.2 134.1L487.4 132.2L494.6 130.3L501.7 128.4L508.6 126.5L515.5 124.6L522.3 122.6L529 120.6L535.6 118.6L542.1 116.6L548.6 114.5L554.9 112.5L561.2 110.4L567.4 108.2L573.6 106.1L579.6 104L585.6 101.8L591.5 99.6L597.3 97.4M584.8 181.1L577.6 173.2L570.5 165.3L563.4 157.6L556.4 150L549.5 142.5L542.6 135.1L535.8 127.8L529 120.6L522.3 113.6L515.7 106.6L509.1 99.7L502.6 92.9L496.1 86.2L489.7 79.6L483.4 73.1L477.1 66.8L470.9 60.5L464.7 54.2L458.6 48.1L452.6 42.1M458.5 129.9L466 128.2L473.4 126.4L480.6 124.7L487.8 122.9L494.9 121.1L501.9 119.2L508.8 117.4L515.6 115.5L522.3 113.6L528.9 111.6L535.5 109.7L541.9 107.7L548.3 105.7L554.6 103.6L560.8 101.6L567 99.5L573 97.4L579 95.3L584.9 93.2L590.8 91M591.3 178.5L584.1 170.6L577 162.9L570 155.2L563 147.7L556 140.3L549.2 133L542.4 125.7L535.6 118.6L528.9 111.6L522.3 104.7L515.8 97.9L509.3 91.2L502.8 84.6L496.4 78L490.1 71.6L483.8 65.3L477.6 59L471.5 52.9L465.4 46.8L459.3 40.9M451.7 122.2L459.2 120.6L466.6 118.9L473.9 117.3L481.1 115.5L488.2 113.8L495.2 112L502.1 110.2L509 108.4L515.7 106.6L522.3 104.7L528.9 102.8L535.3 100.9L541.7 99L548 97L554.3 95L560.4 93L566.5 91L572.5 88.9L578.4 86.8L584.3 84.7M597.7 175.9L590.6 168.1L583.4 160.4L576.4 152.8L569.4 145.4L562.5 138L555.7 130.8L548.9 123.6L542.1 116.6L535.5 109.7L528.9 102.8L522.3 96.1L515.8 89.4L509.4 82.9L503 76.4L496.7 70L490.5 63.8L484.3 57.6L478.1 51.5L472 45.5L466 39.6M445.1 114.7L452.6 113.1L460 111.6L467.3 109.9L474.5 108.3L481.6 106.6L488.6 104.9L495.5 103.2L502.4 101.5L509.1 99.7L515.8 97.9L522.3 96.1L528.8 94.2L535.2 92.3L541.5 90.4L547.8 88.5L553.9 86.6L560 84.6L566 82.6L572 80.6L577.9 78.6M604 173.2L596.9 165.5L589.8 157.9L582.8 150.4L575.8 143L568.9 135.8L562.1 128.6L555.3 121.5L548.6 114.5L541.9 107.7L535.3 100.9L528.8 94.2L522.3 87.6L515.9 81.1L509.5 74.8L503.2 68.5L497 62.2L490.8 56.1L484.7 50.1L478.6 44.2L472.6 38.3M438.4 107.3L446 105.8L453.4 104.3L460.7 102.7L467.9 101.2L475.1 99.6L482.1 97.9L489 96.3L495.8 94.6L502.6 92.9L509.3 91.2L515.8 89.4L522.3 87.6L528.7 85.8L535.1 84L541.3 82.1L547.5 80.3L553.6 78.3L559.6 76.4L565.6 74.5L571.5 72.5M610.3 170.5L603.1 162.9L596.1 155.4L589.1 148L582.1 140.7L575.2 133.5L568.4 126.4L561.6 119.4L554.9 112.5L548.3 105.7L541.7 99L535.2 92.3L528.7 85.8L522.3 79.4L516 73.1L509.7 66.8L503.4 60.7L497.3 54.6L491.1 48.7L485.1 42.8L479 37M431.9 99.9L439.4 98.5L446.9 97.1L454.2 95.6L461.4 94.1L468.6 92.6L475.6 91.1L482.5 89.5L489.4 87.9L496.1 86.2L502.8 84.6L509.4 82.9L515.9 81.1L522.3 79.4L528.7 77.6L534.9 75.8L541.1 74L547.2 72.2L553.3 70.3L559.3 68.4L565.2 66.5M616.4 167.9L609.3 160.3L602.3 152.9L595.3 145.5L588.3 138.3L581.5 131.2L574.7 124.1L567.9 117.2L561.2 110.4L554.6 103.6L548 97L541.5 90.4L535.1 84L528.7 77.6L522.3 71.4L516 65.2L509.8 59.1L503.6 53.1L497.5 47.2L491.5 41.4L485.5 35.6M425.4 92.7L432.9 91.4L440.4 90L447.7 88.6L455 87.2L462.1 85.8L469.2 84.3L476.1 82.8L483 81.2L489.7 79.6L496.4 78L503 76.4L509.5 74.8L516 73.1L522.3 71.4L528.6 69.6L534.8 67.9L540.9 66.1L547 64.3L553 62.4L558.9 60.6M622.5 165.2L615.4 157.7L608.4 150.3L601.4 143.1L594.5 135.9L587.6 128.8L580.8 121.9L574.1 115L567.4 108.2L560.8 101.6L554.3 95L547.8 88.5L541.3 82.1L534.9 75.8L528.6 69.6L522.3 63.5L516.1 57.5L510 51.5L503.8 45.7L497.8 39.9L491.8 34.3M419 85.6L426.5 84.4L434 83.1L441.3 81.7L448.6 80.4L455.7 79L462.8 77.6L469.8 76.1L476.6 74.7L483.4 73.1L490.1 71.6L496.7 70L503.2 68.5L509.7 66.8L516 65.2L522.3 63.5L528.5 61.8L534.7 60.1L540.7 58.3L546.7 56.6L552.7 54.8M628.5 162.5L621.4 155.1L614.4 147.8L607.4 140.6L600.5 133.5L593.7 126.5L586.9 119.6L580.2 112.8L573.6 106.1L567 99.5L560.4 93L553.9 86.6L547.5 80.3L541.1 74L534.8 67.9L528.5 61.8L522.3 55.8L516.2 50L510.1 44.2L504 38.5L498 32.8M412.6 78.6L420.2 77.4L427.6 76.2L435 75L442.3 73.7L449.4 72.3L456.5 71L463.5 69.6L470.3 68.2L477.1 66.8L483.8 65.3L490.5 63.8L497 62.2L503.4 60.7L509.8 59.1L516.1 57.5L522.3 55.8L528.5 54.2L534.6 52.5L540.6 50.8L546.5 49M634.4 159.7L627.4 152.4L620.4 145.2L613.4 138.1L606.5 131.1L599.7 124.1L593 117.3L586.3 110.6L579.6 104L573 97.4L566.5 91L560 84.6L553.6 78.3L547.2 72.2L540.9 66.1L534.7 60.1L528.5 54.2L522.3 48.4L516.3 42.6L510.2 37L504.2 31.4M406.3 71.7L413.9 70.6L421.4 69.5L428.7 68.3L436 67L443.2 65.8L450.2 64.5L457.2 63.2L464.1 61.8L470.9 60.5L477.6 59L484.3 57.6L490.8 56.1L497.3 54.6L503.6 53.1L510 51.5L516.2 50L522.3 48.4L528.4 46.7L534.4 45.1L540.4 43.4M640.3 157L633.2 149.8L626.2 142.6L619.3 135.6L612.5 128.6L605.7 121.8L598.9 115L592.2 108.3L585.6 101.8L579 95.3L572.5 88.9L566 82.6L559.6 76.4L553.3 70.3L547 64.3L540.7 58.3L534.6 52.5L528.4 46.7L522.3 41L516.3 35.4L510.3 29.9M400.1 64.9L407.7 63.9L415.1 62.8L422.5 61.7L429.8 60.5L437 59.3L444.1 58.1L451 56.9L457.9 55.6L464.7 54.2L471.5 52.9L478.1 51.5L484.7 50.1L491.1 48.7L497.5 47.2L503.8 45.7L510.1 44.2L516.3 42.6L522.3 41L528.4 39.4L534.3 37.8M646.1 154.3L639 147.1L632.1 140L625.2 133L618.3 126.1L611.5 119.4L604.8 112.7L598.1 106.1L591.5 99.6L584.9 93.2L578.4 86.8L572 80.6L565.6 74.5L559.3 68.4L553 62.4L546.7 56.6L540.6 50.8L534.4 45.1L528.4 39.4L522.3 33.9L516.4 28.4M393.9 58.2L401.5 57.3L409 56.2L416.4 55.2L423.6 54.1L430.8 53L437.9 51.8L444.9 50.6L451.8 49.4L458.6 48.1L465.4 46.8L472 45.5L478.6 44.2L485.1 42.8L491.5 41.4L497.8 39.9L504 38.5L510.2 37L516.3 35.4L522.3 33.9L528.3 32.3M651.8 151.5L644.8 144.4L637.8 137.4L630.9 130.5L624.1 123.7L617.3 116.9L610.6 110.3L603.9 103.8L597.3 97.4L590.8 91L584.3 84.7L577.9 78.6L571.5 72.5L565.2 66.5L558.9 60.6L552.7 54.8L546.5 49L540.4 43.4L534.3 37.8L528.3 32.3L522.4 26.9M387.8 51.7L395.4 50.7L402.9 49.8L410.3 48.8L417.6 47.8L424.7 46.7L431.8 45.6L438.8 44.5L445.8 43.3L452.6 42.1L459.3 40.9L466 39.6L472.6 38.3L479 37L485.5 35.6L491.8 34.3L498 32.8L504.2 31.4L510.3 29.9L516.4 28.4L522.4 26.9" stroke="#000" stroke-opacity="0.9" stroke-width="0.8" fill="none" stroke-linejoin="round"/><circle cx="506" cy="88.8" r="2.5" fill="#c00000" stroke="#300" stroke-width="0.5"/><circle cx="530" cy="103.3" r="2.5" fill="#c00000" stroke="#300" stroke-width="0.5"/><text x="389" y="176.1" class="tk3" text-anchor="end">0</text><text x="387.8" y="150.7" class="tk3" text-anchor="end">0.1</text><text x="386.5" y="124.7" class="tk3" text-anchor="end">0.2</text><text x="385.3" y="98.3" class="tk3" text-anchor="end">0.3</text><text x="384" y="71.4" class="tk3" text-anchor="end">0.4</text><text x="382.7" y="44" class="tk3" text-anchor="end">0.5</text><text x="516.7" y="289.9" class="tk3" text-anchor="end">-4</text><text x="485" y="274.7" class="tk3" text-anchor="end">-2</text><text x="453.4" y="259.5" class="tk3" text-anchor="end">0</text><text x="421.8" y="244.3" class="tk3" text-anchor="end">2</text><text x="390.2" y="229.1" class="tk3" text-anchor="end">4</text><text x="527.8" y="289.9" class="tk3" text-anchor="start">-8</text><text x="559.3" y="274.8" class="tk3" text-anchor="start">-4</text><text x="590.9" y="259.6" class="tk3" text-anchor="start">0</text><text x="622.4" y="244.5" class="tk3" text-anchor="start">4</text><text x="654" y="229.4" class="tk3" text-anchor="start">8</text><circle cx="393.8" cy="178.1" r="1.3" fill="#000"/><circle cx="392.6" cy="152.7" r="1.3" fill="#000"/><circle cx="391.3" cy="126.7" r="1.3" fill="#000"/><circle cx="390.1" cy="100.3" r="1.3" fill="#000"/><circle cx="388.8" cy="73.4" r="1.3" fill="#000"/><circle cx="387.5" cy="46" r="1.3" fill="#000"/><circle cx="522.3" cy="281.1" r="1.3" fill="#000"/><circle cx="490.6" cy="265.9" r="1.3" fill="#000"/><circle cx="459" cy="250.7" r="1.3" fill="#000"/><circle cx="427.4" cy="235.5" r="1.3" fill="#000"/><circle cx="395.8" cy="220.3" r="1.3" fill="#000"/><circle cx="522.3" cy="281.1" r="1.3" fill="#000"/><circle cx="553.8" cy="266" r="1.3" fill="#000"/><circle cx="585.4" cy="250.8" r="1.3" fill="#000"/><circle cx="616.9" cy="235.7" r="1.3" fill="#000"/><circle cx="648.5" cy="220.6" r="1.3" fill="#000"/><text transform="translate(352.2 136.3) rotate(-90)" class="ax3" text-anchor="middle">Skin Friction</text><text x="409.6" y="279.5" class="ax3" text-anchor="middle">B: Sisk-fluid parameter</text><text x="633.9" y="279.5" class="ax3" text-anchor="middle">A: Magnetic Field</text><text x="521.9" y="326.1" class="cap" text-anchor="middle">(b)</text><path d="M395.9 529.4L524.4 486.1L652.6 529.9M394.7 504L524.4 463.2L653.8 504.5M393.4 478L524.4 439.9L655 478.7M392.2 451.6L524.4 416.2L656.3 452.3M390.9 424.7L524.5 392L657.5 425.5M389.6 397.3L524.5 367.5L658.8 398.1M428 518.6L423.3 389.8M460.2 507.8L457 382.4M492.3 496.9L490.7 374.9M620.6 518.9L625.2 390.5M588.5 508L591.6 382.8M556.5 497.1L558 375.2" stroke="#2a2a2a" stroke-width="0.65" fill="none"/><path d="M397.9 571.6L389.6 397.3M524.4 524.2L524.5 367.5M650.6 571.9L658.8 398.1" stroke="#222" stroke-width="0.7" fill="none"/><polygon points="397.9,571.6 524.4,524.2 650.6,571.9 524.4,632.4" fill="#666" stroke="#111" stroke-width="0.8"/><polyline fill="none" stroke="#001dff" stroke-width="1.2" points="504.9,623 533.9,607.3 564.6,592.3 596.9,578.1 631.1,564.5"/><polyline fill="none" stroke="#00ffe7" stroke-width="1.2" points="483.1,612.6 511.7,597.1 541.9,582.6 573.8,568.8 607.6,555.7"/><polyline fill="none" stroke="#13ff00" stroke-width="1.2" points="460.6,601.7 488.6,586.6 518.3,572.5 549.8,559.1 583.2,546.4"/><polyline fill="none" stroke="#fff100" stroke-width="1.2" points="437.3,590.5 451.7,582.5 464.7,575.7 493.8,561.9 524.8,549 557.8,536.8"/><polyline fill="none" stroke="#ff2900" stroke-width="1.2" points="417.9,581.2 430.3,574.3 444.8,566.7 458,560.3 473.5,553.2 504,540.6 536.5,528.8"/><path fill="#0000ff" stroke="#0000ff" stroke-width="0.3" d="M524.4 555.5 540.8 549.9 558.4 543.5 575.4 537.1 591.8 530.4 607.7 523.7 623.1 516.9 638 509.9 653.9 502.1 621.1 469.5 588 437.6 556.3 408.2 524.5 380 507.9 384.2 492.3 387.8 476.3 391.2 459.8 394.4 442.7 397.4 425.1 400.1 406.9 402.6 390 404.6 422.7 439.5 455.5 475.7 490 515.1 524.4 555.5Z"/><path fill="#000bff" d="M502.5 529.6 504.2 531.6 535.7 517.8 552.1 511.2 568.4 504.9 584.6 499 600.7 493.5 616.9 488.3 634.7 482.9 606 454.8 578.4 428.5 551.7 404.1 524.5 380 507.9 384.2 492.3 387.8 476.3 391.2 459.8 394.4 442.7 397.4 425.1 400.1 406.9 402.6 390 404.6 417.9 434.3 445.5 464.5 474.3 497 502.5 529.6Z"/><path fill="#0015ff" d="M502.5 529.6 503.1 530.4 519.8 523 538 515.3 555.9 508.1 573.8 501.4 602.9 491.3 633.7 481.8 606 454.8 578.4 428.5 551.7 404.1 524.5 380 507.9 384.2 492.3 387.8 476.3 391.2 459.8 394.4 442.7 397.4 425.1 400.1 406.9 402.6 390 404.6 417.9 434.3 445.5 464.5 474.3 497 502.5 529.6Z"/><path fill="#0020ff" d="M500.7 527.5 502.1 529.2 533.6 515.5 550 508.9 566.3 502.7 582.5 496.8 598.6 491.3 614.8 486.1 632.6 480.8 606 454.8 578.4 428.5 551.7 404.1 524.5 380 507.9 384.2 492.3 387.8 476.3 391.2 459.8 394.4 442.7 397.4 425.1 400.1 406.9 402.6 390 404.6 416.3 432.6 443.8 462.7 472.5 495 500.7 527.5Z"/><path fill="#002aff" d="M500.7 527.5 501.1 528 517.8 520.6 535.9 513 552.2 506.5 570.1 499.8 600.8 489.2 631.5 479.7 604.4 453.2 576.8 427.1 550.1 402.7 524.5 380 507.9 384.2 492.3 387.8 476.3 391.2 459.8 394.4 442.7 397.4 425.1 400.1 406.9 402.6 390 404.6 416.3 432.6 443.8 462.7 472.5 495 500.7 527.5Z"/><path fill="#0035ff" d="M498.9 525.4 500 526.8 518.4 518.7 538.1 510.5 556.1 503.5 575.5 496.3 603 487 630.5 478.7 602.7 451.6 576.8 427.1 550.1 402.7 524.5 380 507.9 384.2 492.3 387.8 476.3 391.2 459.8 394.4 442.7 397.4 425.1 400.1 406.9 402.6 390 404.6 416.3 432.6 443.8 462.7 470.8 493 498.9 525.4Z"/><path fill="#0040ff" d="M498.9 525.4 499 525.6 515.7 518.2 533.8 510.6 564.7 498.7 580.9 492.9 597.1 487.5 613.2 482.4 629.4 477.6 602.7 451.6 576.8 427.1 550.1 402.7 524.5 380 507.9 384.2 492.3 387.8 476.3 391.2 459.8 394.4 442.7 397.4 425.1 400.1 406.9 402.6 390 404.6 416.3 432.6 443.8 462.7 470.8 493 498.9 525.4Z"/><path fill="#004aff" d="M497.1 523.3 498 524.3 516.3 516.3 534.4 508.8 552.3 501.8 570.2 495.2 599.2 485.4 628.4 476.6 601.1 450 575.2 425.6 550.1 402.7 524.5 380 507.9 384.2 492.3 387.8 476.3 391.2 459.8 394.4 442.7 397.4 425.1 400.1 406.9 402.6 390 404.6 416.3 432.6 442.2 460.8 469.1 491.1 497.1 523.3Z"/><path fill="#0055ff" d="M495.3 521.3 496.9 523.1 528.4 509.7 544.8 503.2 561 497 577.2 491.3 593.3 485.9 609.5 480.8 627.3 475.5 601.1 450 575.2 425.6 550.1 402.7 524.5 380 507.9 384.2 492.3 387.8 476.3 391.2 459.8 394.4 442.7 397.4 425.1 400.1 406.9 402.6 390 404.6 416.3 432.6 442.2 460.8 469.1 491.1 495.3 521.3Z"/><path fill="#0060ff" d="M495.3 521.3 495.9 521.9 512.6 514.7 530.7 507.2 548.6 500.2 566.4 493.6 595.5 483.7 626.2 474.5 601.1 450 575.2 425.6 550.1 402.7 524.5 380 507.9 384.2 492.3 387.8 476.3 391.2 459.8 394.4 442.7 397.4 425.1 400.1 406.9 402.6 390 404.6 416.3 432.6 442.2 460.8 469.1 491.1 495.3 521.3Z"/><path fill="#006aff" d="M493.5 519.2 494.9 520.7 526.4 507.3 542.7 500.9 558.9 494.8 575.1 489.1 591.2 483.7 607.4 478.6 625.2 473.4 599.4 448.5 573.6 424.1 548.6 401.3 524.5 380 507.9 384.2 492.3 387.8 476.3 391.2 459.8 394.4 442.7 397.4 425.1 400.1 406.9 402.6 390 404.6 414.7 430.9 440.5 459 467.4 489.1 493.5 519.2Z"/><path fill="#0075ff" d="M493.5 519.2 493.8 519.5 513.8 510.9 533.5 502.9 561.1 492.5 591.8 482.1 624.1 472.4 599.4 448.5 573.6 424.1 548.6 401.3 524.5 380 507.9 384.2 492.3 387.8 476.3 391.2 459.8 394.4 442.7 397.4 425.1 400.1 406.9 402.6 390 404.6 414.7 430.9 440.5 459 467.4 489.1 493.5 519.2Z"/><path fill="#0080ff" d="M491.8 517.1 492.8 518.3 511.1 510.4 529.2 503.1 547.1 496.1 566.5 489.1 593.9 480 623 471.3 597.8 446.9 573.6 424.1 548.6 401.3 524.5 380 507.9 384.2 492.3 387.8 476.3 391.2 459.8 394.4 442.7 397.4 425.1 400.1 406.9 402.6 390 404.6 414.7 430.9 440.5 459 465.7 487.2 491.8 517.1Z"/><path fill="#008aff" d="M490 515.1 491.8 517.1 523.2 503.9 539.6 497.5 555.8 491.5 571.9 485.8 588 480.5 604.2 475.4 622 470.3 596.2 445.3 572 422.6 548.6 401.3 524.5 380 507.9 384.2 492.3 387.8 476.3 391.2 459.8 394.4 442.7 397.4 425.1 400.1 406.9 402.6 390 404.6 414.7 430.9 438.9 457.2 464 485.3 490 515.1Z"/><path fill="#0095ff" d="M490 515.1 490.7 515.9 509 508.1 527.1 500.8 545 493.9 562.8 487.5 591.8 477.8 620.9 469.2 596.2 445.3 572 422.6 548.6 401.3 524.5 380 507.9 384.2 492.3 387.8 476.3 391.2 459.8 394.4 442.7 397.4 425.1 400.1 406.9 402.6 390 404.6 414.7 430.9 438.9 457.2 464 485.3 490 515.1Z"/><path fill="#009fff" d="M488.2 513 489.7 514.7 521.2 501.5 537.5 495.2 553.7 489.2 569.8 483.6 585.9 478.3 602 473.3 619.8 468.2 596.2 445.3 572 422.6 548.6 401.3 524.5 380 507.9 384.2 492.3 387.8 476.3 391.2 459.8 394.4 442.7 397.4 425.1 400.1 406.9 402.6 390 404.6 414.7 430.9 438.9 457.2 464 485.3 488.2 513Z"/><path fill="#00aaff" d="M488.2 513 488.7 513.5 505.3 506.4 523.4 499.1 539.7 492.8 557.5 486.4 588.1 476.2 618.8 467.1 594.5 443.8 570.4 421.2 547.1 399.9 524.5 380 507.9 384.2 492.3 387.8 476.3 391.2 459.8 394.4 442.7 397.4 425.1 400.1 406.9 402.6 390 404.6 414.7 430.9 438.9 457.2 464 485.3 488.2 513Z"/><path fill="#00b5ff" d="M486.5 511 487.6 512.3 505.9 504.6 525.6 496.7 543.5 489.9 562.9 483 590.3 474.1 617.7 466.1 594.5 443.8 570.4 421.2 547.1 399.9 524.5 380 507.9 384.2 492.3 387.8 476.3 391.2 459.8 394.4 442.7 397.4 425.1 400.1 406.9 402.6 390 404.6 413.2 429.2 437.3 455.4 462.3 483.3 486.5 511Z"/><path fill="#00bfff" d="M486.5 511 486.6 511.1 503.2 504.1 521.3 496.8 552.1 485.3 568.3 479.8 584.4 474.6 616.6 465.1 592.9 442.2 570.4 421.2 547.1 399.9 524.5 380 507.9 384.2 492.3 387.8 476.3 391.2 459.8 394.4 442.7 397.4 425.1 400.1 406.9 402.6 390 404.6 413.2 429.2 437.3 455.4 462.3 483.3 486.5 511Z"/><path fill="#00caff" d="M484.7 509 485.6 509.9 503.8 502.2 521.9 495 539.8 488.3 557.5 482 586.5 472.5 615.5 464 591.3 440.7 568.8 419.7 547.1 399.9 524.5 380 507.9 384.2 492.3 387.8 476.3 391.2 459.8 394.4 442.7 397.4 425.1 400.1 406.9 402.6 390 404.6 413.2 429.2 437.3 455.4 460.6 481.4 484.7 509Z"/><path fill="#00d4ff" d="M483 506.9 484.5 508.7 515.9 495.8 532.2 489.5 548.4 483.7 580.6 472.9 598.3 467.6 614.5 463 591.3 440.7 568.8 419.7 547.1 399.9 524.5 380 507.9 384.2 492.3 387.8 476.3 391.2 459.8 394.4 442.7 397.4 425.1 400.1 406.9 402.6 390 404.6 413.2 429.2 435.6 453.6 458.9 479.5 483 506.9Z"/><path fill="#00dfff" d="M483 506.9 483.5 507.6 500.1 500.6 518.2 493.4 536.1 486.6 553.8 480.3 582.8 470.8 613.4 461.9 591.3 440.7 568.8 419.7 547.1 399.9 524.5 380 507.9 384.2 492.3 387.8 476.3 391.2 459.8 394.4 442.7 397.4 425.1 400.1 406.9 402.6 390 404.6 413.2 429.2 435.6 453.6 458.9 479.5 483 506.9Z"/><path fill="#00eaff" d="M481.2 504.9 482.5 506.4 513.9 493.5 530.1 487.3 546.3 481.4 578.5 470.8 594.6 465.9 612.3 460.9 589.6 439.1 567.2 418.3 545.5 398.5 524.5 380 507.9 384.2 492.3 387.8 476.3 391.2 459.8 394.4 442.7 397.4 425.1 400.1 406.9 402.6 390 404.6 411.6 427.5 434 451.8 457.2 477.6 481.2 504.9Z"/><path fill="#00f4ff" d="M481.2 504.9 481.4 505.2 501.3 496.9 519.4 489.8 548.5 479.2 579.1 469.2 611.3 459.9 589.6 439.1 567.2 418.3 545.5 398.5 524.5 380 507.9 384.2 492.3 387.8 476.3 391.2 459.8 394.4 442.7 397.4 425.1 400.1 406.9 402.6 390 404.6 411.6 427.5 434 451.8 457.2 477.6 481.2 504.9Z"/><path fill="#00ffff" d="M479.5 502.9 480.4 504 498.7 496.4 516.7 489.3 534.5 482.7 553.9 475.9 581.2 467.2 610.2 458.8 588 437.6 567.2 418.3 545.5 398.5 524.5 380 507.9 384.2 492.3 387.8 476.3 391.2 459.8 394.4 442.7 397.4 425.1 400.1 406.9 402.6 390 404.6 411.6 427.5 434 451.8 457.2 477.6 479.5 502.9Z"/><path fill="#00fff4" d="M477.7 500.9 479.4 502.8 510.7 490.1 527 483.9 543.2 478.1 575.3 467.6 591.4 462.8 609.1 457.8 588 437.6 565.7 416.8 545.5 398.5 524.5 380 507.9 384.2 492.3 387.8 476.3 391.2 459.8 394.4 442.7 397.4 425.1 400.1 406.9 402.6 390 404.6 411.6 427.5 432.4 450 455.5 475.7 477.7 500.9Z"/><path fill="#00ffea" d="M477.7 500.9 478.3 501.6 494.9 494.7 513 487.7 530.8 481 548.6 474.8 577.5 465.5 608.1 456.8 586.4 436.1 565.7 416.8 545.5 398.5 524.5 380 507.9 384.2 492.3 387.8 476.3 391.2 459.8 394.4 442.7 397.4 425.1 400.1 406.9 402.6 390 404.6 411.6 427.5 432.4 450 455.5 475.7 477.7 500.9Z"/><path fill="#00ffdf" d="M476 498.9 477.3 500.4 508.7 487.8 524.9 481.7 541.1 475.9 573.2 465.4 589.3 460.7 607 455.7 586.4 436.1 565.7 416.8 545.5 398.5 524.5 380 507.9 384.2 492.3 387.8 476.3 391.2 459.8 394.4 442.7 397.4 425.1 400.1 406.9 402.6 390 404.6 411.6 427.5 432.4 450 453.8 473.8 476 498.9Z"/><path fill="#00ffd4" d="M476 498.9 476.3 499.2 496.1 491.1 514.1 484.2 543.2 473.7 573.8 463.9 605.9 454.7 584.8 434.6 564.1 415.4 544 397.2 524.5 380 507.9 384.2 492.3 387.8 476.3 391.2 459.8 394.4 442.7 397.4 425.1 400.1 406.9 402.6 390 404.6 411.6 427.5 432.4 450 453.8 473.8 476 498.9Z"/><path fill="#00ffca" d="M474.3 497 475.2 498.1 493.5 490.6 511.5 483.6 529.3 477.1 548.6 470.5 575.9 461.8 604.8 453.7 584.8 434.6 564.1 415.4 544 397.2 524.5 380 507.9 384.2 492.3 387.8 476.3 391.2 459.8 394.4 442.7 397.4 425.1 400.1 406.9 402.6 390 404.6 410 425.8 430.8 448.2 452.2 471.9 474.3 497Z"/><path fill="#00ffbf" d="M472.5 495 474.2 496.9 505.5 484.3 537.9 472.6 570 462.2 586.1 457.5 603.8 452.6 583.2 433.1 564.1 415.4 544 397.2 524.5 380 507.9 384.2 492.3 387.8 476.3 391.2 459.8 394.4 442.7 397.4 425.1 400.1 406.9 402.6 390 404.6 410 425.8 430.8 448.2 452.2 471.9 472.5 495Z"/><path fill="#00ffb5" d="M472.5 495 473.2 495.7 489.7 488.9 507.8 482 525.6 475.5 543.3 469.4 572.2 460.2 602.7 451.6 583.2 433.1 562.5 413.9 544 397.2 524.5 380 507.9 384.2 492.3 387.8 476.3 391.2 459.8 394.4 442.7 397.4 425.1 400.1 406.9 402.6 390 404.6 410 425.8 430.8 448.2 452.2 471.9 472.5 495Z"/><path fill="#00ffaa" d="M470.8 493 472.1 494.5 505.1 481.5 537.4 469.9 569.5 459.6 601.6 450.6 581.6 431.5 562.5 413.9 544 397.2 524.5 380 507.9 384.2 492.3 387.8 476.3 391.2 459.8 394.4 442.7 397.4 425.1 400.1 406.9 402.6 390 404.6 410 425.8 429.1 446.5 450.5 470.1 470.8 493Z"/><path fill="#00ff9f" d="M470.8 493 471.1 493.3 491 485.3 510.5 477.9 538 468.2 568.5 458.6 600.6 449.5 562.5 413.9 544 397.2 524.5 380 507.9 384.2 492.3 387.8 476.3 391.2 459.8 394.4 442.7 397.4 425.1 400.1 406.9 402.6 390 404.6 410 425.8 429.1 446.5 450.5 470.1 470.8 493Z"/><path fill="#00ff95" d="M469.1 491.1 470.1 492.2 488.3 484.8 506.2 478 524.1 471.6 543.4 465 570.6 456.6 599.5 448.5 580 430 561 412.5 542.5 395.8 524.5 380 507.9 384.2 492.3 387.8 476.3 391.2 459.8 394.4 442.7 397.4 425.1 400.1 406.9 402.6 390 404.6 410 425.8 429.1 446.5 469.1 491.1Z"/><path fill="#00ff8a" d="M467.4 489.1 469 491 502 478.1 534.3 466.6 566.3 456.5 598.4 447.5 561 412.5 542.5 395.8 524.5 380 507.9 384.2 492.3 387.8 476.3 391.2 459.8 394.4 442.7 397.4 425.1 400.1 406.9 402.6 390 404.6 427.5 444.7 467.4 489.1Z"/><path fill="#00ff80" d="M467.4 489.1 468 489.8 484.6 483.2 502.5 476.3 520.3 469.9 538 463.9 566.9 454.9 597.3 446.5 561 412.5 542.5 395.8 524.5 380 507.9 384.2 492.3 387.8 476.3 391.2 459.8 394.4 442.7 397.4 425.1 400.1 406.9 402.6 390 404.6 427.5 444.7 467.4 489.1Z"/><path fill="#00ff75" d="M465.7 487.2 467 488.6 499.9 475.8 532.2 464.4 564.2 454.3 596.3 445.4 559.4 411.1 524.5 380 507.9 384.2 492.3 387.8 476.3 391.2 459.8 394.4 442.7 397.4 425.1 400.1 406.9 402.6 390 404.6 427.5 444.7 465.7 487.2Z"/><path fill="#00ff6a" d="M465.7 487.2 465.9 487.5 485.8 479.6 503.7 472.9 532.7 462.8 563.1 453.3 595.2 444.4 559.4 411.1 524.5 380 507.9 384.2 492.3 387.8 476.3 391.2 459.8 394.4 442.7 397.4 425.1 400.1 406.9 402.6 390 404.6 427.5 444.7 465.7 487.2Z"/><path fill="#00ff60" d="M464 485.3 464.9 486.3 483.1 479.1 501 472.4 518.8 466 538.1 459.6 565.3 451.3 594.1 443.4 559.4 411.1 524.5 380 507.9 384.2 492.3 387.8 476.3 391.2 459.8 394.4 442.7 397.4 425.1 400.1 406.9 402.6 390 404.6 425.9 443 464 485.3Z"/><path fill="#00ff55" d="M462.3 483.3 463.9 485.1 496.7 472.4 529 461.2 561 451.2 593 442.4 557.9 409.7 524.5 380 507.9 384.2 492.3 387.8 476.3 391.2 459.8 394.4 442.7 397.4 425.1 400.1 406.9 402.6 390 404.6 425.9 443 462.3 483.3Z"/><path fill="#00ff4a" d="M462.3 483.3 462.8 484 479.4 477.4 497.3 470.7 515.1 464.4 532.8 458.5 561.5 449.7 592 441.4 557.9 409.7 524.5 380 507.9 384.2 492.3 387.8 476.3 391.2 459.8 394.4 442.7 397.4 425.1 400.1 406.9 402.6 390 404.6 425.9 443 462.3 483.3Z"/><path fill="#00ff40" d="M460.6 481.4 461.8 482.8 494.7 470.2 526.9 459 558.9 449.1 590.9 440.3 557.9 409.7 524.5 380 507.9 384.2 492.3 387.8 476.3 391.2 459.8 394.4 442.7 397.4 425.1 400.1 406.9 402.6 390 404.6 424.3 441.2 460.6 481.4Z"/><path fill="#00ff35" d="M460.6 481.4 460.8 481.6 480.6 473.9 498.5 467.3 527.4 457.4 557.8 448 589.8 439.3 556.3 408.2 524.5 380 507.9 384.2 492.3 387.8 476.3 391.2 459.8 394.4 442.7 397.4 425.1 400.1 406.9 402.6 390 404.6 424.3 441.2 460.6 481.4Z"/><path fill="#00ff2b" d="M458.9 479.5 459.7 480.5 477.9 473.4 495.8 466.8 513.6 460.6 532.8 454.3 559.9 446.1 588.7 438.3 556.3 408.2 524.5 380 507.9 384.2 492.3 387.8 476.3 391.2 459.8 394.4 442.7 397.4 425.1 400.1 406.9 402.6 390 404.6 424.3 441.2 458.9 479.5Z"/><path fill="#00ff20" d="M457.2 477.6 458.7 479.3 491.5 466.8 523.7 455.7 555.7 445.9 587.7 437.3 556.3 408.2 524.5 380 507.9 384.2 492.3 387.8 476.3 391.2 459.8 394.4 442.7 397.4 425.1 400.1 406.9 402.6 390 404.6 422.7 439.5 457.2 477.6Z"/><path fill="#00ff15" d="M457.2 477.6 457.7 478.1 474.2 471.7 492.1 465.1 508.2 459.5 525.9 453.6 556.2 444.4 586.6 436.3 554.8 406.8 524.5 380 507.9 384.2 492.3 387.8 476.3 391.2 459.8 394.4 442.7 397.4 425.1 400.1 406.9 402.6 390 404.6 422.7 439.5 457.2 477.6Z"/><path fill="#00ff0b" d="M455.5 475.7 456.7 477 489.4 464.6 521.6 453.6 553.6 443.9 585.5 435.3 554.8 406.8 524.5 380 507.9 384.2 492.3 387.8 476.3 391.2 459.8 394.4 442.7 397.4 425.1 400.1 406.9 402.6 390 404.6 422.7 439.5 455.5 475.7Z"/><path fill="#00ff00" d="M455.5 475.7 490 462.9 520.6 452.5 552.5 442.8 584.4 434.2 554.8 406.8 524.5 380 507.9 384.2 492.3 387.8 476.3 391.2 459.8 394.4 442.7 397.4 425.1 400.1 406.9 402.6 390 404.6 422.7 439.5 455.5 475.7Z"/><path fill="#0bff00" d="M453.8 473.8 454.6 474.7 472.7 467.7 490.6 461.2 508.3 455.1 525.9 449.4 554.6 440.9 583.4 433.2 553.2 405.4 524.5 380 507.9 384.2 492.3 387.8 476.3 391.2 459.8 394.4 442.7 397.4 425.1 400.1 406.9 402.6 390 404.6 421.1 437.7 453.8 473.8Z"/><path fill="#15ff00" d="M452.2 471.9 453.6 473.5 486.3 461.2 518.5 450.3 550.4 440.7 582.3 432.2 553.2 405.4 524.5 380 507.9 384.2 492.3 387.8 476.3 391.2 459.8 394.4 442.7 397.4 425.1 400.1 406.9 402.6 390 404.6 421.1 437.7 452.2 471.9Z"/><path fill="#20ff00" d="M452.2 471.9 452.5 472.4 470.6 465.4 486.9 459.5 503 454 520.6 448.3 550.9 439.2 581.2 431.2 553.2 405.4 524.5 380 507.9 384.2 492.3 387.8 476.3 391.2 459.8 394.4 442.7 397.4 425.1 400.1 406.9 402.6 390 404.6 421.1 437.7 452.2 471.9Z"/><path fill="#2aff00" d="M450.5 470.1 451.5 471.2 469.6 464.3 489.1 457.3 506.8 451.3 525.9 445.2 553 437.3 580.1 430.2 551.7 404.1 524.5 380 507.9 384.2 492.3 387.8 476.3 391.2 459.8 394.4 442.7 397.4 425.1 400.1 406.9 402.6 390 404.6 419.5 436 450.5 470.1Z"/><path fill="#35ff00" d="M448.8 468.2 450.5 470 483.2 457.9 515.3 447.1 547.2 437.6 579 429.2 551.7 404.1 524.5 380 507.9 384.2 492.3 387.8 476.3 391.2 459.8 394.4 442.7 397.4 425.1 400.1 406.9 402.6 390 404.6 419.5 436 448.8 468.2Z"/><path fill="#40ff00" d="M448.8 468.2 449.4 468.9 465.9 462.7 483.8 456.2 501.5 450.2 519 444.6 547.7 436.1 578 428.2 551.7 404.1 524.5 380 507.9 384.2 492.3 387.8 476.3 391.2 459.8 394.4 442.7 397.4 425.1 400.1 406.9 402.6 390 404.6 419.5 436 448.8 468.2Z"/><path fill="#4aff00" d="M447.2 466.4 448.4 467.7 481.1 455.7 513.2 445 545 435.5 576.9 427.2 550.1 402.7 524.5 380 507.9 384.2 492.3 387.8 476.3 391.2 459.8 394.4 442.7 397.4 425.1 400.1 406.9 402.6 390 404.6 417.9 434.3 447.2 466.4Z"/><path fill="#55ff00" d="M447.2 466.4 447.4 466.6 465.4 459.8 484.9 452.9 513.7 443.4 543.9 434.5 575.8 426.2 550.1 402.7 524.5 380 507.9 384.2 492.3 387.8 476.3 391.2 459.8 394.4 442.7 397.4 425.1 400.1 406.9 402.6 390 404.6 417.9 434.3 447.2 466.4Z"/><path fill="#60ff00" d="M445.5 464.5 446.3 465.4 464.4 458.7 482.2 452.3 499.9 446.4 519 440.4 546.1 432.6 574.7 425.2 550.1 402.7 524.5 380 507.9 384.2 492.3 387.8 476.3 391.2 459.8 394.4 442.7 397.4 425.1 400.1 406.9 402.6 390 404.6 417.9 434.3 445.5 464.5Z"/><path fill="#6aff00" d="M443.8 462.7 445.3 464.3 478 452.4 510 441.8 541.8 432.4 573.6 424.2 548.6 401.3 524.5 380 507.9 384.2 492.3 387.8 476.3 391.2 459.8 394.4 442.7 397.4 425.1 400.1 406.9 402.6 390 404.6 416.3 432.6 443.8 462.7Z"/><path fill="#75ff00" d="M443.8 462.7 444.3 463.1 478.5 450.7 512.1 439.7 542.3 431 572.6 423.2 548.6 401.3 524.5 380 507.9 384.2 492.3 387.8 476.3 391.2 459.8 394.4 442.7 397.4 425.1 400.1 406.9 402.6 390 404.6 416.3 432.6 443.8 462.7Z"/><path fill="#80ff00" d="M442.2 460.8 443.2 462 461.3 455.3 480.7 448.5 498.3 442.7 517.5 436.7 544.4 429.1 571.5 422.2 547.1 399.9 524.5 380 507.9 384.2 492.3 387.8 476.3 391.2 459.8 394.4 442.7 397.4 425.1 400.1 406.9 402.6 390 404.6 416.3 432.6 442.2 460.8Z"/><path fill="#8aff00" d="M442.2 460.8 474.8 449 506.9 438.6 538.6 429.3 570.4 421.2 547.1 399.9 524.5 380 507.9 384.2 492.3 387.8 476.3 391.2 459.8 394.4 442.7 397.4 425.1 400.1 406.9 402.6 390 404.6 416.3 432.6 442.2 460.8Z"/><path fill="#95ff00" d="M440.5 459 441.2 459.7 475.4 447.4 493 441.5 510.6 436.1 539.1 427.9 569.3 420.1 547.1 399.9 524.5 380 507.9 384.2 492.3 387.8 476.3 391.2 459.8 394.4 442.7 397.4 425.1 400.1 406.9 402.6 390 404.6 414.7 430.9 440.5 459Z"/><path fill="#9fff00" d="M438.9 457.2 440.1 458.6 472.7 446.8 504.7 436.5 536.5 427.3 568.2 419.2 545.5 398.5 524.5 380 507.9 384.2 492.3 387.8 476.3 391.2 459.8 394.4 442.7 397.4 425.1 400.1 406.9 402.6 390 404.6 414.7 430.9 438.9 457.2Z"/><path fill="#aaff00" d="M438.9 457.2 439.1 457.4 457.1 450.8 476.5 444.1 505.3 434.9 535.4 426.2 567.1 418.2 545.5 398.5 524.5 380 507.9 384.2 492.3 387.8 476.3 391.2 459.8 394.4 442.7 397.4 425.1 400.1 406.9 402.6 390 404.6 414.7 430.9 438.9 457.2Z"/><path fill="#b5ff00" d="M437.3 455.4 438.1 456.3 456.1 449.7 473.9 443.6 493.1 437.3 510.6 431.9 537.5 424.4 566.1 417.2 545.5 398.5 524.5 380 507.9 384.2 492.3 387.8 476.3 391.2 459.8 394.4 442.7 397.4 425.1 400.1 406.9 402.6 390 404.6 413.2 429.2 437.3 455.4Z"/><path fill="#bfff00" d="M435.6 453.6 437 455.1 469.6 443.5 501.6 433.3 533.2 424.2 565 416.2 544 397.2 524.5 380 507.9 384.2 492.3 387.8 476.3 391.2 459.8 394.4 442.7 397.4 425.1 400.1 406.9 402.6 390 404.6 413.2 429.2 435.6 453.6Z"/><path fill="#caff00" d="M435.6 453.6 436 454 470.2 441.9 503.7 431.3 533.8 422.7 563.9 415.2 544 397.2 524.5 380 507.9 384.2 492.3 387.8 476.3 391.2 459.8 394.4 442.7 397.4 425.1 400.1 406.9 402.6 390 404.6 413.2 429.2 435.6 453.6Z"/><path fill="#d5ff00" d="M434 451.8 435 452.9 453 446.4 472.3 439.7 491.5 433.6 509 428.3 535.8 420.9 562.8 414.2 544 397.2 524.5 380 507.9 384.2 492.3 387.8 476.3 391.2 459.8 394.4 442.7 397.4 425.1 400.1 406.9 402.6 390 404.6 411.6 427.5 434 451.8Z"/><path fill="#dfff00" d="M432.4 450 433.9 451.7 466.5 440.3 498.4 430.1 530 421.1 561.7 413.2 542.5 395.8 524.5 380 507.9 384.2 492.3 387.8 476.3 391.2 459.8 394.4 442.7 397.4 425.1 400.1 406.9 402.6 390 404.6 411.6 427.5 432.4 450Z"/><path fill="#eaff00" d="M432.4 450 432.9 450.6 467 438.6 484.6 432.9 502.1 427.6 530.5 419.7 560.6 412.2 524.5 380 507.9 384.2 492.3 387.8 476.3 391.2 459.8 394.4 442.7 397.4 425.1 400.1 406.9 402.6 390 404.6 411.6 427.5 432.4 450Z"/><path fill="#f4ff00" d="M430.8 448.2 431.9 449.5 464.4 438.1 496.3 428 527.9 419.1 559.5 411.2 524.5 380 507.9 384.2 492.3 387.8 476.3 391.2 459.8 394.4 442.7 397.4 425.1 400.1 406.9 402.6 390 404.6 410 425.8 430.8 448.2Z"/><path fill="#ffff00" d="M430.8 448.2 464.9 436.5 495.2 426.9 526.8 418 558.4 410.2 524.5 380 507.9 384.2 492.3 387.8 476.3 391.2 459.8 394.4 442.7 397.4 425.1 400.1 406.9 402.6 390 404.6 410 425.8 430.8 448.2Z"/><path fill="#fff400" d="M429.1 446.5 429.8 447.2 447.8 440.8 465.5 434.8 483 429.3 500.5 424 528.9 416.2 557.4 409.2 524.5 380 507.9 384.2 492.3 387.8 476.3 391.2 459.8 394.4 442.7 397.4 425.1 400.1 406.9 402.6 390 404.6 410 425.8 429.1 446.5Z"/><path fill="#ffea00" d="M427.5 444.7 428.8 446.1 461.2 434.8 493.1 424.8 524.7 416 556.3 408.2 524.5 380 507.9 384.2 492.3 387.8 476.3 391.2 459.8 394.4 442.7 397.4 425.1 400.1 406.9 402.6 390 404.6 427.5 444.7Z"/><path fill="#ffdf00" d="M427.5 444.7 427.7 445 445.7 438.6 465 432.2 493.6 423.3 523.6 415 555.2 407.2 524.5 380 507.9 384.2 492.3 387.8 476.3 391.2 459.8 394.4 442.7 397.4 425.1 400.1 406.9 402.6 390 404.6 427.5 444.7Z"/><path fill="#ffd500" d="M425.9 443 426.7 443.8 444.7 437.5 462.4 431.6 479.9 426.1 498.9 420.4 525.7 413.2 554.1 406.2 524.5 380 507.9 384.2 492.3 387.8 476.3 391.2 459.8 394.4 442.7 397.4 425.1 400.1 406.9 402.6 390 404.6 425.9 443Z"/><path fill="#ffca00" d="M424.3 441.2 425.7 442.7 458.1 431.6 489.9 421.7 521.4 413 553 405.3 524.5 380 507.9 384.2 492.3 387.8 476.3 391.2 459.8 394.4 442.7 397.4 425.1 400.1 406.9 402.6 390 404.6 424.3 441.2Z"/><path fill="#ffbf00" d="M424.3 441.2 424.7 441.6 458.7 430 492 419.7 521.9 411.5 551.9 404.3 524.5 380 507.9 384.2 492.3 387.8 476.3 391.2 459.8 394.4 442.7 397.4 425.1 400.1 406.9 402.6 390 404.6 424.3 441.2Z"/><path fill="#ffb500" d="M422.7 439.5 423.6 440.5 443.1 433.7 460.8 427.8 478.3 422.4 497.2 416.9 524 409.7 550.8 403.3 524.5 380 507.9 384.2 492.3 387.8 476.3 391.2 459.8 394.4 442.7 397.4 425.1 400.1 406.9 402.6 390 404.6 422.7 439.5Z"/><path fill="#ffaa00" d="M421.1 437.7 422.6 439.3 455 428.3 486.7 418.6 518.2 409.9 549.7 402.3 524.5 380 507.9 384.2 492.3 387.8 476.3 391.2 459.8 394.4 442.7 397.4 425.1 400.1 406.9 402.6 390 404.6 421.1 437.7Z"/><path fill="#ff9f00" d="M421.1 437.7 421.6 438.2 455.5 426.7 473 421.3 490.4 416.2 518.7 408.5 548.6 401.3 524.5 380 507.9 384.2 492.3 387.8 476.3 391.2 459.8 394.4 442.7 397.4 425.1 400.1 406.9 402.6 390 404.6 421.1 437.7Z"/><path fill="#ff9500" d="M419.5 436 420.5 437.1 440 430.4 457.7 424.6 475.1 419.3 494 413.8 520.8 406.7 547.5 400.3 524.5 380 507.9 384.2 492.3 387.8 476.3 391.2 459.8 394.4 442.7 397.4 425.1 400.1 406.9 402.6 390 404.6 419.5 436Z"/><path fill="#ff8a00" d="M417.9 434.3 419.5 436 451.8 425.1 483.5 415.4 515 406.9 546.5 399.4 524.5 380 507.9 384.2 492.3 387.8 476.3 391.2 459.8 394.4 442.7 397.4 425.1 400.1 406.9 402.6 390 404.6 417.9 434.3Z"/><path fill="#ff8000" d="M417.9 434.3 418.5 434.9 452.4 423.5 469.8 418.1 487.2 413 515.5 405.5 545.4 398.4 524.5 380 507.9 384.2 492.3 387.8 476.3 391.2 459.8 394.4 442.7 397.4 425.1 400.1 406.9 402.6 390 404.6 417.9 434.3Z"/><path fill="#ff7500" d="M416.3 432.6 417.4 433.7 449.7 422.9 481.4 413.3 512.8 404.9 544.3 397.4 524.5 380 507.9 384.2 492.3 387.8 476.3 391.2 459.8 394.4 442.7 397.4 425.1 400.1 406.9 402.6 390 404.6 416.3 432.6Z"/><path fill="#ff6a00" d="M416.3 432.6 450.3 421.3 480.3 412.3 511.7 403.9 543.2 396.4 524.5 380 507.9 384.2 492.3 387.8 476.3 391.2 459.8 394.4 442.7 397.4 425.1 400.1 406.9 402.6 390 404.6 416.3 432.6Z"/><path fill="#ff6000" d="M414.7 430.9 415.4 431.5 450.8 419.8 485.6 409.5 513.8 402.1 542.1 395.5 524.5 380 507.9 384.2 492.3 387.8 476.3 391.2 459.8 394.4 442.7 397.4 425.1 400.1 406.9 402.6 390 404.6 414.7 430.9Z"/><path fill="#ff5500" d="M413.2 429.2 414.3 430.4 446.6 419.7 478.2 410.2 509.6 401.9 541 394.5 524.5 380 507.9 384.2 492.3 387.8 476.3 391.2 459.8 394.4 442.7 397.4 425.1 400.1 406.9 402.6 390 404.6 413.2 429.2Z"/><path fill="#ff4a00" d="M413.2 429.2 413.3 429.3 448.7 417.6 477.1 409.2 508.5 400.9 539.9 393.5 524.5 380 507.9 384.2 492.3 387.8 476.3 391.2 459.8 394.4 442.7 397.4 425.1 400.1 406.9 402.6 390 404.6 413.2 429.2Z"/><path fill="#ff4000" d="M411.6 427.5 412.3 428.2 447.7 416.6 482.4 406.4 510.5 399.1 538.8 392.5 524.5 380 507.9 384.2 492.3 387.8 476.3 391.2 459.8 394.4 442.7 397.4 425.1 400.1 406.9 402.6 390 404.6 411.6 427.5Z"/><path fill="#ff3500" d="M410 425.8 411.2 427.1 443.4 416.5 475 407.1 506.3 398.9 537.7 391.6 524.5 380 507.9 384.2 492.3 387.8 476.3 391.2 459.8 394.4 442.7 397.4 425.1 400.1 406.9 402.6 390 404.6 410 425.8Z"/><path fill="#ff2a00" d="M410 425.8 410.2 426 428 420 447.1 414 475.5 405.7 505.2 397.9 536.6 390.6 524.5 380 507.9 384.2 492.3 387.8 476.3 391.2 459.8 394.4 442.7 397.4 425.1 400.1 406.9 402.6 390 404.6 410 425.8Z"/><path fill="#ff2000" d="M408.5 424.1 409.2 424.9 444.5 413.4 479.2 403.3 507.3 396.1 535.5 389.6 524.5 380 507.9 384.2 492.3 387.8 476.3 391.2 459.8 394.4 442.7 397.4 425.1 400.1 406.9 402.6 390 404.6 408.5 424.1Z"/><path fill="#ff1500" d="M406.9 422.4 408.1 423.8 440.3 413.3 471.8 404 503.1 395.9 534.4 388.6 524.5 380 507.9 384.2 492.3 387.8 476.3 391.2 459.8 394.4 442.7 397.4 425.1 400.1 406.9 402.6 390 404.6 406.9 422.4Z"/><path fill="#ff0b00" d="M406.9 422.4 407.1 422.7 424.9 416.8 444 410.8 472.3 402.6 502 394.9 533.3 387.7 524.5 380 507.9 384.2 492.3 387.8 476.3 391.2 459.8 394.4 442.7 397.4 425.1 400.1 406.9 402.6 390 404.6 406.9 422.4Z"/><path fill="#ff0000" d="M405.3 420.8 406 421.5 441.4 410.2 475.9 400.3 504 393.1 532.2 386.7 524.5 380 507.9 384.2 492.3 387.8 476.3 391.2 459.8 394.4 442.7 397.4 425.1 400.1 406.9 402.6 390 404.6 405.3 420.8Z"/><path d="M524.4 555.5L517 546.7L509.7 538.1L502.5 529.6L495.3 521.3L488.2 513L481.2 504.9L474.3 497L467.4 489.1L460.6 481.4L453.8 473.8L447.2 466.4L440.5 459L434 451.8L427.5 444.7L421.1 437.7L414.7 430.9L408.5 424.1L402.2 417.5L396.1 411L390 404.6M524.4 555.5L531.7 553L539 550.5L546.1 548L553.2 545.5L560.1 542.9L567 540.3L573.7 537.7L580.4 535.1L586.9 532.4L593.4 529.8L599.8 527.1L606.1 524.4L612.4 521.7L618.5 518.9L624.6 516.2L630.6 513.4L636.5 510.6L642.4 507.8L648.2 505L653.9 502.1M531.7 553L524.4 544.4L517.1 535.8L509.9 527.4L502.7 519.2L495.7 511L488.7 503L481.7 495.1L474.9 487.4L468.1 479.7L461.3 472.2L454.7 464.9L448.1 457.6L441.5 450.4L435.1 443.4L428.7 436.5L422.3 429.7L416 423.1L409.8 416.5L403.7 410L397.6 403.7M517 546.7L524.4 544.4L531.6 542L538.8 539.5L545.9 537.1L552.8 534.6L559.7 532.1L566.5 529.6L573.1 527.1L579.7 524.5L586.2 521.9L592.7 519.3L599 516.7L605.2 514.1L611.4 511.4L617.5 508.7L623.5 506L629.5 503.3L635.4 500.6L641.2 497.8L646.9 495M539 550.5L531.6 542L524.4 533.5L517.2 525.2L510.1 517L503 509L496 501L489.1 493.3L482.3 485.6L475.5 478L468.7 470.6L462.1 463.3L455.5 456.1L449 449.1L442.5 442.1L436.1 435.3L429.8 428.6L423.5 422L417.3 415.5L411.1 409.1L405 402.8M509.7 538.1L517.1 535.8L524.4 533.5L531.6 531.2L538.6 528.8L545.6 526.4L552.5 524L559.3 521.6L566 519.1L572.6 516.7L579.1 514.2L585.5 511.7L591.9 509.1L598.2 506.6L604.4 504L610.5 501.4L616.5 498.8L622.5 496.1L628.4 493.5L634.2 490.8L639.9 488.1M546.1 548L538.8 539.5L531.6 531.2L524.4 523L517.3 514.9L510.2 506.9L503.3 499.1L496.4 491.4L489.5 483.8L482.8 476.3L476 468.9L469.4 461.7L462.8 454.6L456.3 447.6L449.9 440.8L443.5 434L437.1 427.3L430.9 420.8L424.7 414.4L418.5 408.1L412.4 401.9M502.5 529.6L509.9 527.4L517.2 525.2L524.4 523L531.5 520.7L538.5 518.4L545.4 516.1L552.2 513.7L558.9 511.4L565.5 509L572.1 506.5L578.5 504.1L584.9 501.7L591.2 499.2L597.4 496.7L603.5 494.1L609.6 491.6L615.5 489L621.4 486.4L627.3 483.8L633 481.2M553.2 545.5L545.9 537.1L538.6 528.8L531.5 520.7L524.4 512.7L517.4 504.8L510.4 497L503.5 489.4L496.7 481.9L489.9 474.5L483.2 467.3L476.6 460.1L470 453.1L463.5 446.2L457.1 439.4L450.7 432.7L444.4 426.1L438.1 419.6L431.9 413.3L425.8 407L419.7 400.9M495.3 521.3L502.7 519.2L510.1 517L517.3 514.9L524.4 512.7L531.4 510.5L538.3 508.2L545.1 506L551.9 503.7L558.5 501.4L565.1 499L571.5 496.7L577.9 494.3L584.2 491.9L590.4 489.5L596.6 487L602.7 484.6L608.6 482.1L614.6 479.5L620.4 477L626.2 474.5M560.1 542.9L552.8 534.6L545.6 526.4L538.5 518.4L531.4 510.5L524.4 502.7L517.5 495L510.6 487.5L503.8 480L497 472.7L490.3 465.5L483.7 458.5L477.2 451.5L470.7 444.7L464.2 437.9L457.9 431.3L451.6 424.8L445.3 418.4L439.1 412.1L433 405.9L426.9 399.9M488.2 513L495.7 511L503 509L510.2 506.9L517.4 504.8L524.4 502.7L531.3 500.5L538.2 498.3L544.9 496.1L551.6 493.9L558.1 491.7L564.6 489.4L571 487.1L577.3 484.7L583.6 482.4L589.7 480L595.8 477.6L601.8 475.2L607.8 472.8L613.6 470.3L619.4 467.8M567 540.3L559.7 532.1L552.5 524L545.4 516.1L538.3 508.2L531.3 500.5L524.4 492.9L517.5 485.5L510.7 478.1L504 470.9L497.3 463.8L490.7 456.8L484.2 449.9L477.7 443.1L471.3 436.5L464.9 429.9L458.6 423.5L452.4 417.1L446.2 410.9L440.1 404.8L434 398.8M481.2 504.9L488.7 503L496 501L503.3 499.1L510.4 497L517.5 495L524.4 492.9L531.3 490.8L538 488.7L544.7 486.6L551.3 484.4L557.8 482.2L564.2 480L570.5 477.7L576.8 475.4L582.9 473.1L589 470.8L595.1 468.4L601 466.1L606.9 463.7L612.7 461.3M573.7 537.7L566.5 529.6L559.3 521.6L552.2 513.7L545.1 506L538.2 498.3L531.3 490.8L524.4 483.4L517.6 476.2L510.9 469L504.2 462L497.6 455.1L491.1 448.3L484.6 441.6L478.2 435L471.9 428.5L465.6 422.1L459.4 415.8L453.2 409.7L447.1 403.6L441 397.7M474.3 497L481.7 495.1L489.1 493.3L496.4 491.4L503.5 489.4L510.6 487.5L517.5 485.5L524.4 483.4L531.2 481.4L537.9 479.3L544.5 477.2L551 475.1L557.4 472.9L563.7 470.8L570 468.6L576.2 466.3L582.3 464.1L588.4 461.8L594.3 459.5L600.2 457.2L606 454.8M580.4 535.1L573.1 527.1L566 519.1L558.9 511.4L551.9 503.7L544.9 496.1L538 488.7L531.2 481.4L524.4 474.2L517.7 467.1L511.1 460.2L504.5 453.3L498 446.6L491.5 439.9L485.1 433.4L478.7 427L472.5 420.7L466.2 414.5L460.1 408.4L454 402.4L447.9 396.5M467.4 489.1L474.9 487.4L482.3 485.6L489.5 483.8L496.7 481.9L503.8 480L510.7 478.1L517.6 476.2L524.4 474.2L531.1 472.2L537.7 470.2L544.2 468.1L550.7 466L557 463.9L563.3 461.8L569.5 459.6L575.7 457.5L581.7 455.3L587.7 453L593.6 450.8L599.4 448.5M586.9 532.4L579.7 524.5L572.6 516.7L565.5 509L558.5 501.4L551.6 493.9L544.7 486.6L537.9 479.3L531.1 472.2L524.4 465.2L517.8 458.3L511.2 451.5L504.7 444.9L498.2 438.3L491.9 431.9L485.5 425.5L479.3 419.3L473 413.1L466.9 407.1L460.8 401.2L454.7 395.4M460.6 481.4L468.1 479.7L475.5 478L482.8 476.3L489.9 474.5L497 472.7L504 470.9L510.9 469L517.7 467.1L524.4 465.2L531 463.3L537.6 461.3L544 459.3L550.4 457.2L556.7 455.2L562.9 453.1L569.1 451L575.1 448.8L581.1 446.6L587 444.4L592.9 442.2M593.4 529.8L586.2 521.9L579.1 514.2L572.1 506.5L565.1 499L558.1 491.7L551.3 484.4L544.5 477.2L537.7 470.2L531 463.3L524.4 456.4L517.9 449.7L511.4 443.1L504.9 436.6L498.5 430.3L492.2 424L486 417.8L479.7 411.7L473.6 405.8L467.5 399.9L461.5 394.1M453.8 473.8L461.3 472.2L468.7 470.6L476 468.9L483.2 467.3L490.3 465.5L497.3 463.8L504.2 462L511.1 460.2L517.8 458.3L524.4 456.4L531 454.5L537.4 452.6L543.8 450.6L550.1 448.6L556.4 446.6L562.5 444.6L568.6 442.5L574.6 440.4L580.5 438.2L586.4 436.1M599.8 527.1L592.7 519.3L585.5 511.7L578.5 504.1L571.5 496.7L564.6 489.4L557.8 482.2L551 475.1L544.2 468.1L537.6 461.3L531 454.5L524.4 447.9L517.9 441.4L511.5 434.9L505.1 428.6L498.8 422.4L492.6 416.3L486.4 410.3L480.2 404.4L474.2 398.6L468.1 392.9M447.2 466.4L454.7 464.9L462.1 463.3L469.4 461.7L476.6 460.1L483.7 458.5L490.7 456.8L497.6 455.1L504.5 453.3L511.2 451.5L517.9 449.7L524.4 447.9L530.9 446L537.3 444.1L543.6 442.2L549.9 440.2L556 438.3L562.1 436.2L568.1 434.2L574.1 432.1L580 430M606.1 524.4L599 516.7L591.9 509.1L584.9 501.7L577.9 494.3L571 487.1L564.2 480L557.4 472.9L550.7 466L544 459.3L537.4 452.6L530.9 446L524.4 439.6L518 433.2L511.6 427L505.3 420.8L499.1 414.8L492.9 408.8L486.8 403L480.7 397.2L474.7 391.6M440.5 459L448.1 457.6L455.5 456.1L462.8 454.6L470 453.1L477.2 451.5L484.2 449.9L491.1 448.3L498 446.6L504.7 444.9L511.4 443.1L517.9 441.4L524.4 439.6L530.8 437.7L537.2 435.9L543.4 434L549.6 432.1L555.7 430.1L561.7 428.1L567.7 426.1L573.6 424.1M612.4 521.7L605.2 514.1L598.2 506.6L591.2 499.2L584.2 491.9L577.3 484.7L570.5 477.7L563.7 470.8L557 463.9L550.4 457.2L543.8 450.6L537.3 444.1L530.8 437.7L524.4 431.4L518.1 425.3L511.8 419.2L505.6 413.2L499.4 407.3L493.3 401.5L487.2 395.8L481.2 390.2M434 451.8L441.5 450.4L449 449.1L456.3 447.6L463.5 446.2L470.7 444.7L477.7 443.1L484.6 441.6L491.5 439.9L498.2 438.3L504.9 436.6L511.5 434.9L518 433.2L524.4 431.4L530.8 429.6L537 427.8L543.2 426L549.3 424.1L555.4 422.2L561.3 420.2L567.2 418.3M618.5 518.9L611.4 511.4L604.4 504L597.4 496.7L590.4 489.5L583.6 482.4L576.8 475.4L570 468.6L563.3 461.8L556.7 455.2L550.1 448.6L543.6 442.2L537.2 435.9L530.8 429.6L524.4 423.5L518.2 417.5L511.9 411.6L505.8 405.8L499.6 400L493.6 394.4L487.6 388.9M427.5 444.7L435.1 443.4L442.5 442.1L449.9 440.8L457.1 439.4L464.2 437.9L471.3 436.5L478.2 435L485.1 433.4L491.9 431.9L498.5 430.3L505.1 428.6L511.6 427L518.1 425.3L524.4 423.5L530.7 421.8L536.9 420L543 418.1L549.1 416.3L555.1 414.4L561 412.5M624.6 516.2L617.5 508.7L610.5 501.4L603.5 494.1L596.6 487L589.7 480L582.9 473.1L576.2 466.3L569.5 459.6L562.9 453.1L556.4 446.6L549.9 440.2L543.4 434L537 427.8L530.7 421.8L524.4 415.8L518.2 409.9L512.1 404.2L506 398.5L499.9 392.9L493.9 387.5M421.1 437.7L428.7 436.5L436.1 435.3L443.5 434L450.7 432.7L457.9 431.3L464.9 429.9L471.9 428.5L478.7 427L485.5 425.5L492.2 424L498.8 422.4L505.3 420.8L511.8 419.2L518.2 417.5L524.4 415.8L530.6 414.1L536.8 412.3L542.8 410.5L548.8 408.7L554.8 406.8M630.6 513.4L623.5 506L616.5 498.8L609.6 491.6L602.7 484.6L595.8 477.6L589 470.8L582.3 464.1L575.7 457.5L569.1 451L562.5 444.6L556 438.3L549.6 432.1L543.2 426L536.9 420L530.6 414.1L524.4 408.3L518.3 402.6L512.2 397L506.2 391.5L500.2 386M414.7 430.9L422.3 429.7L429.8 428.6L437.1 427.3L444.4 426.1L451.6 424.8L458.6 423.5L465.6 422.1L472.5 420.7L479.3 419.3L486 417.8L492.6 416.3L499.1 414.8L505.6 413.2L511.9 411.6L518.2 409.9L524.4 408.3L530.6 406.6L536.7 404.8L542.7 403.1L548.6 401.3M636.5 510.6L629.5 503.3L622.5 496.1L615.5 489L608.6 482.1L601.8 475.2L595.1 468.4L588.4 461.8L581.7 455.3L575.1 448.8L568.6 442.5L562.1 436.2L555.7 430.1L549.3 424.1L543 418.1L536.8 412.3L530.6 406.6L524.4 400.9L518.4 395.4L512.3 389.9L506.3 384.6M408.5 424.1L416 423.1L423.5 422L430.9 420.8L438.1 419.6L445.3 418.4L452.4 417.1L459.4 415.8L466.2 414.5L473 413.1L479.7 411.7L486.4 410.3L492.9 408.8L499.4 407.3L505.8 405.8L512.1 404.2L518.3 402.6L524.4 400.9L530.5 399.3L536.5 397.5L542.5 395.8M642.4 507.8L635.4 500.6L628.4 493.5L621.4 486.4L614.6 479.5L607.8 472.8L601 466.1L594.3 459.5L587.7 453L581.1 446.6L574.6 440.4L568.1 434.2L561.7 428.1L555.4 422.2L549.1 416.3L542.8 410.5L536.7 404.8L530.5 399.3L524.4 393.8L518.4 388.4L512.5 383.1M402.2 417.5L409.8 416.5L417.3 415.5L424.7 414.4L431.9 413.3L439.1 412.1L446.2 410.9L453.2 409.7L460.1 408.4L466.9 407.1L473.6 405.8L480.2 404.4L486.8 403L493.3 401.5L499.6 400L506 398.5L512.2 397L518.4 395.4L524.4 393.8L530.5 392.1L536.4 390.4M648.2 505L641.2 497.8L634.2 490.8L627.3 483.8L620.4 477L613.6 470.3L606.9 463.7L600.2 457.2L593.6 450.8L587 444.4L580.5 438.2L574.1 432.1L567.7 426.1L561.3 420.2L555.1 414.4L548.8 408.7L542.7 403.1L536.5 397.5L530.5 392.1L524.4 386.8L518.5 381.5M396.1 411L403.7 410L411.1 409.1L418.5 408.1L425.8 407L433 405.9L440.1 404.8L447.1 403.6L454 402.4L460.8 401.2L467.5 399.9L474.2 398.6L480.7 397.2L487.2 395.8L493.6 394.4L499.9 392.9L506.2 391.5L512.3 389.9L518.4 388.4L524.4 386.8L530.4 385.2M653.9 502.1L646.9 495L639.9 488.1L633 481.2L626.2 474.5L619.4 467.8L612.7 461.3L606 454.8L599.4 448.5L592.9 442.2L586.4 436.1L580 430L573.6 424.1L567.2 418.3L561 412.5L554.8 406.8L548.6 401.3L542.5 395.8L536.4 390.4L530.4 385.2L524.5 380M390 404.6L397.6 403.7L405 402.8L412.4 401.9L419.7 400.9L426.9 399.9L434 398.8L441 397.7L447.9 396.5L454.7 395.4L461.5 394.1L468.1 392.9L474.7 391.6L481.2 390.2L487.6 388.9L493.9 387.5L500.2 386L506.3 384.6L512.5 383.1L518.5 381.5L524.5 380" stroke="#000" stroke-opacity="0.9" stroke-width="0.8" fill="none" stroke-linejoin="round"/><circle cx="492.1" cy="424" r="2.5" fill="#c00000" stroke="#300" stroke-width="0.5"/><circle cx="532.4" cy="454.3" r="2.5" fill="#c00000" stroke="#300" stroke-width="0.5"/><text x="391.1" y="527.4" class="tk3" text-anchor="end">0</text><text x="389.9" y="502" class="tk3" text-anchor="end">0.1</text><text x="388.6" y="476" class="tk3" text-anchor="end">0.2</text><text x="387.4" y="449.6" class="tk3" text-anchor="end">0.3</text><text x="386.1" y="422.7" class="tk3" text-anchor="end">0.4</text><text x="384.8" y="395.3" class="tk3" text-anchor="end">0.5</text><text x="518.8" y="641.2" class="tk3" text-anchor="end">-2</text><text x="487.1" y="626" class="tk3" text-anchor="end">-1</text><text x="455.5" y="610.8" class="tk3" text-anchor="end">0</text><text x="423.9" y="595.6" class="tk3" text-anchor="end">1</text><text x="392.3" y="580.4" class="tk3" text-anchor="end">2</text><text x="529.9" y="641.2" class="tk3" text-anchor="start">-8</text><text x="561.4" y="626.1" class="tk3" text-anchor="start">-4</text><text x="593" y="610.9" class="tk3" text-anchor="start">0</text><text x="624.5" y="595.8" class="tk3" text-anchor="start">4</text><text x="656.1" y="580.7" class="tk3" text-anchor="start">8</text><circle cx="395.9" cy="529.4" r="1.3" fill="#000"/><circle cx="394.7" cy="504" r="1.3" fill="#000"/><circle cx="393.4" cy="478" r="1.3" fill="#000"/><circle cx="392.2" cy="451.6" r="1.3" fill="#000"/><circle cx="390.9" cy="424.7" r="1.3" fill="#000"/><circle cx="389.6" cy="397.3" r="1.3" fill="#000"/><circle cx="524.4" cy="632.4" r="1.3" fill="#000"/><circle cx="492.7" cy="617.2" r="1.3" fill="#000"/><circle cx="461.1" cy="602" r="1.3" fill="#000"/><circle cx="429.5" cy="586.8" r="1.3" fill="#000"/><circle cx="397.9" cy="571.6" r="1.3" fill="#000"/><circle cx="524.4" cy="632.4" r="1.3" fill="#000"/><circle cx="555.9" cy="617.3" r="1.3" fill="#000"/><circle cx="587.5" cy="602.1" r="1.3" fill="#000"/><circle cx="619" cy="587" r="1.3" fill="#000"/><circle cx="650.6" cy="571.9" r="1.3" fill="#000"/><text transform="translate(352.6 487.3) rotate(-90)" class="ax3" text-anchor="middle">Skin Friction</text><text x="412.2" y="630.5" class="ax3" text-anchor="middle">C: Forchheimer Number</text><text x="636.3" y="630.5" class="ax3" text-anchor="middle">A: Magnetic Field</text><text x="521.6" y="680" class="cap" text-anchor="middle">(d)</text><path d="M393.8 881.2L516.7 852.4L640.2 881.3M393.1 860L516.7 833.5L640.9 860.1M392.4 838.6L516.7 814.4L641.5 838.6M391.7 817L516.7 795.2L642.2 816.9M391 795.1L516.6 775.7L642.8 795M390.3 773L516.6 756.1L643.5 772.8M389.5 750.7L516.6 736.3L644.2 750.4M424.5 874L421.3 747.1M455.3 866.8L453.1 743.5M486 859.6L484.8 739.9M609.4 874.1L612.3 746.9M578.5 866.8L580.4 743.3M547.6 859.6L548.5 739.8" stroke="#2a2a2a" stroke-width="0.65" fill="none"/><path d="M395.1 922.4L389.5 750.7M516.8 889.3L516.6 736.3M639 922.7L644.2 750.4" stroke="#222" stroke-width="0.7" fill="none"/><polygon points="395.1,922.4 516.8,889.3 639,922.7 517,965.7" fill="#666" stroke="#111" stroke-width="0.8"/><polyline fill="none" stroke="#0000ff" stroke-width="1.2" points="476.4,951.3 493.5,949.8 510,947.8 529.8,944.9 548.7,941.6 569.4,937.5 589.5,933 611.4,927.8 635.1,921.6"/><polyline fill="none" stroke="#00fff4" stroke-width="1.2" points="436,936.9 457.2,937 476.5,936.3 497.9,934.9 520.5,932.6 542.7,929.6 565.7,925.9 589.5,921.5 614.9,916.1"/><polyline fill="none" stroke="#83ff00" stroke-width="1.2" points="405.9,919.5 426.7,920.8 448.9,921.3 471.2,921.2 493.8,920.2 516.5,918.6 540.9,916 564.1,913 589.1,909"/><polyline fill="none" stroke="#ff0400" stroke-width="1.2" points="447.3,908.2 474.9,908.2 502.9,907.1 532.1,905 562.5,901.8"/><polyline fill="none" stroke="#ff0000" stroke-width="1.2" points="476.6,900.2 510.3,899 543.5,896.6"/><path fill="#2e2eff" stroke="#2e2eff" stroke-width="0.3" d="M516.9 903.6 581.6 876.8 641.1 852.8 609.2 821.9 577.2 791.9 546.9 764.1 516.6 737.2 456 775.3 391.7 816.1 421.5 835.6 451.8 856.4 484.1 879.4 516.9 903.6Z"/><path fill="#2e37ff" d="M626.6 846.9 633.8 845.6 604.3 817.3 574.1 789 545.4 762.8 516.6 737.2 456 775.3 391.7 816.1 428.9 840.6 466.1 866.5 484.4 865.3 502.8 863.8 521.9 861.9 542 859.7 582.6 854.1 626.6 846.9Z"/><path fill="#2e3fff" d="M630.5 845.3 633 844.9 602.7 815.7 574.1 789 545.4 762.8 516.6 737.2 456 775.3 391.7 816.1 427.4 839.6 464.7 865.4 483.7 864.3 502.3 862.8 523 860.8 543.1 858.5 563.9 855.8 585.5 852.7 630.5 845.3Z"/><path fill="#2e48ff" d="M624.5 845.4 632.2 844.1 602.7 815.7 572.6 787.6 543.9 761.4 516.6 737.2 456 775.3 391.7 816.1 427.4 839.6 463.2 864.4 482.3 863.3 500.3 861.9 519.5 860.1 539.7 857.9 580.7 852.4 624.5 845.4Z"/><path fill="#2e51ff" d="M628.3 843.9 631.4 843.3 601 814.2 572.6 787.6 543.9 761.4 516.6 737.2 456 775.3 391.7 816.1 425.9 838.6 461.7 863.3 481 862.3 501.5 860.7 520.6 858.9 540.9 856.7 561.9 854.1 583.6 851 628.3 843.9Z"/><path fill="#2e59ff" d="M622.5 843.9 630.6 842.6 601 814.2 572.6 787.6 543.9 761.4 516.6 737.2 456 775.3 391.7 816.1 425.9 838.6 460.3 862.3 479.6 861.3 497.7 859.9 517.1 858.2 537.6 856.1 578.8 850.8 622.5 843.9Z"/><path fill="#2e62ff" d="M626.1 842.4 629.8 841.8 601 814.2 572.6 787.6 543.9 761.4 516.6 737.2 456 775.3 391.7 816.1 424.4 837.6 458.8 861.3 478.2 860.3 497.7 858.9 518.3 857.1 538.7 854.9 559.9 852.3 581.7 849.4 626.1 842.4Z"/><path fill="#2e6bff" d="M620.5 842.5 629 841 599.4 812.7 571 786.1 543.9 761.4 516.6 737.2 456 775.3 391.7 816.1 424.4 837.6 457.3 860.2 476.5 859.3 495.3 858 514.7 856.4 535.4 854.3 556.8 851.7 576.9 849.1 620.5 842.5Z"/><path fill="#2e74ff" d="M624 841 628.2 840.3 599.4 812.7 571 786.1 543.9 761.4 516.6 737.2 456 775.3 391.7 816.1 423 836.6 455.9 859.2 474.5 858.3 493.9 857.1 513.6 855.4 536.1 853.2 555.8 850.9 577.9 848 600.4 844.7 624 841Z"/><path fill="#2e7cff" d="M618.5 841 627.5 839.5 599.4 812.7 571 786.1 543.9 761.4 516.6 737.2 456 775.3 391.7 816.1 423 836.6 454.4 858.2 472.5 857.4 492.6 856.1 512.4 854.5 533 852.5 552.7 850.3 575 847.4 618.5 841Z"/><path fill="#2e85ff" d="M622 839.5 626.7 838.7 597.8 811.2 571 786.1 543.9 761.4 516.6 737.2 456 775.3 391.7 816.1 421.5 835.6 452.9 857.2 472.8 856.3 491.3 855.1 511.2 853.6 532.1 851.6 553.7 849.2 576 846.3 598.7 843.1 622 839.5Z"/><path fill="#2e8eff" d="M625.4 838.1 625.9 838 601 814.2 575.7 790.4 545.4 762.8 516.6 737.2 456 775.3 391.7 816.1 421.5 835.6 451.5 856.1 471.4 855.3 490.9 854.1 510.7 852.6 533.2 850.5 554.8 848.1 577.6 845.2 601.4 841.8 625.4 838.1Z"/><path fill="#2e96ff" d="M619.9 838 625.1 837.2 596.2 809.6 569.5 784.7 542.5 760.1 516.6 737.2 456 775.3 391.7 816.1 420 834.7 450 855.1 470.1 854.3 488.7 853.2 508.8 851.7 529.9 849.8 551.7 847.4 573.5 844.8 595.5 841.7 619.9 838Z"/><path fill="#2e9fff" d="M623.2 836.6 624.3 836.5 581.9 796.2 548.4 765.4 516.6 737.2 456 775.3 391.7 816.1 420 834.7 448.5 854.1 468.9 853.3 490.1 852.1 510.7 850.6 531 848.7 552.8 846.4 576.5 843.4 599.7 840.2 623.2 836.6Z"/><path fill="#2ea8ff" d="M617.9 836.6 623.5 835.7 596.2 809.6 569.5 784.7 542.5 760.1 516.6 737.2 456 775.3 391.7 816.1 418.6 833.7 447.1 853.1 466.9 852.4 486.2 851.3 506.4 849.9 527.7 848 549.7 845.7 572.2 843 594 840.1 617.9 836.6Z"/><path fill="#2eb1ff" d="M621.1 835.2 622.7 835 588.2 802.1 551.3 768.1 516.6 737.2 456 775.3 391.7 816.1 418.6 833.7 445.6 852.1 466 851.4 486.6 850.3 507.7 848.8 528.8 846.9 550.8 844.7 573.3 842 597.1 838.8 621.1 835.2Z"/><path fill="#2eb9ff" d="M616 835.1 622 834.2 594.6 808.1 568 783.3 542.5 760.1 516.6 737.2 456 775.3 391.7 816.1 417.1 832.7 444.1 851 463.1 850.5 484.4 849.4 504.1 848.1 525.5 846.3 547.6 844 570.4 841.4 592.6 838.5 616 835.1Z"/><path fill="#2ec2ff" d="M619.1 833.8 621.2 833.4 594.6 808.1 568 783.3 542.5 760.1 516.6 737.2 456 775.3 391.7 816.1 417.1 832.7 442.7 850 461.3 849.5 482.4 848.5 505.4 847 526.1 845.2 548.8 843 571.4 840.3 595.6 837.2 619.1 833.8Z"/><path fill="#2ecbff" d="M614 833.6 620.4 832.7 594.6 808.1 568 783.3 542.5 760.1 516.6 737.2 456 775.3 391.7 816.1 415.7 831.8 441.2 849 461.9 848.4 481.2 847.6 501.7 846.2 523.2 844.5 545.5 842.3 566.5 840 589.9 837 614 833.6Z"/><path fill="#2ed3ff" d="M617.1 832.3 619.6 831.9 593 806.6 566.4 781.9 541 758.8 516.6 737.2 456 775.3 391.7 816.1 415.7 831.8 439.7 848 461.5 847.4 482.3 846.5 503 845.2 524.5 843.4 546.7 841.3 569.5 838.7 592.7 835.7 617.1 832.3Z"/><path fill="#2edcff" d="M612.1 832.2 618.8 831.2 593 806.6 566.4 781.9 541 758.8 516.6 737.2 456 775.3 391.7 816.1 414.2 830.8 438.3 847 459.2 846.5 478.6 845.7 499.3 844.4 521.1 842.8 543.6 840.6 564.6 838.4 588.1 835.5 612.1 832.2Z"/><path fill="#2ee5ff" d="M615.1 830.9 618 830.4 591.4 805.1 566.4 781.9 541 758.8 516.6 737.2 456 775.3 391.7 816.1 414.2 830.8 436.8 846 457.8 845.5 478 844.7 500.4 843.4 522.3 841.7 544.7 839.6 567.7 837.1 591 834.2 615.1 830.9Z"/><path fill="#2eeeff" d="M610.2 830.7 617.3 829.7 591.4 805.1 566.4 781.9 541 758.8 516.6 737.2 456 775.3 391.7 816.1 412.8 829.8 435.3 845 456 844.6 475.9 843.8 497 842.6 518.9 841 539.3 839.2 562.7 836.7 586.4 833.9 610.2 830.7Z"/><path fill="#2ef6ff" d="M613.1 829.4 616.5 828.9 589.8 803.6 564.9 780.5 541 758.8 516.6 737.2 456 775.3 391.7 816.1 412.8 829.8 433.9 844 454.2 843.6 474.8 842.9 495.8 841.7 519.7 840 541 838.1 564.7 835.6 589.3 832.6 613.1 829.4Z"/><path fill="#2effff" d="M608.4 829.2 615.7 828.2 589.8 803.6 564.9 780.5 541 758.8 516.6 737.2 456 775.3 391.7 816.1 411.3 828.9 432.4 843 452.4 842.7 473.5 841.9 494.6 840.8 516.7 839.3 537.9 837.4 561.1 835.1 584.6 832.3 608.4 829.2Z"/><path fill="#2efff6" d="M611.2 827.9 614.9 827.4 589.8 803.6 564.9 780.5 541 758.8 516.6 737.2 456 775.3 391.7 816.1 411.3 828.9 430.9 842 450.7 841.7 472.3 841 493.4 839.9 515.6 838.4 538.5 836.4 561.9 834.1 585.7 831.3 611.2 827.9Z"/><path fill="#2effee" d="M614 826.7 591.4 805.1 564.9 780.5 541 758.8 516.6 737.2 456 775.3 391.7 816.1 409.9 827.9 429.5 841 451 840.7 471.9 840 493.1 839 516.9 837.3 539.7 835.4 565.1 832.8 588.6 830 614 826.7Z"/><path fill="#2effe5" d="M609.3 826.5 613.4 825.9 588.2 802.1 563.4 779.1 539.5 757.5 516.6 737.2 456 775.3 391.7 816.1 428 840 449.7 839.8 469.9 839.1 491.1 838.1 513.9 836.6 536.5 834.8 560.1 832.4 584 829.7 609.3 826.5Z"/><path fill="#2effdc" d="M612.1 825.3 612.6 825.2 569.5 784.7 542.5 760.1 516.6 737.2 456 775.3 391.7 816.1 426.5 839 448.3 838.8 468.5 838.2 492.5 837.1 514.7 835.6 537.7 833.7 561.2 831.4 586.9 828.5 612.1 825.3Z"/><path fill="#2effd3" d="M607.5 825 611.8 824.4 586.7 800.7 563.4 779.1 539.5 757.5 516.6 737.2 456 775.3 391.7 816.1 425.1 838 446.9 837.8 467.2 837.3 488.7 836.3 511.2 834.9 534.5 833.1 558.2 830.8 582.2 828.2 607.5 825Z"/><path fill="#2effcb" d="M610.1 823.8 611 823.7 574.1 789 545.4 762.8 516.6 737.2 456 775.3 391.7 816.1 423.6 837 445.6 836.9 467.9 836.3 490.2 835.3 512.6 833.9 535.9 832 559.3 829.8 583.3 827.2 610.1 823.8Z"/><path fill="#2effc2" d="M605.6 823.6 610.2 823 585.1 799.2 561.9 777.7 539.5 757.5 516.6 737.2 456 775.3 391.7 816.1 422.1 836.1 443.9 836 464.7 835.5 486.4 834.5 509.1 833.2 532.9 831.4 556.3 829.2 580.5 826.6 605.6 823.6Z"/><path fill="#2effb9" d="M608.2 822.4 609.5 822.2 585.1 799.2 561.9 777.7 539.5 757.5 516.6 737.2 456 775.3 391.7 816.1 420.7 835.1 442.2 835 464 834.5 487.8 833.5 510.4 832.2 533.7 830.4 557.5 828.2 581.6 825.6 608.2 822.4Z"/><path fill="#2effb1" d="M603.8 822.1 608.7 821.5 585.1 799.2 561.9 777.7 539.5 757.5 516.6 737.2 456 775.3 391.7 816.1 419.2 834.1 440.5 834.1 462.1 833.6 485.9 832.7 507.8 831.4 530.4 829.8 554.5 827.6 578.8 825.1 603.8 822.1Z"/><path fill="#2effa8" d="M606.3 820.9 607.9 820.7 585.1 799.2 561.9 777.7 539.5 757.5 516.6 737.2 456 775.3 391.7 816.1 417.7 833.1 438.9 833.1 460.9 832.7 483.7 831.8 508.2 830.5 531.7 828.7 556 826.6 579.9 824.1 606.3 820.9Z"/><path fill="#2eff9f" d="M602 820.6 607.1 820 583.5 797.7 560.4 776.3 538.1 756.2 516.6 737.2 456 775.3 391.7 816.1 416.2 832.1 437.2 832.2 459.6 831.8 481.5 831 504.7 829.8 528.4 828.1 552.6 826 577.1 823.5 602 820.6Z"/><path fill="#2eff96" d="M604.5 819.5 606.4 819.3 583.5 797.7 560.4 776.3 538.1 756.2 516.6 737.2 456 775.3 391.7 816.1 414.8 831.2 435.6 831.2 458.3 830.9 480.5 830.1 504.9 828.8 528.6 827.2 553.8 825 578.5 822.5 604.5 819.5Z"/><path fill="#2eff8e" d="M600.2 819.2 605.6 818.5 583.5 797.7 560.4 776.3 538.1 756.2 516.6 737.2 456 775.3 391.7 816.1 413.3 830.2 434 830.3 457.1 830 479.3 829.2 502.4 828.1 525.8 826.5 550.7 824.4 574.7 822 600.2 819.2Z"/><path fill="#2eff85" d="M602.6 818 604.8 817.8 560.4 776.3 538.1 756.2 516.6 737.2 456 775.3 391.7 816.1 411.8 829.2 419.8 829.3 440.9 829.3 461.6 828.9 483.5 828.1 506.4 826.9 530 825.3 553.9 823.2 577.1 820.9 602.6 818Z"/><path fill="#2eff7c" d="M598.4 817.7 604 817 581.9 796.2 558.8 774.9 538.1 756.2 516.6 737.2 456 775.3 391.7 816.1 410.3 828.2 421.4 828.4 442.6 828.3 463.2 827.9 485 827.1 506.4 826 529 824.5 551 822.6 573.6 820.4 598.4 817.7Z"/><path fill="#2eff74" d="M600.8 816.6 603.3 816.3 558.8 774.9 538.1 756.2 516.6 737.2 456 775.3 391.7 816.1 408.9 827.3 426.1 827.5 445.7 827.4 467.2 826.9 486.9 826.1 509.1 824.9 532.1 823.3 554.3 821.5 576.8 819.3 600.8 816.6Z"/><path fill="#2eff6b" d="M596.7 816.2 602.5 815.6 558.8 774.9 538.1 756.2 516.6 737.2 456 775.3 391.7 816.1 407.4 826.3 430.6 826.5 449.1 826.4 469.1 825.9 488.8 825.1 510.4 824 553.4 820.7 596.7 816.2Z"/><path fill="#2eff62" d="M599 815.1 601.7 814.8 558.8 774.9 538.1 756.2 516.6 737.2 456 775.3 391.7 816.1 405.9 825.3 435.7 825.6 456.1 825.3 474.6 824.8 514.3 822.8 556.7 819.5 599 815.1Z"/><path fill="#2eff59" d="M594.9 814.8 600.9 814.1 557.3 773.6 516.6 737.2 456 775.3 391.7 816.1 404.4 824.4 437.4 824.7 475 823.9 513.2 822 553.7 818.9 594.9 814.8Z"/><path fill="#2eff51" d="M597.3 813.7 600.2 813.4 557.3 773.6 516.6 737.2 456 775.3 391.7 816.1 403 823.4 423.3 823.7 445.6 823.7 482.2 822.7 519.4 820.7 557 817.8 597.3 813.7Z"/><path fill="#2eff48" d="M593.2 813.3 599.4 812.6 557.3 773.6 516.6 737.2 456 775.3 391.7 816.1 401.5 822.5 424.6 822.8 447.2 822.7 483.4 821.7 518.2 819.9 554 817.2 593.2 813.3Z"/><path fill="#2eff3f" d="M595.5 812.2 598.6 811.9 557.3 773.6 516.6 737.2 456 775.3 391.7 816.1 400 821.5 427.1 821.9 455.8 821.7 489.8 820.6 524.4 818.6 559.4 815.8 595.5 812.2Z"/><path fill="#2eff37" d="M597.8 811.2 580.4 794.8 557.3 773.6 516.6 737.2 456 775.3 391.7 816.1 398.5 820.5 430.8 821 462 820.6 494.2 819.5 526.8 817.6 562.4 814.7 597.8 811.2Z"/><path fill="#2eff2e" d="M593.7 810.8 597.1 810.4 555.8 772.2 516.6 737.2 456 775.3 391.7 816.1 397.1 819.6 430.8 820.1 466.3 819.6 497.5 818.4 528.7 816.6 559.8 814.1 593.7 810.8Z"/><path fill="#37ff2e" d="M596 809.8 596.3 809.7 560.4 776.3 538.1 756.2 516.6 737.2 456 775.3 391.7 816.1 395.6 818.6 396 818.7 433.8 819.2 453.7 819 473.6 818.5 503.6 817.2 532.9 815.4 563 813 596 809.8Z"/><path fill="#3fff2e" d="M592 809.4 595.5 809 555.8 772.2 516.6 737.2 456 775.3 391.7 816.1 394.1 817.7 411.7 818.1 443.7 818.2 477.1 817.5 505.4 816.3 532.6 814.6 562.2 812.2 592 809.4Z"/><path fill="#48ff2e" d="M594.2 808.3 594.8 808.3 563.4 779.1 539.5 757.5 516.6 737.2 456 775.3 391.7 816.1 392.6 816.7 393.4 816.8 430 817.4 456.9 817.2 484.7 816.4 511.6 815.1 537.8 813.4 565.3 811.1 594.2 808.3Z"/><path fill="#51ff2e" d="M590.3 807.9 594 807.5 554.3 770.8 516.6 737.2 456 775.3 392.1 815.8 414.1 816.4 438.4 816.5 462.1 816.2 486.2 815.4 511.3 814.2 536.8 812.6 562.5 810.5 590.3 807.9Z"/><path fill="#59ff2e" d="M592.5 806.9 593.2 806.8 566.4 781.9 541 758.8 516.6 737.2 456 775.3 393.5 815 415.5 815.5 439.9 815.6 463.7 815.2 487.8 814.5 512.7 813.3 538.4 811.6 564 809.6 592.5 806.9Z"/><path fill="#62ff2e" d="M588.6 806.5 592.4 806.1 554.3 770.8 516.6 737.2 457.5 774.3 394.8 814.1 416.9 814.6 441.5 814.7 465.1 814.3 487.8 813.6 512.7 812.4 537.2 810.9 562.9 808.8 588.6 806.5Z"/><path fill="#6bff2e" d="M590.7 805.5 591.7 805.4 552.8 769.5 516.6 737.2 457.5 774.3 396.1 813.3 418.4 813.7 443 813.8 466.7 813.4 489.5 812.7 514.5 811.5 538.5 809.9 564.1 807.9 590.7 805.5Z"/><path fill="#74ff2e" d="M586.9 805 590.9 804.6 552.8 769.5 516.6 737.2 459.1 773.3 397.4 812.4 419.8 812.9 441.3 812.9 464.9 812.6 487.3 811.9 511.9 810.8 535.4 809.3 561.2 807.3 586.9 805Z"/><path fill="#7cff2e" d="M589 804 590.1 803.9 552.8 769.5 516.6 737.2 459.1 773.3 398.8 811.6 421.2 812 442.7 812 466.5 811.7 489 811 513.6 809.8 536.7 808.4 562.4 806.4 589 804Z"/><path fill="#85ff2e" d="M585.3 803.6 589.4 803.2 552.8 769.5 516.6 737.2 459.1 773.3 400.1 810.8 422.6 811.2 444.2 811.2 468.1 810.8 490.2 810.1 515 808.9 538 807.5 561.6 805.7 585.3 803.6Z"/><path fill="#8eff2e" d="M587.3 802.6 588.6 802.5 551.3 768.1 516.6 737.2 460.6 772.3 401.4 809.9 424 810.3 445.7 810.3 469.7 809.9 491.8 809.2 516.4 808 539.3 806.5 562.8 804.8 587.3 802.6Z"/><path fill="#96ff2e" d="M583.6 802.1 587.8 801.7 551.3 768.1 516.6 737.2 460.6 772.3 402.7 809.1 424.8 809.4 446.5 809.4 467.7 809.1 490 808.4 513.1 807.3 536.2 805.9 559.9 804.2 583.6 802.1Z"/><path fill="#9fff2e" d="M585.6 801.2 587.1 801 551.3 768.1 516.6 737.2 462.2 771.4 404 808.2 426.8 808.6 448.3 808.5 469.2 808.2 491.7 807.5 514.5 806.4 537.6 805 561.2 803.3 585.6 801.2Z"/><path fill="#a8ff2e" d="M582 800.7 586.3 800.3 551.3 768.1 516.6 737.2 462.2 771.4 405.3 807.4 425.5 807.7 446.9 807.7 467.2 807.4 489.4 806.7 511.2 805.7 534.4 804.4 558.2 802.7 582 800.7Z"/><path fill="#b1ff2e" d="M583.9 799.7 585.5 799.6 549.8 766.8 516.6 737.2 463.7 770.4 406.6 806.6 426.6 806.9 448.4 806.8 468.9 806.5 491 805.8 535.8 803.5 559.5 801.8 583.9 799.7Z"/><path fill="#b9ff2e" d="M580.3 799.3 584.8 798.9 549.8 766.8 516.6 737.2 463.7 770.4 407.9 805.7 428 806 449.8 805.9 491.8 804.9 535.1 802.7 580.3 799.3Z"/><path fill="#c2ff2e" d="M582.3 798.3 584 798.2 549.8 766.8 516.6 737.2 463.7 770.4 409.2 804.9 429.3 805.2 451.3 805.1 493.3 804 536.8 801.8 582.3 798.3Z"/><path fill="#cbff2e" d="M578.7 797.8 583.2 797.4 549.8 766.8 516.6 737.2 410.5 804.1 451.3 804.2 492 803.3 534 801.2 578.7 797.8Z"/><path fill="#d3ff2e" d="M580.6 796.9 582.5 796.7 548.4 765.4 516.6 737.2 411.8 803.3 450.9 803.4 493.6 802.4 535.7 800.2 580.6 796.9Z"/><path fill="#dcff2e" d="M577.1 796.4 581.7 796 548.4 765.4 516.6 737.2 413.1 802.4 452.3 802.5 492.8 801.6 533.6 799.6 577.1 796.4Z"/><path fill="#e5ff2e" d="M579 795.5 580.9 795.3 548.4 765.4 516.6 737.2 414.4 801.6 453.8 801.7 494.4 800.7 534.9 798.7 579 795.5Z"/><path fill="#eeff2e" d="M575.5 795 580.2 794.6 548.4 765.4 516.6 737.2 415.7 800.8 455.2 800.8 493.4 799.9 534 797.9 575.5 795Z"/><path fill="#f6ff2e" d="M577.4 794 579.4 793.9 546.9 764.1 516.6 737.2 417 800 456.6 800 495 799 535.4 797 577.4 794Z"/><path fill="#ffff2e" d="M574 793.5 578.6 793.2 546.9 764.1 516.6 737.2 418.3 799.2 454.7 799.2 493.7 798.2 532.3 796.4 574 793.5Z"/><path fill="#fff62e" d="M575.8 792.6 577.9 792.5 546.9 764.1 516.6 737.2 419.6 798.3 456.2 798.3 495.3 797.4 535.9 795.4 575.8 792.6Z"/><path fill="#ffee2e" d="M572.4 792.1 577.1 791.7 546.9 764.1 516.6 737.2 420.8 797.5 457.6 797.5 494.5 796.6 532.8 794.8 572.4 792.1Z"/><path fill="#ffe52e" d="M574.2 791.2 576.3 791 545.4 762.8 516.6 737.2 422.1 796.7 459 796.7 496.1 795.7 534.2 793.9 574.2 791.2Z"/><path fill="#ffdc2e" d="M570.8 790.7 575.6 790.3 545.4 762.8 516.6 737.2 423.4 795.9 457.5 795.9 495.1 794.9 533 793.2 570.8 790.7Z"/><path fill="#ffd32e" d="M572.6 789.8 574.8 789.6 545.4 762.8 516.6 737.2 424.7 795.1 459.3 795 496.7 794.1 534.6 792.3 572.6 789.8Z"/><path fill="#ffcb2e" d="M569.3 789.3 574 788.9 545.4 762.8 516.6 737.2 425.9 794.3 459.8 794.2 495.2 793.3 531.8 791.7 569.3 789.3Z"/><path fill="#ffc22e" d="M571 788.4 573.3 788.2 543.9 761.4 516.6 737.2 427.2 793.5 461.2 793.4 496.7 792.5 533.5 790.8 571 788.4Z"/><path fill="#ffb92e" d="M567.7 787.9 572.5 787.5 543.9 761.4 516.6 737.2 428.5 792.7 462.6 792.5 496.3 791.7 530.7 790.2 567.7 787.9Z"/><path fill="#ffb12e" d="M569.4 787 571.8 786.8 543.9 761.4 516.6 737.2 429.7 791.9 464 791.7 497.9 790.9 532.3 789.3 569.4 787Z"/><path fill="#ffa82e" d="M566.2 786.4 571 786.1 543.9 761.4 516.6 737.2 431 791.1 465.2 790.9 497.4 790.1 530.4 788.6 566.2 786.4Z"/><path fill="#ff9f2e" d="M567.9 785.6 570.2 785.4 542.5 760.1 516.6 737.2 432.2 790.3 464.2 790.1 498.8 789.2 531.8 787.8 567.9 785.6Z"/><path fill="#ff962e" d="M564.7 785 569.5 784.7 542.5 760.1 516.6 737.2 433.5 789.5 464.7 789.3 497.6 788.5 531 787.1 564.7 785Z"/><path fill="#ff8e2e" d="M566.3 784.2 568.7 784 542.5 760.1 516.6 737.2 434.8 788.7 466.1 788.5 498 787.7 532.4 786.2 566.3 784.2Z"/><path fill="#ff852e" d="M563.2 783.6 568 783.3 542.5 760.1 516.6 737.2 436 787.9 467.4 787.7 498.2 786.9 531.5 785.5 563.2 783.6Z"/><path fill="#ff7c2e" d="M564.8 782.8 567.2 782.6 541 758.8 516.6 737.2 437.3 787.1 468.8 786.9 499.8 786.1 532.9 784.6 564.8 782.8Z"/><path fill="#ff742e" d="M561.7 782.2 566.4 781.9 541 758.8 516.6 737.2 438.5 786.3 467.4 786.1 498.5 785.3 530.4 784 561.7 782.2Z"/><path fill="#ff6b2e" d="M563.3 781.4 565.7 781.2 541 758.8 516.6 737.2 439.7 785.5 469.2 785.3 500 784.5 531.9 783.2 563.3 781.4Z"/><path fill="#ff622e" d="M564.9 780.5 541 758.8 516.6 737.2 441 784.7 470.9 784.5 501.4 783.7 533.4 782.3 564.9 780.5Z"/><path fill="#ff592e" d="M561.8 780 564.2 779.8 539.5 757.5 516.6 737.2 442.2 784 470.8 783.7 501.1 782.9 530.7 781.7 561.8 780Z"/><path fill="#ff512e" d="M563.4 779.1 541 758.8 516.6 737.2 443.5 783.2 472.1 782.9 502.7 782.1 532.2 780.9 563.4 779.1Z"/><path fill="#ff482e" d="M560.3 778.6 562.6 778.4 539.5 757.5 516.6 737.2 444.7 782.4 473.4 782.1 501.8 781.4 530.2 780.2 560.3 778.6Z"/><path fill="#ff3f2e" d="M561.8 777.7 541 758.8 516.6 737.2 445.9 781.6 474.7 781.3 503.3 780.5 531.6 779.4 561.8 777.7Z"/><path fill="#ff372e" d="M558.8 777.2 561.1 777 538.1 756.2 516.6 737.2 447.2 780.8 474.1 780.5 500.9 779.9 528.5 778.8 558.8 777.2Z"/><path fill="#ff2e2e" d="M560.3 776.3 539.5 757.5 516.6 737.2 448.4 780.1 474 779.8 502.3 779.1 530 778 560.3 776.3Z"/><path d="M516.9 903.6L509.8 898.3L502.8 893.1L496 888L489.2 883L482.5 878.2L475.9 873.4L469.3 868.7L462.9 864.2L456.5 859.7L450.2 855.3L444 851L437.9 846.8L431.9 842.6L425.9 838.6L420 834.7L414.2 830.8L408.5 827L402.8 823.3L397.2 819.7L391.7 816.1M516.9 903.6L523.9 900.6L530.9 897.7L537.8 894.9L544.5 892.1L551.2 889.3L557.7 886.6L564.2 884L570.6 881.3L576.9 878.8L583.2 876.2L589.3 873.7L595.4 871.2L601.3 868.8L607.2 866.4L613.1 864.1L618.8 861.7L624.5 859.4L630.1 857.2L635.6 855L641.1 852.8M523.9 900.6L516.9 895.3L509.9 890L503 884.9L496.2 879.8L489.5 874.9L482.9 870L476.4 865.3L469.9 860.6L463.6 856.1L457.3 851.6L451.1 847.2L444.9 842.9L438.9 838.7L432.9 834.6L427 830.6L421.2 826.7L415.4 822.8L409.7 819L404.1 815.3L398.6 811.7M509.8 898.3L516.9 895.3L523.8 892.3L530.7 889.4L537.5 886.5L544.1 883.7L550.7 880.9L557.2 878.2L563.6 875.5L569.9 872.8L576.2 870.2L582.3 867.6L588.4 865.1L594.4 862.6L600.3 860.1L606.1 857.7L611.9 855.3L617.6 853L623.2 850.6L628.8 848.3L634.2 846.1M530.9 897.7L523.8 892.3L516.9 887L510 881.7L503.2 876.6L496.5 871.6L489.9 866.7L483.3 861.9L476.9 857.1L470.5 852.5L464.2 848L458 843.5L451.9 839.2L445.8 834.9L439.8 830.7L433.9 826.6L428.1 822.6L422.3 818.7L416.6 814.8L411 811L405.4 807.3M502.8 893.1L509.9 890L516.9 887L523.7 884L530.5 881L537.2 878.1L543.8 875.3L550.3 872.5L556.7 869.7L563 867L569.2 864.3L575.4 861.6L581.5 859L587.5 856.5L593.4 853.9L599.3 851.4L605.1 849L610.8 846.6L616.4 844.2L622 841.8L627.5 839.5M537.8 894.9L530.7 889.4L523.7 884L516.8 878.7L510.1 873.5L503.4 868.4L496.7 863.4L490.2 858.5L483.7 853.7L477.4 849L471.1 844.4L464.8 839.9L458.7 835.4L452.6 831.1L446.7 826.8L440.7 822.7L434.9 818.6L429.1 814.6L423.4 810.6L417.8 806.8L412.2 803M496 888L503 884.9L510 881.7L516.8 878.7L523.6 875.7L530.3 872.7L536.9 869.8L543.4 866.9L549.8 864L556.2 861.2L562.4 858.5L568.6 855.8L574.7 853.1L580.7 850.5L586.6 847.9L592.5 845.3L598.3 842.8L604 840.3L609.7 837.8L615.2 835.4L620.8 833M544.5 892.1L537.5 886.5L530.5 881L523.6 875.7L516.8 870.4L510.1 865.2L503.5 860.2L497 855.2L490.5 850.3L484.1 845.5L477.8 840.8L471.6 836.3L465.5 831.8L459.4 827.3L453.4 823L447.5 818.8L441.6 814.6L435.8 810.5L430.1 806.5L424.5 802.6L418.9 798.8M489.2 883L496.2 879.8L503.2 876.6L510.1 873.5L516.8 870.4L523.5 867.4L530.1 864.4L536.6 861.4L543.1 858.5L549.4 855.6L555.7 852.8L561.8 850L567.9 847.3L574 844.6L579.9 841.9L585.8 839.3L591.6 836.7L597.3 834.1L603 831.6L608.6 829.1L614.1 826.7M551.2 889.3L544.1 883.7L537.2 878.1L530.3 872.7L523.5 867.4L516.8 862.1L510.2 857L503.7 851.9L497.2 847L490.8 842.1L484.5 837.4L478.3 832.7L472.1 828.1L466.1 823.6L460.1 819.2L454.1 814.9L448.3 810.7L442.5 806.5L436.8 802.5L431.1 798.5L425.5 794.6M482.5 878.2L489.5 874.9L496.5 871.6L503.4 868.4L510.1 865.2L516.8 862.1L523.4 859L529.9 856L536.4 853L542.7 850.1L549 847.2L555.2 844.3L561.3 841.5L567.3 838.7L573.3 836L579.2 833.3L585 830.7L590.7 828L596.4 825.5L602 822.9L607.5 820.4M557.7 886.6L550.7 880.9L543.8 875.3L536.9 869.8L530.1 864.4L523.4 859L516.8 853.8L510.3 848.7L503.8 843.7L497.4 838.8L491.1 833.9L484.9 829.2L478.7 824.5L472.7 820L466.7 815.5L460.7 811.1L454.8 806.8L449 802.6L443.3 798.5L437.6 794.4L432 790.4M475.9 873.4L482.9 870L489.9 866.7L496.7 863.4L503.5 860.2L510.2 857L516.8 853.8L523.3 850.7L529.8 847.7L536.1 844.7L542.4 841.7L548.6 838.8L554.7 835.9L560.7 833L566.7 830.2L572.6 827.5L578.4 824.7L584.2 822.1L589.9 819.4L595.5 816.8L601 814.2M564.2 884L557.2 878.2L550.3 872.5L543.4 866.9L536.6 861.4L529.9 856L523.3 850.7L516.8 845.5L510.3 840.4L504 835.4L497.6 830.5L491.4 825.7L485.3 821L479.2 816.4L473.2 811.8L467.2 807.4L461.3 803L455.5 798.7L449.8 794.5L444.1 790.4L438.5 786.3M469.3 868.7L476.4 865.3L483.3 861.9L490.2 858.5L497 855.2L503.7 851.9L510.3 848.7L516.8 845.5L523.2 842.4L529.6 839.3L535.9 836.3L542.1 833.3L548.2 830.3L554.2 827.4L560.2 824.6L566.1 821.7L572 818.9L577.7 816.2L583.4 813.5L589 810.8L594.6 808.1M570.6 881.3L563.6 875.5L556.7 869.7L549.8 864L543.1 858.5L536.4 853L529.8 847.7L523.2 842.4L516.8 837.2L510.4 832.2L504.1 827.2L497.9 822.3L491.7 817.5L485.6 812.8L479.6 808.2L473.7 803.7L467.8 799.2L462 794.9L456.2 790.6L450.5 786.4L444.9 782.3M462.9 864.2L469.9 860.6L476.9 857.1L483.7 853.7L490.5 850.3L497.2 847L503.8 843.7L510.3 840.4L516.8 837.2L523.1 834.1L529.4 831L535.6 827.9L541.8 824.9L547.8 821.9L553.8 819L559.7 816.1L565.5 813.2L571.3 810.4L577 807.6L582.7 804.8L588.2 802.1M576.9 878.8L569.9 872.8L563 867L556.2 861.2L549.4 855.6L542.7 850.1L536.1 844.7L529.6 839.3L523.1 834.1L516.8 829L510.5 823.9L504.2 819L498.1 814.1L492 809.3L486 804.6L480 800L474.1 795.5L468.3 791.1L462.6 786.7L456.9 782.4L451.2 778.3M456.5 859.7L463.6 856.1L470.5 852.5L477.4 849L484.1 845.5L490.8 842.1L497.4 838.8L504 835.4L510.4 832.2L516.8 829L523 825.8L529.3 822.6L535.4 819.5L541.4 816.5L547.4 813.5L553.4 810.5L559.2 807.6L565 804.7L570.7 801.8L576.3 799L581.9 796.2M583.2 876.2L576.2 870.2L569.2 864.3L562.4 858.5L555.7 852.8L549 847.2L542.4 841.7L535.9 836.3L529.4 831L523 825.8L516.7 820.7L510.5 815.6L504.4 810.7L498.3 805.8L492.2 801.1L486.3 796.4L480.4 791.8L474.6 787.3L468.8 782.9L463.1 778.6L457.5 774.3M450.2 855.3L457.3 851.6L464.2 848L471.1 844.4L477.8 840.8L484.5 837.4L491.1 833.9L497.6 830.5L504.1 827.2L510.5 823.9L516.7 820.7L523 817.5L529.1 814.3L535.2 811.2L541.2 808.1L547.1 805L552.9 802L558.7 799.1L564.4 796.2L570.1 793.3L575.7 790.4M589.3 873.7L582.3 867.6L575.4 861.6L568.6 855.8L561.8 850L555.2 844.3L548.6 838.8L542.1 833.3L535.6 827.9L529.3 822.6L523 817.5L516.7 812.4L510.6 807.3L504.5 802.4L498.5 797.6L492.5 792.9L486.6 788.2L480.8 783.6L475 779.1L469.3 774.7L463.7 770.4M444 851L451.1 847.2L458 843.5L464.8 839.9L471.6 836.3L478.3 832.7L484.9 829.2L491.4 825.7L497.9 822.3L504.2 819L510.5 815.6L516.7 812.4L522.9 809.1L528.9 805.9L534.9 802.8L540.9 799.7L546.7 796.6L552.5 793.6L558.2 790.6L563.9 787.6L569.5 784.7M595.4 871.2L588.4 865.1L581.5 859L574.7 853.1L567.9 847.3L561.3 841.5L554.7 835.9L548.2 830.3L541.8 824.9L535.4 819.5L529.1 814.3L522.9 809.1L516.7 804L510.6 799.1L504.6 794.2L498.6 789.3L492.8 784.6L486.9 780L481.2 775.4L475.5 770.9L469.8 766.5M437.9 846.8L444.9 842.9L451.9 839.2L458.7 835.4L465.5 831.8L472.1 828.1L478.7 824.5L485.3 821L491.7 817.5L498.1 814.1L504.4 810.7L510.6 807.3L516.7 804L522.8 800.8L528.8 797.6L534.7 794.4L540.6 791.3L546.4 788.2L552.1 785.1L557.8 782.1L563.4 779.1M601.3 868.8L594.4 862.6L587.5 856.5L580.7 850.5L574 844.6L567.3 838.7L560.7 833L554.2 827.4L547.8 821.9L541.4 816.5L535.2 811.2L528.9 805.9L522.8 800.8L516.7 795.7L510.7 790.8L504.7 785.9L498.8 781.1L493 776.4L487.2 771.7L481.5 767.2L475.9 762.7M431.9 842.6L438.9 838.7L445.8 834.9L452.6 831.1L459.4 827.3L466.1 823.6L472.7 820L479.2 816.4L485.6 812.8L492 809.3L498.3 805.8L504.5 802.4L510.6 799.1L516.7 795.7L522.7 792.4L528.6 789.2L534.5 786L540.3 782.8L546 779.7L551.7 776.6L557.3 773.6M607.2 866.4L600.3 860.1L593.4 853.9L586.6 847.9L579.9 841.9L573.3 836L566.7 830.2L560.2 824.6L553.8 819L547.4 813.5L541.2 808.1L534.9 802.8L528.8 797.6L522.7 792.4L516.7 787.4L510.7 782.4L504.8 777.6L499 772.8L493.2 768.1L487.5 763.5L481.9 758.9M425.9 838.6L432.9 834.6L439.8 830.7L446.7 826.8L453.4 823L460.1 819.2L466.7 815.5L473.2 811.8L479.6 808.2L486 804.6L492.2 801.1L498.5 797.6L504.6 794.2L510.7 790.8L516.7 787.4L522.6 784.1L528.5 780.8L534.3 777.6L540 774.4L545.7 771.2L551.3 768.1M613.1 864.1L606.1 857.7L599.3 851.4L592.5 845.3L585.8 839.3L579.2 833.3L572.6 827.5L566.1 821.7L559.7 816.1L553.4 810.5L547.1 805L540.9 799.7L534.7 794.4L528.6 789.2L522.6 784.1L516.7 779.1L510.8 774.1L505 769.3L499.2 764.5L493.5 759.8L487.8 755.2M420 834.7L427 830.6L433.9 826.6L440.7 822.7L447.5 818.8L454.1 814.9L460.7 811.1L467.2 807.4L473.7 803.7L480 800L486.3 796.4L492.5 792.9L498.6 789.3L504.7 785.9L510.7 782.4L516.7 779.1L522.5 775.7L528.4 772.4L534.1 769.2L539.8 765.9L545.4 762.8M618.8 861.7L611.9 855.3L605.1 849L598.3 842.8L591.6 836.7L585 830.7L578.4 824.7L572 818.9L565.5 813.2L559.2 807.6L552.9 802L546.7 796.6L540.6 791.3L534.5 786L528.5 780.8L522.5 775.7L516.7 770.7L510.8 765.8L505.1 761L499.4 756.2L493.7 751.5M414.2 830.8L421.2 826.7L428.1 822.6L434.9 818.6L441.6 814.6L448.3 810.7L454.8 806.8L461.3 803L467.8 799.2L474.1 795.5L480.4 791.8L486.6 788.2L492.8 784.6L498.8 781.1L504.8 777.6L510.8 774.1L516.7 770.7L522.5 767.3L528.2 764L533.9 760.7L539.5 757.5M624.5 859.4L617.6 853L610.8 846.6L604 840.3L597.3 834.1L590.7 828L584.2 822.1L577.7 816.2L571.3 810.4L565 804.7L558.7 799.1L552.5 793.6L546.4 788.2L540.3 782.8L534.3 777.6L528.4 772.4L522.5 767.3L516.6 762.4L510.9 757.5L505.2 752.6L499.5 747.9M408.5 827L415.4 822.8L422.3 818.7L429.1 814.6L435.8 810.5L442.5 806.5L449 802.6L455.5 798.7L462 794.9L468.3 791.1L474.6 787.3L480.8 783.6L486.9 780L493 776.4L499 772.8L505 769.3L510.8 765.8L516.6 762.4L522.4 759L528.1 755.6L533.7 752.3M630.1 857.2L623.2 850.6L616.4 844.2L609.7 837.8L603 831.6L596.4 825.5L589.9 819.4L583.4 813.5L577 807.6L570.7 801.8L564.4 796.2L558.2 790.6L552.1 785.1L546 779.7L540 774.4L534.1 769.2L528.2 764L522.4 759L516.6 754L510.9 749.1L505.3 744.3M402.8 823.3L409.7 819L416.6 814.8L423.4 810.6L430.1 806.5L436.8 802.5L443.3 798.5L449.8 794.5L456.2 790.6L462.6 786.7L468.8 782.9L475 779.1L481.2 775.4L487.2 771.7L493.2 768.1L499.2 764.5L505.1 761L510.9 757.5L516.6 754L522.3 750.6L527.9 747.2M635.6 855L628.8 848.3L622 841.8L615.2 835.4L608.6 829.1L602 822.9L595.5 816.8L589 810.8L582.7 804.8L576.3 799L570.1 793.3L563.9 787.6L557.8 782.1L551.7 776.6L545.7 771.2L539.8 765.9L533.9 760.7L528.1 755.6L522.3 750.6L516.6 745.6L511 740.7M397.2 819.7L404.1 815.3L411 811L417.8 806.8L424.5 802.6L431.1 798.5L437.6 794.4L444.1 790.4L450.5 786.4L456.9 782.4L463.1 778.6L469.3 774.7L475.5 770.9L481.5 767.2L487.5 763.5L493.5 759.8L499.4 756.2L505.2 752.6L510.9 749.1L516.6 745.6L522.2 742.2M641.1 852.8L634.2 846.1L627.5 839.5L620.8 833L614.1 826.7L607.5 820.4L601 814.2L594.6 808.1L588.2 802.1L581.9 796.2L575.7 790.4L569.5 784.7L563.4 779.1L557.3 773.6L551.3 768.1L545.4 762.8L539.5 757.5L533.7 752.3L527.9 747.2L522.2 742.2L516.6 737.2M391.7 816.1L398.6 811.7L405.4 807.3L412.2 803L418.9 798.8L425.5 794.6L432 790.4L438.5 786.3L444.9 782.3L451.2 778.3L457.5 774.3L463.7 770.4L469.8 766.5L475.9 762.7L481.9 758.9L487.8 755.2L493.7 751.5L499.5 747.9L505.3 744.3L511 740.7L516.6 737.2" stroke="#000" stroke-opacity="0.9" stroke-width="0.8" fill="none" stroke-linejoin="round"/><circle cx="486.7" cy="796.6" r="2.5" fill="#c00000" stroke="#300" stroke-width="0.5"/><circle cx="547.5" cy="805.2" r="2.5" fill="#c00000" stroke="#300" stroke-width="0.5"/><text x="389" y="879.2" class="tk3f" text-anchor="end">0</text><text x="388.3" y="858" class="tk3f" text-anchor="end">0.1</text><text x="387.6" y="836.6" class="tk3f" text-anchor="end">0.2</text><text x="386.9" y="815" class="tk3f" text-anchor="end">0.3</text><text x="386.2" y="793.1" class="tk3f" text-anchor="end">0.4</text><text x="385.5" y="771" class="tk3f" text-anchor="end">0.5</text><text x="384.7" y="748.7" class="tk3f" text-anchor="end">0.6</text><text x="511.4" y="974.5" class="tk3f" text-anchor="end">-2</text><text x="480.9" y="963.7" class="tk3f" text-anchor="end">-1</text><text x="450.4" y="952.9" class="tk3f" text-anchor="end">0</text><text x="420" y="942" class="tk3f" text-anchor="end">1</text><text x="389.5" y="931.2" class="tk3f" text-anchor="end">2</text><text x="522.5" y="974.5" class="tk3f" text-anchor="start">-2</text><text x="553" y="963.7" class="tk3f" text-anchor="start">-1</text><text x="583.5" y="953" class="tk3f" text-anchor="start">0</text><text x="614" y="942.2" class="tk3f" text-anchor="start">1</text><text x="644.5" y="931.5" class="tk3f" text-anchor="start">2</text><circle cx="393.8" cy="881.2" r="1.3" fill="#000"/><circle cx="393.1" cy="860" r="1.3" fill="#000"/><circle cx="392.4" cy="838.6" r="1.3" fill="#000"/><circle cx="391.7" cy="817" r="1.3" fill="#000"/><circle cx="391" cy="795.1" r="1.3" fill="#000"/><circle cx="390.3" cy="773" r="1.3" fill="#000"/><circle cx="389.5" cy="750.7" r="1.3" fill="#000"/><circle cx="517" cy="965.7" r="1.3" fill="#000"/><circle cx="486.5" cy="954.9" r="1.3" fill="#000"/><circle cx="456" cy="944.1" r="1.3" fill="#000"/><circle cx="425.6" cy="933.2" r="1.3" fill="#000"/><circle cx="395.1" cy="922.4" r="1.3" fill="#000"/><circle cx="517" cy="965.7" r="1.3" fill="#000"/><circle cx="547.5" cy="954.9" r="1.3" fill="#000"/><circle cx="578" cy="944.2" r="1.3" fill="#000"/><circle cx="608.5" cy="933.4" r="1.3" fill="#000"/><circle cx="639" cy="922.7" r="1.3" fill="#000"/><text transform="translate(352.2 838) rotate(-90)" class="ax3f" text-anchor="middle">Skin Friction</text><text x="408.5" y="967.5" class="ax3f" text-anchor="middle">C: Forchheimer Number</text><text x="625.2" y="967.5" class="ax3f" text-anchor="middle">B: Sisk-fluid parameter</text><text x="520.2" y="1029.6" class="cap" text-anchor="middle">(f)</text></svg></body></html>
